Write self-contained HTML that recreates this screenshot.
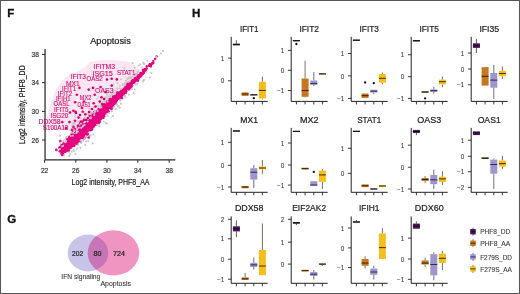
<!DOCTYPE html>
<html><head><meta charset="utf-8"><style>
html,body{margin:0;padding:0;background:#fff;width:520px;height:294px;overflow:hidden;font-family:"Liberation Sans", sans-serif;}
svg{display:block;will-change:transform;position:absolute;left:0;top:0;}
svg.c{filter:blur(0.3px);}
</style></head><body>
<svg class="c" xmlns="http://www.w3.org/2000/svg" width="520" height="294" viewBox="0 0 520 294" font-family='"Liberation Sans", sans-serif'><path d="M90 62 C100 59.5 120 59 132 63 C137 66 140 71 141 76 L82 130 C70 131 55 131 47 128 L47 118 C49 108 52 97 57 88 C62 80 68 74 75 72 C82 70 87 66 90 62 Z" fill="#fde6f1"/>
<circle cx="98.5" cy="107.7" r="1.1" fill="#c9c7cc"/>
<circle cx="87.9" cy="125.2" r="1.1" fill="#c9c7cc"/>
<circle cx="81.0" cy="129.8" r="1.1" fill="#c9c7cc"/>
<circle cx="102.8" cy="115.9" r="1.1" fill="#c9c7cc"/>
<circle cx="96.7" cy="106.0" r="1.1" fill="#c9c7cc"/>
<circle cx="75.6" cy="143.1" r="1.1" fill="#c9c7cc"/>
<circle cx="125.2" cy="86.9" r="1.1" fill="#c9c7cc"/>
<circle cx="112.3" cy="96.3" r="1.1" fill="#c9c7cc"/>
<circle cx="72.9" cy="138.0" r="1.1" fill="#c9c7cc"/>
<circle cx="90.4" cy="114.8" r="1.1" fill="#c9c7cc"/>
<circle cx="127.6" cy="84.4" r="1.1" fill="#c9c7cc"/>
<circle cx="77.1" cy="148.4" r="1.1" fill="#c9c7cc"/>
<circle cx="97.2" cy="110.4" r="1.1" fill="#c9c7cc"/>
<circle cx="86.9" cy="118.1" r="1.1" fill="#c9c7cc"/>
<circle cx="73.3" cy="132.1" r="1.1" fill="#c9c7cc"/>
<circle cx="130.5" cy="84.1" r="1.1" fill="#c9c7cc"/>
<circle cx="69.0" cy="151.8" r="1.1" fill="#c9c7cc"/>
<circle cx="117.3" cy="98.2" r="1.1" fill="#c9c7cc"/>
<circle cx="133.6" cy="92.9" r="1.1" fill="#c9c7cc"/>
<circle cx="116.5" cy="98.7" r="1.1" fill="#c9c7cc"/>
<circle cx="84.0" cy="134.5" r="1.1" fill="#c9c7cc"/>
<circle cx="98.7" cy="106.1" r="1.1" fill="#c9c7cc"/>
<circle cx="60.0" cy="135.7" r="1.1" fill="#c9c7cc"/>
<circle cx="136.9" cy="73.8" r="1.1" fill="#c9c7cc"/>
<circle cx="105.9" cy="99.0" r="1.1" fill="#c9c7cc"/>
<circle cx="107.3" cy="103.6" r="1.1" fill="#c9c7cc"/>
<circle cx="87.0" cy="122.5" r="1.1" fill="#c9c7cc"/>
<circle cx="109.7" cy="100.2" r="1.1" fill="#c9c7cc"/>
<circle cx="61.2" cy="147.0" r="1.1" fill="#c9c7cc"/>
<circle cx="102.2" cy="112.6" r="1.1" fill="#c9c7cc"/>
<circle cx="135.9" cy="74.6" r="1.1" fill="#c9c7cc"/>
<circle cx="122.8" cy="85.1" r="1.1" fill="#c9c7cc"/>
<circle cx="87.6" cy="129.3" r="1.1" fill="#c9c7cc"/>
<circle cx="93.4" cy="117.9" r="1.1" fill="#c9c7cc"/>
<circle cx="90.2" cy="121.2" r="1.1" fill="#c9c7cc"/>
<circle cx="106.5" cy="108.8" r="1.1" fill="#c9c7cc"/>
<circle cx="109.9" cy="106.4" r="1.1" fill="#c9c7cc"/>
<circle cx="106.8" cy="109.1" r="1.1" fill="#c9c7cc"/>
<circle cx="88.9" cy="119.3" r="1.1" fill="#c9c7cc"/>
<circle cx="117.9" cy="92.3" r="1.1" fill="#c9c7cc"/>
<circle cx="120.4" cy="100.4" r="1.1" fill="#c9c7cc"/>
<circle cx="96.5" cy="113.3" r="1.1" fill="#c9c7cc"/>
<circle cx="89.8" cy="117.2" r="1.1" fill="#c9c7cc"/>
<circle cx="75.3" cy="135.7" r="1.1" fill="#c9c7cc"/>
<circle cx="97.7" cy="115.3" r="1.1" fill="#c9c7cc"/>
<circle cx="77.0" cy="130.7" r="1.1" fill="#c9c7cc"/>
<circle cx="102.1" cy="113.9" r="1.1" fill="#c9c7cc"/>
<circle cx="96.7" cy="112.2" r="1.1" fill="#c9c7cc"/>
<circle cx="86.1" cy="141.5" r="1.1" fill="#c9c7cc"/>
<circle cx="75.9" cy="143.4" r="1.1" fill="#c9c7cc"/>
<circle cx="63.6" cy="142.2" r="1.1" fill="#c9c7cc"/>
<circle cx="75.9" cy="135.2" r="1.1" fill="#c9c7cc"/>
<circle cx="71.9" cy="139.8" r="1.1" fill="#c9c7cc"/>
<circle cx="65.5" cy="141.8" r="1.1" fill="#c9c7cc"/>
<circle cx="105.8" cy="123.2" r="1.1" fill="#c9c7cc"/>
<circle cx="126.5" cy="87.8" r="1.1" fill="#c9c7cc"/>
<circle cx="100.0" cy="100.7" r="1.1" fill="#c9c7cc"/>
<circle cx="80.5" cy="126.0" r="1.1" fill="#c9c7cc"/>
<circle cx="102.3" cy="113.5" r="1.1" fill="#c9c7cc"/>
<circle cx="77.2" cy="132.2" r="1.1" fill="#c9c7cc"/>
<circle cx="111.7" cy="111.2" r="1.1" fill="#c9c7cc"/>
<circle cx="103.0" cy="107.3" r="1.1" fill="#c9c7cc"/>
<circle cx="107.5" cy="110.8" r="1.1" fill="#c9c7cc"/>
<circle cx="125.1" cy="91.9" r="1.1" fill="#c9c7cc"/>
<circle cx="95.4" cy="124.9" r="1.1" fill="#c9c7cc"/>
<circle cx="92.9" cy="119.7" r="1.1" fill="#c9c7cc"/>
<circle cx="79.9" cy="140.0" r="1.1" fill="#c9c7cc"/>
<circle cx="88.0" cy="127.6" r="1.1" fill="#c9c7cc"/>
<circle cx="132.2" cy="83.5" r="1.1" fill="#c9c7cc"/>
<circle cx="125.6" cy="91.8" r="1.1" fill="#c9c7cc"/>
<circle cx="65.2" cy="139.8" r="1.1" fill="#c9c7cc"/>
<circle cx="107.9" cy="99.2" r="1.1" fill="#c9c7cc"/>
<circle cx="69.0" cy="151.1" r="1.1" fill="#c9c7cc"/>
<circle cx="84.7" cy="126.1" r="1.1" fill="#c9c7cc"/>
<circle cx="90.4" cy="124.6" r="1.1" fill="#c9c7cc"/>
<circle cx="132.8" cy="85.5" r="1.1" fill="#c9c7cc"/>
<circle cx="90.5" cy="120.3" r="1.1" fill="#c9c7cc"/>
<circle cx="100.7" cy="113.0" r="1.1" fill="#c9c7cc"/>
<circle cx="71.4" cy="138.9" r="1.1" fill="#c9c7cc"/>
<circle cx="127.0" cy="84.6" r="1.1" fill="#c9c7cc"/>
<circle cx="90.1" cy="122.0" r="1.1" fill="#c9c7cc"/>
<circle cx="69.8" cy="143.9" r="1.1" fill="#c9c7cc"/>
<circle cx="63.4" cy="148.9" r="1.1" fill="#c9c7cc"/>
<circle cx="113.2" cy="106.1" r="1.1" fill="#c9c7cc"/>
<circle cx="130.7" cy="78.2" r="1.1" fill="#c9c7cc"/>
<circle cx="95.8" cy="115.1" r="1.1" fill="#c9c7cc"/>
<circle cx="112.8" cy="95.1" r="1.1" fill="#c9c7cc"/>
<circle cx="110.5" cy="97.4" r="1.1" fill="#c9c7cc"/>
<circle cx="87.9" cy="130.5" r="1.1" fill="#c9c7cc"/>
<circle cx="96.7" cy="111.4" r="1.1" fill="#c9c7cc"/>
<circle cx="75.4" cy="135.5" r="1.1" fill="#c9c7cc"/>
<circle cx="77.0" cy="134.7" r="1.1" fill="#c9c7cc"/>
<circle cx="114.9" cy="93.7" r="1.1" fill="#c9c7cc"/>
<circle cx="106.7" cy="123.5" r="1.1" fill="#c9c7cc"/>
<circle cx="63.5" cy="140.7" r="1.1" fill="#c9c7cc"/>
<circle cx="92.6" cy="121.9" r="1.1" fill="#c9c7cc"/>
<circle cx="126.7" cy="85.3" r="1.1" fill="#c9c7cc"/>
<circle cx="144.4" cy="63.9" r="1.1" fill="#c9c7cc"/>
<circle cx="60.9" cy="144.7" r="1.1" fill="#c9c7cc"/>
<circle cx="124.9" cy="83.4" r="1.1" fill="#c9c7cc"/>
<circle cx="95.4" cy="111.8" r="1.1" fill="#c9c7cc"/>
<circle cx="82.4" cy="133.4" r="1.1" fill="#c9c7cc"/>
<circle cx="99.4" cy="120.8" r="1.1" fill="#c9c7cc"/>
<circle cx="97.0" cy="113.3" r="1.1" fill="#c9c7cc"/>
<circle cx="85.7" cy="126.1" r="1.1" fill="#c9c7cc"/>
<circle cx="106.9" cy="105.0" r="1.1" fill="#c9c7cc"/>
<circle cx="87.8" cy="129.4" r="1.1" fill="#c9c7cc"/>
<circle cx="100.8" cy="121.2" r="1.1" fill="#c9c7cc"/>
<circle cx="88.3" cy="127.8" r="1.1" fill="#c9c7cc"/>
<circle cx="63.1" cy="145.9" r="1.1" fill="#c9c7cc"/>
<circle cx="92.3" cy="127.2" r="1.1" fill="#c9c7cc"/>
<circle cx="71.7" cy="132.7" r="1.1" fill="#c9c7cc"/>
<circle cx="73.4" cy="138.8" r="1.1" fill="#c9c7cc"/>
<circle cx="117.2" cy="92.5" r="1.1" fill="#c9c7cc"/>
<circle cx="105.3" cy="111.1" r="1.1" fill="#c9c7cc"/>
<circle cx="81.1" cy="143.0" r="1.1" fill="#c9c7cc"/>
<circle cx="124.8" cy="95.8" r="1.1" fill="#c9c7cc"/>
<circle cx="78.3" cy="144.4" r="1.1" fill="#c9c7cc"/>
<circle cx="108.2" cy="102.5" r="1.1" fill="#c9c7cc"/>
<circle cx="86.9" cy="129.8" r="1.1" fill="#c9c7cc"/>
<circle cx="104.8" cy="108.1" r="1.1" fill="#c9c7cc"/>
<circle cx="94.1" cy="122.8" r="1.1" fill="#c9c7cc"/>
<circle cx="78.4" cy="138.8" r="1.1" fill="#c9c7cc"/>
<circle cx="80.3" cy="131.8" r="1.1" fill="#c9c7cc"/>
<circle cx="123.7" cy="87.9" r="1.1" fill="#c9c7cc"/>
<circle cx="134.9" cy="74.2" r="1.1" fill="#c9c7cc"/>
<circle cx="114.1" cy="97.8" r="1.1" fill="#c9c7cc"/>
<circle cx="112.6" cy="108.1" r="1.1" fill="#c9c7cc"/>
<circle cx="90.7" cy="120.2" r="1.1" fill="#c9c7cc"/>
<circle cx="90.7" cy="135.5" r="1.1" fill="#c9c7cc"/>
<circle cx="118.3" cy="106.4" r="1.1" fill="#c9c7cc"/>
<circle cx="92.0" cy="120.7" r="1.1" fill="#c9c7cc"/>
<circle cx="106.0" cy="111.8" r="1.1" fill="#c9c7cc"/>
<circle cx="114.9" cy="99.2" r="1.1" fill="#c9c7cc"/>
<circle cx="107.4" cy="106.3" r="1.1" fill="#c9c7cc"/>
<circle cx="106.8" cy="114.4" r="1.1" fill="#c9c7cc"/>
<circle cx="131.9" cy="89.0" r="1.1" fill="#c9c7cc"/>
<circle cx="137.6" cy="83.8" r="1.1" fill="#c9c7cc"/>
<circle cx="114.6" cy="97.1" r="1.1" fill="#c9c7cc"/>
<circle cx="120.9" cy="103.7" r="1.1" fill="#c9c7cc"/>
<circle cx="82.7" cy="123.6" r="1.1" fill="#c9c7cc"/>
<circle cx="91.3" cy="120.8" r="1.1" fill="#c9c7cc"/>
<circle cx="63.3" cy="152.7" r="1.1" fill="#c9c7cc"/>
<circle cx="151.1" cy="67.3" r="1.1" fill="#c9c7cc"/>
<circle cx="78.3" cy="142.7" r="1.1" fill="#c9c7cc"/>
<circle cx="98.4" cy="112.8" r="1.1" fill="#c9c7cc"/>
<circle cx="99.8" cy="112.7" r="1.1" fill="#c9c7cc"/>
<circle cx="63.0" cy="150.7" r="1.1" fill="#c9c7cc"/>
<circle cx="128.7" cy="81.7" r="1.1" fill="#c9c7cc"/>
<circle cx="105.2" cy="116.0" r="1.1" fill="#c9c7cc"/>
<circle cx="110.5" cy="107.5" r="1.1" fill="#c9c7cc"/>
<circle cx="131.8" cy="77.2" r="1.1" fill="#c9c7cc"/>
<circle cx="110.9" cy="96.6" r="1.1" fill="#c9c7cc"/>
<circle cx="85.8" cy="132.0" r="1.1" fill="#c9c7cc"/>
<circle cx="83.6" cy="133.8" r="1.1" fill="#c9c7cc"/>
<circle cx="78.7" cy="136.5" r="1.1" fill="#c9c7cc"/>
<circle cx="111.0" cy="104.5" r="1.1" fill="#c9c7cc"/>
<circle cx="87.3" cy="121.0" r="1.1" fill="#c9c7cc"/>
<circle cx="81.7" cy="132.0" r="1.1" fill="#c9c7cc"/>
<circle cx="104.7" cy="104.6" r="1.1" fill="#c9c7cc"/>
<circle cx="86.1" cy="124.7" r="1.1" fill="#c9c7cc"/>
<circle cx="94.6" cy="117.8" r="1.1" fill="#c9c7cc"/>
<circle cx="118.2" cy="106.0" r="1.1" fill="#c9c7cc"/>
<circle cx="73.6" cy="140.4" r="1.1" fill="#c9c7cc"/>
<circle cx="71.9" cy="141.3" r="1.1" fill="#c9c7cc"/>
<circle cx="69.3" cy="145.8" r="1.1" fill="#c9c7cc"/>
<circle cx="91.8" cy="122.0" r="1.1" fill="#c9c7cc"/>
<circle cx="80.5" cy="147.8" r="1.1" fill="#c9c7cc"/>
<circle cx="114.6" cy="97.3" r="1.1" fill="#c9c7cc"/>
<circle cx="135.4" cy="81.0" r="1.1" fill="#c9c7cc"/>
<circle cx="107.3" cy="94.2" r="1.1" fill="#c9c7cc"/>
<circle cx="130.6" cy="85.0" r="1.1" fill="#c9c7cc"/>
<circle cx="118.0" cy="97.9" r="1.1" fill="#c9c7cc"/>
<circle cx="119.8" cy="107.6" r="1.1" fill="#c9c7cc"/>
<circle cx="146.2" cy="71.7" r="1.1" fill="#c9c7cc"/>
<circle cx="86.2" cy="135.3" r="1.1" fill="#c9c7cc"/>
<circle cx="97.7" cy="112.2" r="1.1" fill="#c9c7cc"/>
<circle cx="109.7" cy="104.9" r="1.1" fill="#c9c7cc"/>
<circle cx="73.2" cy="135.4" r="1.1" fill="#c9c7cc"/>
<circle cx="94.0" cy="120.9" r="1.1" fill="#c9c7cc"/>
<circle cx="94.1" cy="116.6" r="1.1" fill="#c9c7cc"/>
<circle cx="72.0" cy="138.3" r="1.1" fill="#c9c7cc"/>
<circle cx="87.5" cy="128.1" r="1.1" fill="#c9c7cc"/>
<circle cx="122.5" cy="98.8" r="1.1" fill="#c9c7cc"/>
<circle cx="125.0" cy="90.2" r="1.1" fill="#c9c7cc"/>
<circle cx="92.3" cy="117.8" r="1.1" fill="#c9c7cc"/>
<circle cx="104.7" cy="113.5" r="1.1" fill="#c9c7cc"/>
<circle cx="76.4" cy="133.9" r="1.1" fill="#c9c7cc"/>
<circle cx="86.6" cy="126.3" r="1.1" fill="#c9c7cc"/>
<circle cx="104.9" cy="116.1" r="1.1" fill="#c9c7cc"/>
<circle cx="78.8" cy="136.4" r="1.1" fill="#c9c7cc"/>
<circle cx="83.3" cy="140.8" r="1.1" fill="#c9c7cc"/>
<circle cx="116.6" cy="97.3" r="1.1" fill="#c9c7cc"/>
<circle cx="100.1" cy="102.9" r="1.1" fill="#c9c7cc"/>
<circle cx="93.4" cy="134.4" r="1.1" fill="#c9c7cc"/>
<circle cx="120.2" cy="92.4" r="1.1" fill="#c9c7cc"/>
<circle cx="117.0" cy="95.5" r="1.1" fill="#c9c7cc"/>
<circle cx="106.3" cy="111.8" r="1.1" fill="#c9c7cc"/>
<circle cx="72.8" cy="125.2" r="1.1" fill="#c9c7cc"/>
<circle cx="125.3" cy="97.1" r="1.1" fill="#c9c7cc"/>
<circle cx="102.9" cy="117.1" r="1.1" fill="#c9c7cc"/>
<circle cx="89.8" cy="113.9" r="1.1" fill="#c9c7cc"/>
<circle cx="112.8" cy="98.4" r="1.1" fill="#c9c7cc"/>
<circle cx="102.9" cy="108.9" r="1.1" fill="#c9c7cc"/>
<circle cx="132.6" cy="76.5" r="1.1" fill="#c9c7cc"/>
<circle cx="102.8" cy="106.3" r="1.1" fill="#c9c7cc"/>
<circle cx="97.7" cy="117.7" r="1.1" fill="#c9c7cc"/>
<circle cx="87.8" cy="128.3" r="1.1" fill="#c9c7cc"/>
<circle cx="86.5" cy="133.5" r="1.1" fill="#c9c7cc"/>
<circle cx="93.0" cy="117.0" r="1.1" fill="#c9c7cc"/>
<circle cx="105.0" cy="108.3" r="1.1" fill="#c9c7cc"/>
<circle cx="83.3" cy="132.9" r="1.1" fill="#c9c7cc"/>
<circle cx="134.7" cy="77.6" r="1.1" fill="#c9c7cc"/>
<circle cx="125.4" cy="85.9" r="1.1" fill="#c9c7cc"/>
<circle cx="69.3" cy="155.9" r="1.1" fill="#c9c7cc"/>
<circle cx="81.0" cy="132.0" r="1.1" fill="#c9c7cc"/>
<circle cx="71.0" cy="136.5" r="1.1" fill="#c9c7cc"/>
<circle cx="121.7" cy="95.1" r="1.1" fill="#c9c7cc"/>
<circle cx="132.7" cy="63.0" r="1.1" fill="#c9c7cc"/>
<circle cx="136.0" cy="84.3" r="1.1" fill="#c9c7cc"/>
<circle cx="134.4" cy="75.8" r="1.1" fill="#c9c7cc"/>
<circle cx="85.8" cy="136.5" r="1.1" fill="#c9c7cc"/>
<circle cx="80.0" cy="130.9" r="1.1" fill="#c9c7cc"/>
<circle cx="60.2" cy="147.8" r="1.1" fill="#c9c7cc"/>
<circle cx="73.4" cy="131.8" r="1.1" fill="#c9c7cc"/>
<circle cx="80.3" cy="125.3" r="1.1" fill="#c9c7cc"/>
<circle cx="88.6" cy="123.7" r="1.1" fill="#c9c7cc"/>
<circle cx="105.2" cy="105.8" r="1.1" fill="#c9c7cc"/>
<circle cx="99.3" cy="121.5" r="1.1" fill="#c9c7cc"/>
<circle cx="85.4" cy="130.7" r="1.1" fill="#c9c7cc"/>
<circle cx="111.9" cy="100.6" r="1.1" fill="#c9c7cc"/>
<circle cx="127.2" cy="78.7" r="1.1" fill="#c9c7cc"/>
<circle cx="126.2" cy="85.0" r="1.1" fill="#c9c7cc"/>
<circle cx="74.6" cy="130.8" r="1.1" fill="#c9c7cc"/>
<circle cx="81.7" cy="128.6" r="1.1" fill="#c9c7cc"/>
<circle cx="126.9" cy="82.1" r="1.1" fill="#c9c7cc"/>
<circle cx="86.2" cy="131.3" r="1.1" fill="#c9c7cc"/>
<circle cx="116.5" cy="102.4" r="1.1" fill="#c9c7cc"/>
<circle cx="64.7" cy="152.6" r="1.1" fill="#c9c7cc"/>
<circle cx="66.3" cy="137.4" r="1.1" fill="#c9c7cc"/>
<circle cx="91.2" cy="125.2" r="1.1" fill="#c9c7cc"/>
<circle cx="103.8" cy="121.5" r="1.1" fill="#c9c7cc"/>
<circle cx="86.7" cy="131.2" r="1.1" fill="#c9c7cc"/>
<circle cx="110.4" cy="108.2" r="1.1" fill="#c9c7cc"/>
<circle cx="98.1" cy="109.6" r="1.1" fill="#c9c7cc"/>
<circle cx="113.9" cy="97.9" r="1.1" fill="#c9c7cc"/>
<circle cx="88.6" cy="132.5" r="1.1" fill="#c9c7cc"/>
<circle cx="140.2" cy="64.4" r="1.1" fill="#c9c7cc"/>
<circle cx="63.7" cy="146.4" r="1.1" fill="#c9c7cc"/>
<circle cx="65.1" cy="148.4" r="1.1" fill="#c9c7cc"/>
<circle cx="92.6" cy="143.3" r="1.1" fill="#c9c7cc"/>
<circle cx="99.1" cy="110.3" r="1.1" fill="#c9c7cc"/>
<circle cx="109.9" cy="99.7" r="1.1" fill="#c9c7cc"/>
<circle cx="93.4" cy="115.5" r="1.1" fill="#c9c7cc"/>
<circle cx="151.5" cy="63.9" r="1.1" fill="#c9c7cc"/>
<circle cx="90.6" cy="131.5" r="1.1" fill="#c9c7cc"/>
<circle cx="66.5" cy="137.4" r="1.1" fill="#c9c7cc"/>
<circle cx="71.9" cy="142.1" r="1.1" fill="#c9c7cc"/>
<circle cx="126.0" cy="84.6" r="1.1" fill="#c9c7cc"/>
<circle cx="104.8" cy="105.4" r="1.1" fill="#c9c7cc"/>
<circle cx="119.3" cy="93.3" r="1.1" fill="#c9c7cc"/>
<circle cx="88.1" cy="133.4" r="1.1" fill="#c9c7cc"/>
<circle cx="112.3" cy="99.7" r="1.1" fill="#c9c7cc"/>
<circle cx="104.3" cy="114.0" r="1.1" fill="#c9c7cc"/>
<circle cx="150.0" cy="77.4" r="1.1" fill="#c9c7cc"/>
<circle cx="76.3" cy="129.9" r="1.1" fill="#c9c7cc"/>
<circle cx="90.8" cy="115.8" r="1.1" fill="#c9c7cc"/>
<circle cx="131.0" cy="85.0" r="1.1" fill="#c9c7cc"/>
<circle cx="76.1" cy="143.2" r="1.1" fill="#c9c7cc"/>
<circle cx="147.4" cy="61.0" r="1.1" fill="#c9c7cc"/>
<circle cx="95.6" cy="114.1" r="1.1" fill="#c9c7cc"/>
<circle cx="63.7" cy="148.3" r="1.1" fill="#c9c7cc"/>
<circle cx="82.6" cy="130.6" r="1.1" fill="#c9c7cc"/>
<circle cx="122.2" cy="89.0" r="1.1" fill="#c9c7cc"/>
<circle cx="103.4" cy="102.1" r="1.1" fill="#c9c7cc"/>
<circle cx="83.5" cy="134.2" r="1.1" fill="#c9c7cc"/>
<circle cx="98.3" cy="113.4" r="1.1" fill="#c9c7cc"/>
<circle cx="128.8" cy="77.7" r="1.1" fill="#c9c7cc"/>
<circle cx="116.9" cy="92.1" r="1.1" fill="#c9c7cc"/>
<circle cx="111.2" cy="93.8" r="1.1" fill="#c9c7cc"/>
<circle cx="122.3" cy="93.7" r="1.1" fill="#c9c7cc"/>
<circle cx="101.5" cy="117.0" r="1.1" fill="#c9c7cc"/>
<circle cx="73.9" cy="151.3" r="1.1" fill="#c9c7cc"/>
<circle cx="115.8" cy="96.5" r="1.1" fill="#c9c7cc"/>
<circle cx="149.4" cy="64.2" r="1.1" fill="#c9c7cc"/>
<circle cx="127.1" cy="88.4" r="1.1" fill="#c9c7cc"/>
<circle cx="128.8" cy="94.7" r="1.1" fill="#c9c7cc"/>
<circle cx="130.7" cy="89.6" r="1.1" fill="#c9c7cc"/>
<circle cx="84.5" cy="138.0" r="1.1" fill="#c9c7cc"/>
<circle cx="100.8" cy="109.2" r="1.1" fill="#c9c7cc"/>
<circle cx="121.1" cy="88.9" r="1.1" fill="#c9c7cc"/>
<circle cx="111.6" cy="95.8" r="1.1" fill="#c9c7cc"/>
<circle cx="97.0" cy="113.2" r="1.1" fill="#c9c7cc"/>
<circle cx="85.2" cy="135.6" r="1.1" fill="#c9c7cc"/>
<circle cx="71.4" cy="134.4" r="1.1" fill="#c9c7cc"/>
<circle cx="71.7" cy="135.0" r="1.1" fill="#c9c7cc"/>
<circle cx="92.3" cy="119.9" r="1.1" fill="#c9c7cc"/>
<circle cx="100.3" cy="111.9" r="1.1" fill="#c9c7cc"/>
<circle cx="99.0" cy="113.9" r="1.1" fill="#c9c7cc"/>
<circle cx="73.1" cy="122.7" r="1.1" fill="#c9c7cc"/>
<circle cx="108.3" cy="98.4" r="1.1" fill="#c9c7cc"/>
<circle cx="60.0" cy="148.6" r="1.1" fill="#c9c7cc"/>
<circle cx="125.3" cy="87.1" r="1.1" fill="#c9c7cc"/>
<circle cx="76.0" cy="130.7" r="1.1" fill="#c9c7cc"/>
<circle cx="83.4" cy="130.6" r="1.1" fill="#c9c7cc"/>
<circle cx="101.0" cy="108.0" r="1.1" fill="#c9c7cc"/>
<circle cx="111.2" cy="104.0" r="1.1" fill="#c9c7cc"/>
<circle cx="78.1" cy="128.9" r="1.1" fill="#c9c7cc"/>
<circle cx="76.0" cy="136.0" r="1.1" fill="#c9c7cc"/>
<circle cx="105.5" cy="107.1" r="1.1" fill="#c9c7cc"/>
<circle cx="130.2" cy="80.6" r="1.1" fill="#c9c7cc"/>
<circle cx="112.7" cy="98.1" r="1.1" fill="#c9c7cc"/>
<circle cx="97.5" cy="113.5" r="1.1" fill="#c9c7cc"/>
<circle cx="85.7" cy="131.8" r="1.1" fill="#c9c7cc"/>
<circle cx="60.2" cy="142.0" r="1.1" fill="#c9c7cc"/>
<circle cx="89.4" cy="135.5" r="1.1" fill="#c9c7cc"/>
<circle cx="64.2" cy="154.8" r="1.1" fill="#c9c7cc"/>
<circle cx="116.1" cy="94.9" r="1.1" fill="#c9c7cc"/>
<circle cx="94.6" cy="115.3" r="1.1" fill="#c9c7cc"/>
<circle cx="100.7" cy="113.3" r="1.1" fill="#c9c7cc"/>
<circle cx="98.6" cy="120.7" r="1.1" fill="#c9c7cc"/>
<circle cx="111.2" cy="106.4" r="1.1" fill="#c9c7cc"/>
<circle cx="99.5" cy="111.8" r="1.1" fill="#c9c7cc"/>
<circle cx="72.2" cy="144.3" r="1.1" fill="#c9c7cc"/>
<circle cx="99.1" cy="113.5" r="1.1" fill="#c9c7cc"/>
<circle cx="103.2" cy="108.7" r="1.1" fill="#c9c7cc"/>
<circle cx="80.0" cy="132.1" r="1.1" fill="#c9c7cc"/>
<circle cx="120.4" cy="99.7" r="1.1" fill="#c9c7cc"/>
<circle cx="104.2" cy="104.9" r="1.1" fill="#c9c7cc"/>
<circle cx="82.2" cy="128.7" r="1.1" fill="#c9c7cc"/>
<circle cx="125.0" cy="88.7" r="1.1" fill="#c9c7cc"/>
<circle cx="116.3" cy="93.1" r="1.1" fill="#c9c7cc"/>
<circle cx="66.0" cy="145.5" r="1.1" fill="#c9c7cc"/>
<circle cx="138.7" cy="65.5" r="1.1" fill="#c9c7cc"/>
<circle cx="100.3" cy="110.7" r="1.1" fill="#c9c7cc"/>
<circle cx="67.9" cy="140.8" r="1.1" fill="#c9c7cc"/>
<circle cx="96.3" cy="110.5" r="1.1" fill="#c9c7cc"/>
<circle cx="116.8" cy="94.9" r="1.1" fill="#c9c7cc"/>
<circle cx="111.4" cy="96.3" r="1.1" fill="#c9c7cc"/>
<circle cx="75.5" cy="153.8" r="1.1" fill="#c9c7cc"/>
<circle cx="90.0" cy="124.0" r="1.1" fill="#c9c7cc"/>
<circle cx="98.8" cy="116.3" r="1.1" fill="#c9c7cc"/>
<circle cx="126.1" cy="80.8" r="1.1" fill="#c9c7cc"/>
<circle cx="143.5" cy="80.5" r="1.1" fill="#c9c7cc"/>
<circle cx="98.8" cy="124.3" r="1.1" fill="#c9c7cc"/>
<circle cx="121.1" cy="91.1" r="1.1" fill="#c9c7cc"/>
<circle cx="114.0" cy="106.9" r="1.1" fill="#c9c7cc"/>
<circle cx="114.8" cy="96.7" r="1.1" fill="#c9c7cc"/>
<circle cx="104.4" cy="115.6" r="1.1" fill="#c9c7cc"/>
<circle cx="71.2" cy="144.3" r="1.1" fill="#c9c7cc"/>
<circle cx="131.6" cy="82.9" r="1.1" fill="#c9c7cc"/>
<circle cx="74.3" cy="137.0" r="1.1" fill="#c9c7cc"/>
<circle cx="72.6" cy="140.6" r="1.1" fill="#c9c7cc"/>
<circle cx="124.3" cy="94.3" r="1.1" fill="#c9c7cc"/>
<circle cx="90.8" cy="125.5" r="1.1" fill="#c9c7cc"/>
<circle cx="77.6" cy="144.1" r="1.1" fill="#c9c7cc"/>
<circle cx="91.7" cy="118.5" r="1.1" fill="#c9c7cc"/>
<circle cx="70.6" cy="137.2" r="1.1" fill="#c9c7cc"/>
<circle cx="101.5" cy="104.6" r="1.1" fill="#c9c7cc"/>
<circle cx="103.8" cy="99.5" r="1.1" fill="#c9c7cc"/>
<circle cx="65.4" cy="151.9" r="1.1" fill="#c9c7cc"/>
<circle cx="67.8" cy="146.1" r="1.1" fill="#c9c7cc"/>
<circle cx="69.6" cy="149.7" r="1.1" fill="#c9c7cc"/>
<circle cx="100.5" cy="112.9" r="1.1" fill="#c9c7cc"/>
<circle cx="100.4" cy="113.1" r="1.1" fill="#c9c7cc"/>
<circle cx="120.5" cy="91.5" r="1.1" fill="#c9c7cc"/>
<circle cx="81.3" cy="127.2" r="1.1" fill="#c9c7cc"/>
<circle cx="107.4" cy="111.7" r="1.1" fill="#c9c7cc"/>
<circle cx="109.2" cy="96.6" r="1.1" fill="#c9c7cc"/>
<circle cx="85.2" cy="134.9" r="1.1" fill="#c9c7cc"/>
<circle cx="105.1" cy="110.0" r="1.1" fill="#c9c7cc"/>
<circle cx="115.1" cy="97.5" r="1.1" fill="#c9c7cc"/>
<circle cx="104.7" cy="101.5" r="1.1" fill="#c9c7cc"/>
<circle cx="72.4" cy="139.8" r="1.1" fill="#c9c7cc"/>
<circle cx="134.7" cy="89.5" r="1.1" fill="#c9c7cc"/>
<circle cx="85.3" cy="145.0" r="1.1" fill="#c9c7cc"/>
<circle cx="87.9" cy="132.1" r="1.1" fill="#c9c7cc"/>
<circle cx="96.3" cy="111.2" r="1.1" fill="#c9c7cc"/>
<circle cx="138.8" cy="71.4" r="1.1" fill="#c9c7cc"/>
<circle cx="125.7" cy="83.0" r="1.1" fill="#c9c7cc"/>
<circle cx="90.5" cy="123.9" r="1.1" fill="#c9c7cc"/>
<circle cx="99.4" cy="126.2" r="1.1" fill="#c9c7cc"/>
<circle cx="81.1" cy="141.5" r="1.1" fill="#c9c7cc"/>
<circle cx="71.2" cy="144.1" r="1.1" fill="#c9c7cc"/>
<circle cx="85.0" cy="127.2" r="1.1" fill="#c9c7cc"/>
<circle cx="81.4" cy="134.3" r="1.1" fill="#c9c7cc"/>
<circle cx="93.7" cy="107.0" r="1.1" fill="#c9c7cc"/>
<circle cx="100.9" cy="105.4" r="1.1" fill="#c9c7cc"/>
<circle cx="110.4" cy="102.4" r="1.1" fill="#c9c7cc"/>
<circle cx="99.7" cy="119.1" r="1.1" fill="#c9c7cc"/>
<circle cx="142.2" cy="67.6" r="1.1" fill="#c9c7cc"/>
<circle cx="93.5" cy="129.5" r="1.1" fill="#c9c7cc"/>
<circle cx="74.6" cy="142.0" r="1.1" fill="#c9c7cc"/>
<circle cx="84.5" cy="136.2" r="1.1" fill="#c9c7cc"/>
<circle cx="87.6" cy="121.5" r="1.1" fill="#c9c7cc"/>
<circle cx="69.9" cy="141.0" r="1.1" fill="#c9c7cc"/>
<circle cx="109.4" cy="104.1" r="1.1" fill="#c9c7cc"/>
<circle cx="100.7" cy="121.1" r="1.1" fill="#c9c7cc"/>
<circle cx="105.2" cy="109.5" r="1.1" fill="#c9c7cc"/>
<circle cx="85.4" cy="136.5" r="1.1" fill="#c9c7cc"/>
<circle cx="66.0" cy="128.9" r="1.1" fill="#c9c7cc"/>
<circle cx="83.3" cy="135.2" r="1.1" fill="#c9c7cc"/>
<circle cx="85.3" cy="115.5" r="1.1" fill="#c9c7cc"/>
<circle cx="112.0" cy="99.5" r="1.1" fill="#c9c7cc"/>
<circle cx="135.4" cy="84.2" r="1.1" fill="#c9c7cc"/>
<circle cx="86.0" cy="123.6" r="1.1" fill="#d3d0d6"/>
<circle cx="114.1" cy="93.3" r="1.1" fill="#d3d0d6"/>
<circle cx="74.9" cy="123.7" r="1.1" fill="#d3d0d6"/>
<circle cx="109.9" cy="97.2" r="1.1" fill="#d3d0d6"/>
<circle cx="74.8" cy="123.7" r="1.1" fill="#d3d0d6"/>
<circle cx="75.4" cy="122.1" r="1.1" fill="#d3d0d6"/>
<circle cx="88.4" cy="114.3" r="1.1" fill="#d3d0d6"/>
<circle cx="97.2" cy="99.0" r="1.1" fill="#d3d0d6"/>
<circle cx="72.3" cy="125.0" r="1.1" fill="#d3d0d6"/>
<circle cx="77.3" cy="120.9" r="1.1" fill="#d3d0d6"/>
<circle cx="117.4" cy="83.2" r="1.1" fill="#d3d0d6"/>
<circle cx="73.1" cy="132.0" r="1.1" fill="#d3d0d6"/>
<circle cx="122.5" cy="84.1" r="1.1" fill="#d3d0d6"/>
<circle cx="100.7" cy="100.1" r="1.1" fill="#d3d0d6"/>
<circle cx="85.9" cy="113.9" r="1.1" fill="#d3d0d6"/>
<circle cx="112.9" cy="93.9" r="1.1" fill="#d3d0d6"/>
<circle cx="94.9" cy="112.8" r="1.1" fill="#d3d0d6"/>
<circle cx="103.1" cy="102.1" r="1.1" fill="#d3d0d6"/>
<circle cx="77.6" cy="121.4" r="1.1" fill="#d3d0d6"/>
<circle cx="80.0" cy="128.5" r="1.1" fill="#d3d0d6"/>
<circle cx="113.2" cy="94.9" r="1.1" fill="#d3d0d6"/>
<circle cx="113.9" cy="92.9" r="1.1" fill="#d3d0d6"/>
<circle cx="91.1" cy="115.3" r="1.1" fill="#d3d0d6"/>
<circle cx="74.6" cy="130.3" r="1.1" fill="#d3d0d6"/>
<circle cx="69.6" cy="139.7" r="1.1" fill="#d3d0d6"/>
<circle cx="112.6" cy="85.1" r="1.1" fill="#d3d0d6"/>
<circle cx="110.9" cy="96.2" r="1.1" fill="#d3d0d6"/>
<circle cx="66.7" cy="136.9" r="1.1" fill="#d3d0d6"/>
<circle cx="89.1" cy="115.2" r="1.1" fill="#d3d0d6"/>
<circle cx="117.0" cy="88.6" r="1.1" fill="#d3d0d6"/>
<circle cx="76.5" cy="126.9" r="1.1" fill="#d3d0d6"/>
<circle cx="93.0" cy="102.6" r="1.1" fill="#d3d0d6"/>
<circle cx="70.5" cy="130.2" r="1.1" fill="#d3d0d6"/>
<circle cx="72.3" cy="126.6" r="1.1" fill="#d3d0d6"/>
<circle cx="106.4" cy="102.6" r="1.1" fill="#d3d0d6"/>
<circle cx="91.5" cy="113.1" r="1.1" fill="#d3d0d6"/>
<circle cx="109.4" cy="95.6" r="1.1" fill="#d3d0d6"/>
<circle cx="98.5" cy="96.9" r="1.1" fill="#d3d0d6"/>
<circle cx="112.0" cy="85.6" r="1.1" fill="#d3d0d6"/>
<circle cx="74.4" cy="128.4" r="1.1" fill="#d3d0d6"/>
<circle cx="99.8" cy="106.4" r="1.1" fill="#d3d0d6"/>
<circle cx="84.0" cy="124.9" r="1.1" fill="#d3d0d6"/>
<circle cx="102.8" cy="104.6" r="1.1" fill="#d3d0d6"/>
<circle cx="88.5" cy="108.0" r="1.1" fill="#d3d0d6"/>
<circle cx="65.5" cy="139.2" r="1.1" fill="#d3d0d6"/>
<circle cx="88.2" cy="113.6" r="1.1" fill="#d3d0d6"/>
<circle cx="80.5" cy="117.6" r="1.1" fill="#d3d0d6"/>
<circle cx="89.6" cy="109.5" r="1.1" fill="#d3d0d6"/>
<circle cx="113.5" cy="84.4" r="1.1" fill="#d3d0d6"/>
<circle cx="122.7" cy="84.8" r="1.1" fill="#d3d0d6"/>
<circle cx="73.3" cy="132.5" r="1.3" fill="#e6057f"/>
<circle cx="71.6" cy="138.3" r="1.3" fill="#e6057f"/>
<circle cx="85.9" cy="131.2" r="1.3" fill="#e6057f"/>
<circle cx="89.6" cy="126.1" r="1.3" fill="#e6057f"/>
<circle cx="95.9" cy="124.6" r="1.3" fill="#e6057f"/>
<circle cx="90.1" cy="121.5" r="1.3" fill="#e6057f"/>
<circle cx="98.4" cy="117.2" r="1.3" fill="#e6057f"/>
<circle cx="81.9" cy="130.2" r="1.3" fill="#e6057f"/>
<circle cx="76.5" cy="143.8" r="1.3" fill="#e6057f"/>
<circle cx="130.0" cy="83.8" r="1.3" fill="#e6057f"/>
<circle cx="103.0" cy="109.7" r="1.3" fill="#e6057f"/>
<circle cx="98.8" cy="116.1" r="1.3" fill="#e6057f"/>
<circle cx="66.9" cy="149.3" r="1.3" fill="#e6057f"/>
<circle cx="87.2" cy="122.8" r="1.3" fill="#e6057f"/>
<circle cx="93.9" cy="124.0" r="1.3" fill="#e6057f"/>
<circle cx="76.6" cy="139.6" r="1.3" fill="#e6057f"/>
<circle cx="78.1" cy="135.3" r="1.3" fill="#e6057f"/>
<circle cx="69.0" cy="140.5" r="1.3" fill="#e6057f"/>
<circle cx="66.1" cy="149.8" r="1.3" fill="#e6057f"/>
<circle cx="108.9" cy="104.6" r="1.3" fill="#e6057f"/>
<circle cx="100.1" cy="110.8" r="1.3" fill="#e6057f"/>
<circle cx="74.1" cy="137.9" r="1.3" fill="#e6057f"/>
<circle cx="109.8" cy="105.2" r="1.3" fill="#e6057f"/>
<circle cx="78.7" cy="137.1" r="1.3" fill="#e6057f"/>
<circle cx="134.8" cy="79.5" r="1.3" fill="#e6057f"/>
<circle cx="75.8" cy="141.5" r="1.3" fill="#e6057f"/>
<circle cx="100.4" cy="114.6" r="1.3" fill="#e6057f"/>
<circle cx="94.4" cy="118.5" r="1.3" fill="#e6057f"/>
<circle cx="96.1" cy="121.8" r="1.3" fill="#e6057f"/>
<circle cx="92.8" cy="120.2" r="1.3" fill="#e6057f"/>
<circle cx="95.5" cy="118.3" r="1.3" fill="#e6057f"/>
<circle cx="95.0" cy="121.2" r="1.3" fill="#e6057f"/>
<circle cx="78.7" cy="137.7" r="1.3" fill="#e6057f"/>
<circle cx="73.3" cy="143.0" r="1.3" fill="#e6057f"/>
<circle cx="122.1" cy="93.8" r="1.3" fill="#e6057f"/>
<circle cx="72.5" cy="135.6" r="1.3" fill="#e6057f"/>
<circle cx="108.4" cy="106.7" r="1.3" fill="#e6057f"/>
<circle cx="113.8" cy="100.2" r="1.3" fill="#e6057f"/>
<circle cx="123.7" cy="90.8" r="1.3" fill="#e6057f"/>
<circle cx="92.6" cy="123.1" r="1.3" fill="#e6057f"/>
<circle cx="107.4" cy="108.3" r="1.3" fill="#e6057f"/>
<circle cx="75.6" cy="142.6" r="1.3" fill="#e6057f"/>
<circle cx="74.8" cy="129.0" r="1.3" fill="#e6057f"/>
<circle cx="88.3" cy="123.7" r="1.3" fill="#e6057f"/>
<circle cx="105.8" cy="111.6" r="1.3" fill="#e6057f"/>
<circle cx="86.0" cy="132.7" r="1.3" fill="#e6057f"/>
<circle cx="96.3" cy="118.6" r="1.3" fill="#e6057f"/>
<circle cx="81.6" cy="136.0" r="1.3" fill="#e6057f"/>
<circle cx="129.4" cy="85.4" r="1.3" fill="#e6057f"/>
<circle cx="90.0" cy="120.7" r="1.3" fill="#e6057f"/>
<circle cx="68.2" cy="148.2" r="1.3" fill="#e6057f"/>
<circle cx="125.7" cy="88.8" r="1.3" fill="#e6057f"/>
<circle cx="93.8" cy="121.7" r="1.3" fill="#e6057f"/>
<circle cx="91.5" cy="126.8" r="1.3" fill="#e6057f"/>
<circle cx="109.2" cy="105.5" r="1.3" fill="#e6057f"/>
<circle cx="130.2" cy="85.1" r="1.3" fill="#e6057f"/>
<circle cx="128.9" cy="87.6" r="1.3" fill="#e6057f"/>
<circle cx="116.5" cy="100.1" r="1.3" fill="#e6057f"/>
<circle cx="141.3" cy="75.7" r="1.3" fill="#e6057f"/>
<circle cx="146.6" cy="68.6" r="1.3" fill="#e6057f"/>
<circle cx="90.9" cy="124.1" r="1.3" fill="#e6057f"/>
<circle cx="73.2" cy="139.1" r="1.3" fill="#e6057f"/>
<circle cx="81.9" cy="134.0" r="1.3" fill="#e6057f"/>
<circle cx="94.8" cy="119.4" r="1.3" fill="#e6057f"/>
<circle cx="84.6" cy="130.0" r="1.3" fill="#e6057f"/>
<circle cx="77.7" cy="138.3" r="1.3" fill="#e6057f"/>
<circle cx="79.5" cy="132.1" r="1.3" fill="#e6057f"/>
<circle cx="95.6" cy="121.7" r="1.3" fill="#e6057f"/>
<circle cx="123.2" cy="90.5" r="1.3" fill="#e6057f"/>
<circle cx="106.9" cy="101.7" r="1.3" fill="#e6057f"/>
<circle cx="64.9" cy="150.7" r="1.3" fill="#e6057f"/>
<circle cx="79.2" cy="140.2" r="1.3" fill="#e6057f"/>
<circle cx="108.8" cy="104.0" r="1.3" fill="#e6057f"/>
<circle cx="75.2" cy="140.2" r="1.3" fill="#e6057f"/>
<circle cx="117.5" cy="95.2" r="1.3" fill="#e6057f"/>
<circle cx="84.2" cy="131.8" r="1.3" fill="#e6057f"/>
<circle cx="99.8" cy="118.7" r="1.3" fill="#e6057f"/>
<circle cx="125.1" cy="89.7" r="1.3" fill="#e6057f"/>
<circle cx="81.7" cy="131.2" r="1.3" fill="#e6057f"/>
<circle cx="111.0" cy="106.1" r="1.3" fill="#e6057f"/>
<circle cx="94.7" cy="115.3" r="1.3" fill="#e6057f"/>
<circle cx="117.2" cy="97.3" r="1.3" fill="#e6057f"/>
<circle cx="74.4" cy="145.6" r="1.3" fill="#e6057f"/>
<circle cx="86.4" cy="126.3" r="1.3" fill="#e6057f"/>
<circle cx="69.8" cy="143.2" r="1.3" fill="#e6057f"/>
<circle cx="123.4" cy="90.3" r="1.3" fill="#e6057f"/>
<circle cx="93.0" cy="120.4" r="1.3" fill="#e6057f"/>
<circle cx="133.8" cy="81.8" r="1.3" fill="#e6057f"/>
<circle cx="103.3" cy="112.7" r="1.3" fill="#e6057f"/>
<circle cx="105.5" cy="111.8" r="1.3" fill="#e6057f"/>
<circle cx="93.3" cy="115.8" r="1.3" fill="#e6057f"/>
<circle cx="82.8" cy="125.9" r="1.3" fill="#e6057f"/>
<circle cx="113.5" cy="101.2" r="1.3" fill="#e6057f"/>
<circle cx="107.3" cy="107.7" r="1.3" fill="#e6057f"/>
<circle cx="90.9" cy="121.5" r="1.3" fill="#e6057f"/>
<circle cx="96.3" cy="111.9" r="1.3" fill="#e6057f"/>
<circle cx="82.3" cy="138.0" r="1.3" fill="#e6057f"/>
<circle cx="93.3" cy="119.4" r="1.3" fill="#e6057f"/>
<circle cx="97.1" cy="120.8" r="1.3" fill="#e6057f"/>
<circle cx="72.8" cy="143.9" r="1.3" fill="#e6057f"/>
<circle cx="80.4" cy="133.8" r="1.3" fill="#e6057f"/>
<circle cx="130.2" cy="86.5" r="1.3" fill="#e6057f"/>
<circle cx="111.9" cy="103.4" r="1.3" fill="#e6057f"/>
<circle cx="100.7" cy="112.1" r="1.3" fill="#e6057f"/>
<circle cx="105.1" cy="109.9" r="1.3" fill="#e6057f"/>
<circle cx="112.8" cy="99.5" r="1.3" fill="#e6057f"/>
<circle cx="93.9" cy="120.1" r="1.3" fill="#e6057f"/>
<circle cx="71.6" cy="140.6" r="1.3" fill="#e6057f"/>
<circle cx="65.5" cy="145.5" r="1.3" fill="#e6057f"/>
<circle cx="107.8" cy="105.8" r="1.3" fill="#e6057f"/>
<circle cx="104.5" cy="111.7" r="1.3" fill="#e6057f"/>
<circle cx="74.1" cy="142.3" r="1.3" fill="#e6057f"/>
<circle cx="145.5" cy="69.3" r="1.3" fill="#e6057f"/>
<circle cx="92.9" cy="122.8" r="1.3" fill="#e6057f"/>
<circle cx="73.3" cy="140.9" r="1.3" fill="#e6057f"/>
<circle cx="91.4" cy="129.7" r="1.3" fill="#e6057f"/>
<circle cx="83.6" cy="130.3" r="1.3" fill="#e6057f"/>
<circle cx="70.8" cy="140.3" r="1.3" fill="#e6057f"/>
<circle cx="82.2" cy="132.9" r="1.3" fill="#e6057f"/>
<circle cx="116.9" cy="99.0" r="1.3" fill="#e6057f"/>
<circle cx="93.8" cy="117.6" r="1.3" fill="#e6057f"/>
<circle cx="62.3" cy="153.3" r="1.3" fill="#e6057f"/>
<circle cx="98.3" cy="114.6" r="1.3" fill="#e6057f"/>
<circle cx="72.3" cy="141.4" r="1.3" fill="#e6057f"/>
<circle cx="69.5" cy="145.8" r="1.3" fill="#e6057f"/>
<circle cx="110.9" cy="105.8" r="1.3" fill="#e6057f"/>
<circle cx="126.4" cy="88.6" r="1.3" fill="#e6057f"/>
<circle cx="76.4" cy="139.1" r="1.3" fill="#e6057f"/>
<circle cx="110.0" cy="103.1" r="1.3" fill="#e6057f"/>
<circle cx="71.2" cy="143.1" r="1.3" fill="#e6057f"/>
<circle cx="126.1" cy="91.2" r="1.3" fill="#e6057f"/>
<circle cx="110.9" cy="105.4" r="1.3" fill="#e6057f"/>
<circle cx="92.8" cy="122.0" r="1.3" fill="#e6057f"/>
<circle cx="94.3" cy="115.2" r="1.3" fill="#e6057f"/>
<circle cx="98.8" cy="117.7" r="1.3" fill="#e6057f"/>
<circle cx="79.4" cy="129.6" r="1.3" fill="#e6057f"/>
<circle cx="84.0" cy="132.9" r="1.3" fill="#e6057f"/>
<circle cx="75.1" cy="140.4" r="1.3" fill="#e6057f"/>
<circle cx="138.4" cy="78.4" r="1.3" fill="#e6057f"/>
<circle cx="98.8" cy="116.9" r="1.3" fill="#e6057f"/>
<circle cx="136.9" cy="78.5" r="1.3" fill="#e6057f"/>
<circle cx="75.3" cy="137.7" r="1.3" fill="#e6057f"/>
<circle cx="111.2" cy="106.6" r="1.3" fill="#e6057f"/>
<circle cx="88.2" cy="119.6" r="1.3" fill="#e6057f"/>
<circle cx="97.1" cy="118.9" r="1.3" fill="#e6057f"/>
<circle cx="149.8" cy="64.4" r="1.3" fill="#e6057f"/>
<circle cx="93.9" cy="115.2" r="1.3" fill="#e6057f"/>
<circle cx="86.2" cy="126.5" r="1.3" fill="#e6057f"/>
<circle cx="90.5" cy="123.1" r="1.3" fill="#e6057f"/>
<circle cx="73.2" cy="144.0" r="1.3" fill="#e6057f"/>
<circle cx="89.2" cy="127.8" r="1.3" fill="#e6057f"/>
<circle cx="76.5" cy="138.8" r="1.3" fill="#e6057f"/>
<circle cx="143.0" cy="70.1" r="1.3" fill="#e6057f"/>
<circle cx="94.9" cy="120.4" r="1.3" fill="#e6057f"/>
<circle cx="87.5" cy="122.2" r="1.3" fill="#e6057f"/>
<circle cx="76.6" cy="136.4" r="1.3" fill="#e6057f"/>
<circle cx="63.8" cy="148.9" r="1.3" fill="#e6057f"/>
<circle cx="81.2" cy="123.9" r="1.3" fill="#e6057f"/>
<circle cx="118.6" cy="96.1" r="1.3" fill="#e6057f"/>
<circle cx="105.0" cy="109.0" r="1.3" fill="#e6057f"/>
<circle cx="104.4" cy="112.0" r="1.3" fill="#e6057f"/>
<circle cx="64.7" cy="150.7" r="1.3" fill="#e6057f"/>
<circle cx="111.7" cy="101.2" r="1.3" fill="#e6057f"/>
<circle cx="101.8" cy="112.3" r="1.3" fill="#e6057f"/>
<circle cx="86.5" cy="124.6" r="1.3" fill="#e6057f"/>
<circle cx="74.3" cy="143.2" r="1.3" fill="#e6057f"/>
<circle cx="119.3" cy="93.8" r="1.3" fill="#e6057f"/>
<circle cx="95.5" cy="120.7" r="1.3" fill="#e6057f"/>
<circle cx="76.8" cy="140.7" r="1.3" fill="#e6057f"/>
<circle cx="79.9" cy="137.9" r="1.3" fill="#e6057f"/>
<circle cx="119.3" cy="96.5" r="1.3" fill="#e6057f"/>
<circle cx="75.4" cy="140.4" r="1.3" fill="#e6057f"/>
<circle cx="65.3" cy="144.3" r="1.3" fill="#e6057f"/>
<circle cx="120.8" cy="93.7" r="1.3" fill="#e6057f"/>
<circle cx="84.4" cy="134.0" r="1.3" fill="#e6057f"/>
<circle cx="84.6" cy="130.2" r="1.3" fill="#e6057f"/>
<circle cx="104.8" cy="111.5" r="1.3" fill="#e6057f"/>
<circle cx="77.4" cy="138.5" r="1.3" fill="#e6057f"/>
<circle cx="104.1" cy="111.1" r="1.3" fill="#e6057f"/>
<circle cx="102.7" cy="112.1" r="1.3" fill="#e6057f"/>
<circle cx="99.9" cy="118.4" r="1.3" fill="#e6057f"/>
<circle cx="106.6" cy="107.0" r="1.3" fill="#e6057f"/>
<circle cx="86.7" cy="127.0" r="1.3" fill="#e6057f"/>
<circle cx="118.8" cy="97.1" r="1.3" fill="#e6057f"/>
<circle cx="120.6" cy="93.9" r="1.3" fill="#e6057f"/>
<circle cx="92.5" cy="121.1" r="1.3" fill="#e6057f"/>
<circle cx="105.9" cy="111.4" r="1.3" fill="#e6057f"/>
<circle cx="59.8" cy="151.3" r="1.3" fill="#e6057f"/>
<circle cx="104.2" cy="107.0" r="1.3" fill="#e6057f"/>
<circle cx="105.8" cy="110.9" r="1.3" fill="#e6057f"/>
<circle cx="84.3" cy="131.7" r="1.3" fill="#e6057f"/>
<circle cx="80.4" cy="130.9" r="1.3" fill="#e6057f"/>
<circle cx="93.0" cy="124.2" r="1.3" fill="#e6057f"/>
<circle cx="73.2" cy="139.3" r="1.3" fill="#e6057f"/>
<circle cx="103.5" cy="116.0" r="1.3" fill="#e6057f"/>
<circle cx="87.2" cy="126.4" r="1.3" fill="#e6057f"/>
<circle cx="67.8" cy="145.4" r="1.3" fill="#e6057f"/>
<circle cx="106.0" cy="111.2" r="1.3" fill="#e6057f"/>
<circle cx="105.8" cy="106.4" r="1.3" fill="#e6057f"/>
<circle cx="67.5" cy="145.3" r="1.3" fill="#e6057f"/>
<circle cx="75.2" cy="138.8" r="1.3" fill="#e6057f"/>
<circle cx="101.9" cy="110.8" r="1.3" fill="#e6057f"/>
<circle cx="95.4" cy="121.3" r="1.3" fill="#e6057f"/>
<circle cx="95.4" cy="118.5" r="1.3" fill="#e6057f"/>
<circle cx="95.2" cy="120.6" r="1.3" fill="#e6057f"/>
<circle cx="92.0" cy="122.5" r="1.3" fill="#e6057f"/>
<circle cx="93.4" cy="121.6" r="1.3" fill="#e6057f"/>
<circle cx="82.4" cy="129.4" r="1.3" fill="#e6057f"/>
<circle cx="68.4" cy="148.3" r="1.3" fill="#e6057f"/>
<circle cx="101.9" cy="112.4" r="1.3" fill="#e6057f"/>
<circle cx="80.0" cy="133.4" r="1.3" fill="#e6057f"/>
<circle cx="100.7" cy="116.1" r="1.3" fill="#e6057f"/>
<circle cx="93.4" cy="121.2" r="1.3" fill="#e6057f"/>
<circle cx="75.3" cy="143.0" r="1.3" fill="#e6057f"/>
<circle cx="98.3" cy="120.0" r="1.3" fill="#e6057f"/>
<circle cx="94.6" cy="115.7" r="1.3" fill="#e6057f"/>
<circle cx="100.8" cy="112.4" r="1.3" fill="#e6057f"/>
<circle cx="116.3" cy="99.1" r="1.3" fill="#e6057f"/>
<circle cx="98.7" cy="113.2" r="1.3" fill="#e6057f"/>
<circle cx="95.4" cy="116.5" r="1.3" fill="#e6057f"/>
<circle cx="90.6" cy="123.6" r="1.3" fill="#e6057f"/>
<circle cx="74.3" cy="141.1" r="1.3" fill="#e6057f"/>
<circle cx="121.8" cy="93.3" r="1.3" fill="#e6057f"/>
<circle cx="114.2" cy="100.4" r="1.3" fill="#e6057f"/>
<circle cx="117.5" cy="97.8" r="1.3" fill="#e6057f"/>
<circle cx="71.7" cy="142.6" r="1.3" fill="#e6057f"/>
<circle cx="124.3" cy="89.4" r="1.3" fill="#e6057f"/>
<circle cx="73.1" cy="138.7" r="1.3" fill="#e6057f"/>
<circle cx="84.6" cy="126.8" r="1.3" fill="#e6057f"/>
<circle cx="99.1" cy="116.4" r="1.3" fill="#e6057f"/>
<circle cx="69.3" cy="141.1" r="1.3" fill="#e6057f"/>
<circle cx="131.6" cy="86.5" r="1.3" fill="#e6057f"/>
<circle cx="91.4" cy="127.4" r="1.3" fill="#e6057f"/>
<circle cx="102.1" cy="111.8" r="1.3" fill="#e6057f"/>
<circle cx="104.9" cy="111.4" r="1.3" fill="#e6057f"/>
<circle cx="101.0" cy="114.3" r="1.3" fill="#e6057f"/>
<circle cx="73.3" cy="144.7" r="1.3" fill="#e6057f"/>
<circle cx="78.1" cy="136.1" r="1.3" fill="#e6057f"/>
<circle cx="81.4" cy="131.3" r="1.3" fill="#e6057f"/>
<circle cx="95.0" cy="123.2" r="1.3" fill="#e6057f"/>
<circle cx="110.0" cy="107.7" r="1.3" fill="#e6057f"/>
<circle cx="92.7" cy="118.8" r="1.3" fill="#e6057f"/>
<circle cx="69.3" cy="147.3" r="1.3" fill="#e6057f"/>
<circle cx="84.6" cy="130.4" r="1.3" fill="#e6057f"/>
<circle cx="62.3" cy="146.7" r="1.3" fill="#e6057f"/>
<circle cx="83.3" cy="127.4" r="1.3" fill="#e6057f"/>
<circle cx="83.6" cy="135.3" r="1.3" fill="#e6057f"/>
<circle cx="91.6" cy="120.2" r="1.3" fill="#e6057f"/>
<circle cx="83.8" cy="131.4" r="1.3" fill="#e6057f"/>
<circle cx="83.1" cy="135.3" r="1.3" fill="#e6057f"/>
<circle cx="108.9" cy="107.1" r="1.3" fill="#e6057f"/>
<circle cx="125.4" cy="89.7" r="1.3" fill="#e6057f"/>
<circle cx="92.5" cy="114.0" r="1.3" fill="#e6057f"/>
<circle cx="88.3" cy="124.1" r="1.3" fill="#e6057f"/>
<circle cx="129.0" cy="87.9" r="1.3" fill="#e6057f"/>
<circle cx="130.2" cy="83.5" r="1.3" fill="#e6057f"/>
<circle cx="62.7" cy="152.6" r="1.3" fill="#e6057f"/>
<circle cx="82.4" cy="127.5" r="1.3" fill="#e6057f"/>
<circle cx="84.7" cy="128.3" r="1.3" fill="#e6057f"/>
<circle cx="98.1" cy="117.3" r="1.3" fill="#e6057f"/>
<circle cx="144.4" cy="69.6" r="1.3" fill="#e6057f"/>
<circle cx="64.3" cy="151.8" r="1.3" fill="#e6057f"/>
<circle cx="62.7" cy="148.3" r="1.3" fill="#e6057f"/>
<circle cx="124.9" cy="89.7" r="1.3" fill="#e6057f"/>
<circle cx="90.5" cy="124.5" r="1.3" fill="#e6057f"/>
<circle cx="81.1" cy="134.3" r="1.3" fill="#e6057f"/>
<circle cx="88.3" cy="129.0" r="1.3" fill="#e6057f"/>
<circle cx="69.6" cy="147.8" r="1.3" fill="#e6057f"/>
<circle cx="103.1" cy="110.2" r="1.3" fill="#e6057f"/>
<circle cx="72.2" cy="142.8" r="1.3" fill="#e6057f"/>
<circle cx="83.7" cy="128.7" r="1.3" fill="#e6057f"/>
<circle cx="83.0" cy="126.9" r="1.3" fill="#e6057f"/>
<circle cx="109.3" cy="103.6" r="1.3" fill="#e6057f"/>
<circle cx="97.1" cy="118.1" r="1.3" fill="#e6057f"/>
<circle cx="73.2" cy="143.3" r="1.3" fill="#e6057f"/>
<circle cx="99.0" cy="113.7" r="1.3" fill="#e6057f"/>
<circle cx="75.3" cy="130.7" r="1.3" fill="#e6057f"/>
<circle cx="87.2" cy="125.6" r="1.3" fill="#e6057f"/>
<circle cx="110.6" cy="103.3" r="1.3" fill="#e6057f"/>
<circle cx="76.0" cy="137.6" r="1.3" fill="#e6057f"/>
<circle cx="87.5" cy="127.4" r="1.3" fill="#e6057f"/>
<circle cx="114.9" cy="99.6" r="1.3" fill="#e6057f"/>
<circle cx="71.4" cy="141.1" r="1.3" fill="#e6057f"/>
<circle cx="119.6" cy="95.4" r="1.3" fill="#e6057f"/>
<circle cx="102.2" cy="113.1" r="1.3" fill="#e6057f"/>
<circle cx="77.4" cy="137.5" r="1.3" fill="#e6057f"/>
<circle cx="79.9" cy="133.2" r="1.3" fill="#e6057f"/>
<circle cx="111.6" cy="101.9" r="1.3" fill="#e6057f"/>
<circle cx="100.1" cy="115.2" r="1.3" fill="#e6057f"/>
<circle cx="102.0" cy="115.1" r="1.3" fill="#e6057f"/>
<circle cx="99.1" cy="116.4" r="1.3" fill="#e6057f"/>
<circle cx="91.9" cy="121.5" r="1.3" fill="#e6057f"/>
<circle cx="99.8" cy="113.8" r="1.3" fill="#e6057f"/>
<circle cx="73.1" cy="140.9" r="1.3" fill="#e6057f"/>
<circle cx="136.2" cy="78.5" r="1.3" fill="#e6057f"/>
<circle cx="71.1" cy="145.5" r="1.3" fill="#e6057f"/>
<circle cx="96.7" cy="117.5" r="1.3" fill="#e6057f"/>
<circle cx="89.8" cy="122.1" r="1.3" fill="#e6057f"/>
<circle cx="116.3" cy="100.9" r="1.3" fill="#e6057f"/>
<circle cx="110.3" cy="105.4" r="1.3" fill="#e6057f"/>
<circle cx="106.8" cy="111.9" r="1.3" fill="#e6057f"/>
<circle cx="128.2" cy="88.3" r="1.3" fill="#e6057f"/>
<circle cx="70.2" cy="144.3" r="1.3" fill="#e6057f"/>
<circle cx="65.0" cy="151.5" r="1.3" fill="#e6057f"/>
<circle cx="105.8" cy="109.2" r="1.3" fill="#e6057f"/>
<circle cx="89.0" cy="126.3" r="1.3" fill="#e6057f"/>
<circle cx="117.4" cy="92.5" r="1.3" fill="#e6057f"/>
<circle cx="106.8" cy="111.3" r="1.3" fill="#e6057f"/>
<circle cx="108.2" cy="107.1" r="1.3" fill="#e6057f"/>
<circle cx="87.9" cy="128.3" r="1.3" fill="#e6057f"/>
<circle cx="78.2" cy="140.3" r="1.3" fill="#e6057f"/>
<circle cx="67.7" cy="145.3" r="1.3" fill="#e6057f"/>
<circle cx="127.0" cy="87.2" r="1.3" fill="#e6057f"/>
<circle cx="87.4" cy="134.4" r="1.3" fill="#e6057f"/>
<circle cx="89.8" cy="124.2" r="1.3" fill="#e6057f"/>
<circle cx="100.1" cy="118.3" r="1.3" fill="#e6057f"/>
<circle cx="107.5" cy="110.4" r="1.3" fill="#e6057f"/>
<circle cx="101.9" cy="111.8" r="1.3" fill="#e6057f"/>
<circle cx="118.6" cy="94.8" r="1.3" fill="#e6057f"/>
<circle cx="75.0" cy="120.7" r="1.3" fill="#e6057f"/>
<circle cx="103.2" cy="112.9" r="1.3" fill="#e6057f"/>
<circle cx="123.7" cy="93.7" r="1.3" fill="#e6057f"/>
<circle cx="74.8" cy="142.4" r="1.3" fill="#e6057f"/>
<circle cx="87.6" cy="128.4" r="1.3" fill="#e6057f"/>
<circle cx="120.2" cy="95.4" r="1.3" fill="#e6057f"/>
<circle cx="76.4" cy="137.4" r="1.3" fill="#e6057f"/>
<circle cx="83.5" cy="132.3" r="1.3" fill="#e6057f"/>
<circle cx="112.5" cy="101.2" r="1.3" fill="#e6057f"/>
<circle cx="115.4" cy="102.9" r="1.3" fill="#e6057f"/>
<circle cx="121.2" cy="94.5" r="1.3" fill="#e6057f"/>
<circle cx="123.1" cy="91.2" r="1.3" fill="#e6057f"/>
<circle cx="84.1" cy="132.2" r="1.3" fill="#e6057f"/>
<circle cx="67.0" cy="145.9" r="1.3" fill="#e6057f"/>
<circle cx="60.8" cy="151.4" r="1.3" fill="#e6057f"/>
<circle cx="82.8" cy="128.5" r="1.3" fill="#e6057f"/>
<circle cx="127.8" cy="85.1" r="1.3" fill="#e6057f"/>
<circle cx="123.1" cy="92.2" r="1.3" fill="#e6057f"/>
<circle cx="63.3" cy="150.9" r="1.3" fill="#e6057f"/>
<circle cx="69.4" cy="146.0" r="1.3" fill="#e6057f"/>
<circle cx="138.2" cy="78.3" r="1.3" fill="#e6057f"/>
<circle cx="103.4" cy="112.9" r="1.3" fill="#e6057f"/>
<circle cx="108.2" cy="101.9" r="1.3" fill="#e6057f"/>
<circle cx="106.2" cy="110.2" r="1.3" fill="#e6057f"/>
<circle cx="121.4" cy="93.7" r="1.3" fill="#e6057f"/>
<circle cx="84.4" cy="131.8" r="1.3" fill="#e6057f"/>
<circle cx="94.0" cy="120.8" r="1.3" fill="#e6057f"/>
<circle cx="91.5" cy="124.9" r="1.3" fill="#e6057f"/>
<circle cx="85.4" cy="125.4" r="1.3" fill="#e6057f"/>
<circle cx="82.6" cy="130.6" r="1.3" fill="#e6057f"/>
<circle cx="115.1" cy="98.8" r="1.3" fill="#e6057f"/>
<circle cx="98.5" cy="115.8" r="1.3" fill="#e6057f"/>
<circle cx="121.3" cy="93.9" r="1.3" fill="#e6057f"/>
<circle cx="86.4" cy="128.4" r="1.3" fill="#e6057f"/>
<circle cx="84.8" cy="128.1" r="1.3" fill="#e6057f"/>
<circle cx="86.0" cy="128.4" r="1.3" fill="#e6057f"/>
<circle cx="117.3" cy="94.0" r="1.3" fill="#e6057f"/>
<circle cx="141.9" cy="74.1" r="1.3" fill="#e6057f"/>
<circle cx="93.0" cy="121.2" r="1.3" fill="#e6057f"/>
<circle cx="72.8" cy="137.3" r="1.3" fill="#e6057f"/>
<circle cx="81.6" cy="123.7" r="1.3" fill="#e6057f"/>
<circle cx="128.0" cy="87.9" r="1.3" fill="#e6057f"/>
<circle cx="82.1" cy="135.5" r="1.3" fill="#e6057f"/>
<circle cx="96.8" cy="118.4" r="1.3" fill="#e6057f"/>
<circle cx="112.3" cy="105.4" r="1.3" fill="#e6057f"/>
<circle cx="69.5" cy="145.5" r="1.3" fill="#e6057f"/>
<circle cx="88.6" cy="137.5" r="1.3" fill="#e6057f"/>
<circle cx="99.8" cy="117.8" r="1.3" fill="#e6057f"/>
<circle cx="85.0" cy="133.2" r="1.3" fill="#e6057f"/>
<circle cx="103.7" cy="113.2" r="1.3" fill="#e6057f"/>
<circle cx="97.8" cy="119.3" r="1.3" fill="#e6057f"/>
<circle cx="106.7" cy="109.8" r="1.3" fill="#e6057f"/>
<circle cx="125.4" cy="92.4" r="1.3" fill="#e6057f"/>
<circle cx="137.9" cy="78.2" r="1.3" fill="#e6057f"/>
<circle cx="110.2" cy="103.8" r="1.3" fill="#e6057f"/>
<circle cx="85.4" cy="133.0" r="1.3" fill="#e6057f"/>
<circle cx="82.2" cy="135.3" r="1.3" fill="#e6057f"/>
<circle cx="108.5" cy="105.5" r="1.3" fill="#e6057f"/>
<circle cx="80.4" cy="134.6" r="1.3" fill="#e6057f"/>
<circle cx="124.7" cy="90.1" r="1.3" fill="#e6057f"/>
<circle cx="59.5" cy="147.9" r="1.3" fill="#e6057f"/>
<circle cx="129.1" cy="85.1" r="1.3" fill="#e6057f"/>
<circle cx="114.2" cy="100.6" r="1.3" fill="#e6057f"/>
<circle cx="72.9" cy="145.0" r="1.3" fill="#e6057f"/>
<circle cx="69.7" cy="140.8" r="1.3" fill="#e6057f"/>
<circle cx="110.4" cy="104.7" r="1.3" fill="#e6057f"/>
<circle cx="121.9" cy="95.4" r="1.3" fill="#e6057f"/>
<circle cx="83.0" cy="135.0" r="1.3" fill="#e6057f"/>
<circle cx="120.8" cy="94.2" r="1.3" fill="#e6057f"/>
<circle cx="106.8" cy="107.1" r="1.3" fill="#e6057f"/>
<circle cx="67.4" cy="147.1" r="1.3" fill="#e6057f"/>
<circle cx="88.5" cy="125.9" r="1.3" fill="#e6057f"/>
<circle cx="74.0" cy="140.4" r="1.3" fill="#e6057f"/>
<circle cx="84.5" cy="129.2" r="1.3" fill="#e6057f"/>
<circle cx="127.6" cy="86.0" r="1.3" fill="#e6057f"/>
<circle cx="103.2" cy="111.3" r="1.3" fill="#e6057f"/>
<circle cx="118.0" cy="93.8" r="1.3" fill="#e6057f"/>
<circle cx="81.2" cy="130.6" r="1.3" fill="#e6057f"/>
<circle cx="104.2" cy="113.7" r="1.3" fill="#e6057f"/>
<circle cx="83.8" cy="132.6" r="1.3" fill="#e6057f"/>
<circle cx="111.4" cy="107.1" r="1.3" fill="#e6057f"/>
<circle cx="136.0" cy="78.6" r="1.3" fill="#e6057f"/>
<circle cx="106.5" cy="105.3" r="1.3" fill="#e6057f"/>
<circle cx="71.7" cy="139.7" r="1.3" fill="#e6057f"/>
<circle cx="150.7" cy="66.0" r="1.3" fill="#e6057f"/>
<circle cx="97.6" cy="117.2" r="1.3" fill="#e6057f"/>
<circle cx="106.6" cy="104.9" r="1.3" fill="#e6057f"/>
<circle cx="113.3" cy="100.7" r="1.3" fill="#e6057f"/>
<circle cx="92.5" cy="123.5" r="1.3" fill="#e6057f"/>
<circle cx="90.1" cy="128.5" r="1.3" fill="#e6057f"/>
<circle cx="72.0" cy="143.9" r="1.3" fill="#e6057f"/>
<circle cx="85.6" cy="128.5" r="1.3" fill="#e6057f"/>
<circle cx="101.0" cy="117.1" r="1.3" fill="#e6057f"/>
<circle cx="68.0" cy="142.0" r="1.3" fill="#e6057f"/>
<circle cx="100.5" cy="113.4" r="1.3" fill="#e6057f"/>
<circle cx="117.2" cy="98.3" r="1.3" fill="#e6057f"/>
<circle cx="114.5" cy="99.0" r="1.3" fill="#e6057f"/>
<circle cx="91.3" cy="124.2" r="1.3" fill="#e6057f"/>
<circle cx="74.0" cy="142.5" r="1.3" fill="#e6057f"/>
<circle cx="77.0" cy="134.7" r="1.3" fill="#e6057f"/>
<circle cx="81.1" cy="127.6" r="1.3" fill="#e6057f"/>
<circle cx="124.8" cy="89.1" r="1.3" fill="#e6057f"/>
<circle cx="77.1" cy="131.7" r="1.3" fill="#e6057f"/>
<circle cx="77.2" cy="137.7" r="1.3" fill="#e6057f"/>
<circle cx="80.5" cy="132.7" r="1.3" fill="#e6057f"/>
<circle cx="78.1" cy="132.4" r="1.3" fill="#e6057f"/>
<circle cx="76.8" cy="133.9" r="1.3" fill="#e6057f"/>
<circle cx="104.3" cy="111.0" r="1.3" fill="#e6057f"/>
<circle cx="71.1" cy="141.8" r="1.3" fill="#e6057f"/>
<circle cx="75.7" cy="135.3" r="1.3" fill="#e6057f"/>
<circle cx="85.6" cy="131.6" r="1.3" fill="#e6057f"/>
<circle cx="102.7" cy="109.8" r="1.3" fill="#e6057f"/>
<circle cx="114.9" cy="101.5" r="1.3" fill="#e6057f"/>
<circle cx="91.5" cy="123.9" r="1.3" fill="#e6057f"/>
<circle cx="106.4" cy="109.2" r="1.3" fill="#e6057f"/>
<circle cx="112.9" cy="103.2" r="1.3" fill="#e6057f"/>
<circle cx="120.9" cy="95.1" r="1.3" fill="#e6057f"/>
<circle cx="109.0" cy="103.2" r="1.3" fill="#e6057f"/>
<circle cx="74.2" cy="138.1" r="1.3" fill="#e6057f"/>
<circle cx="145.6" cy="69.8" r="1.3" fill="#e6057f"/>
<circle cx="128.0" cy="88.6" r="1.3" fill="#e6057f"/>
<circle cx="76.8" cy="139.2" r="1.3" fill="#e6057f"/>
<circle cx="80.3" cy="131.7" r="1.3" fill="#e6057f"/>
<circle cx="95.7" cy="124.6" r="1.3" fill="#e6057f"/>
<circle cx="87.8" cy="127.0" r="1.3" fill="#e6057f"/>
<circle cx="111.1" cy="99.9" r="1.3" fill="#e6057f"/>
<circle cx="92.8" cy="122.6" r="1.3" fill="#e6057f"/>
<circle cx="101.2" cy="110.2" r="1.3" fill="#e6057f"/>
<circle cx="87.4" cy="130.4" r="1.3" fill="#e6057f"/>
<circle cx="72.9" cy="145.2" r="1.3" fill="#e6057f"/>
<circle cx="64.5" cy="148.5" r="1.3" fill="#e6057f"/>
<circle cx="107.0" cy="108.9" r="1.3" fill="#e6057f"/>
<circle cx="87.6" cy="134.0" r="1.3" fill="#e6057f"/>
<circle cx="98.9" cy="113.4" r="1.3" fill="#e6057f"/>
<circle cx="69.3" cy="136.9" r="1.3" fill="#e6057f"/>
<circle cx="102.1" cy="114.4" r="1.3" fill="#e6057f"/>
<circle cx="99.8" cy="117.7" r="1.3" fill="#e6057f"/>
<circle cx="125.5" cy="89.2" r="1.3" fill="#e6057f"/>
<circle cx="77.3" cy="138.6" r="1.3" fill="#e6057f"/>
<circle cx="123.6" cy="92.9" r="1.3" fill="#e6057f"/>
<circle cx="118.3" cy="95.7" r="1.3" fill="#e6057f"/>
<circle cx="79.8" cy="136.3" r="1.3" fill="#e6057f"/>
<circle cx="81.7" cy="135.1" r="1.3" fill="#e6057f"/>
<circle cx="85.8" cy="126.2" r="1.3" fill="#e6057f"/>
<circle cx="84.9" cy="130.9" r="1.3" fill="#e6057f"/>
<circle cx="109.1" cy="105.4" r="1.3" fill="#e6057f"/>
<circle cx="79.0" cy="130.6" r="1.3" fill="#e6057f"/>
<circle cx="97.3" cy="113.0" r="1.3" fill="#e6057f"/>
<circle cx="72.1" cy="129.9" r="1.3" fill="#e6057f"/>
<circle cx="82.3" cy="132.0" r="1.3" fill="#e6057f"/>
<circle cx="87.1" cy="129.8" r="1.3" fill="#e6057f"/>
<circle cx="121.6" cy="91.2" r="1.3" fill="#e6057f"/>
<circle cx="85.4" cy="133.9" r="1.3" fill="#e6057f"/>
<circle cx="92.7" cy="124.0" r="1.3" fill="#e6057f"/>
<circle cx="126.3" cy="88.1" r="1.3" fill="#e6057f"/>
<circle cx="66.6" cy="148.5" r="1.3" fill="#e6057f"/>
<circle cx="92.3" cy="124.5" r="1.3" fill="#e6057f"/>
<circle cx="90.1" cy="121.3" r="1.3" fill="#e6057f"/>
<circle cx="99.5" cy="112.0" r="1.3" fill="#e6057f"/>
<circle cx="69.5" cy="143.2" r="1.3" fill="#e6057f"/>
<circle cx="76.0" cy="138.3" r="1.3" fill="#e6057f"/>
<circle cx="82.1" cy="134.0" r="1.3" fill="#e6057f"/>
<circle cx="93.0" cy="127.3" r="1.3" fill="#e6057f"/>
<circle cx="74.3" cy="141.5" r="1.3" fill="#e6057f"/>
<circle cx="85.9" cy="126.7" r="1.3" fill="#e6057f"/>
<circle cx="123.6" cy="92.4" r="1.3" fill="#e6057f"/>
<circle cx="78.0" cy="138.3" r="1.3" fill="#e6057f"/>
<circle cx="116.9" cy="98.7" r="1.3" fill="#e6057f"/>
<circle cx="105.4" cy="112.0" r="1.3" fill="#e6057f"/>
<circle cx="111.4" cy="104.0" r="1.3" fill="#e6057f"/>
<circle cx="122.0" cy="92.1" r="1.3" fill="#e6057f"/>
<circle cx="80.7" cy="136.1" r="1.3" fill="#e6057f"/>
<circle cx="96.9" cy="117.7" r="1.3" fill="#e6057f"/>
<circle cx="111.9" cy="102.1" r="1.3" fill="#e6057f"/>
<circle cx="98.3" cy="117.9" r="1.3" fill="#e6057f"/>
<circle cx="82.9" cy="130.4" r="1.3" fill="#e6057f"/>
<circle cx="67.7" cy="144.1" r="1.3" fill="#e6057f"/>
<circle cx="125.7" cy="88.7" r="1.3" fill="#e6057f"/>
<circle cx="97.1" cy="116.6" r="1.3" fill="#e6057f"/>
<circle cx="98.7" cy="117.7" r="1.3" fill="#e6057f"/>
<circle cx="93.3" cy="122.3" r="1.3" fill="#e6057f"/>
<circle cx="97.9" cy="113.9" r="1.3" fill="#e6057f"/>
<circle cx="109.8" cy="107.3" r="1.3" fill="#e6057f"/>
<circle cx="70.4" cy="141.7" r="1.3" fill="#e6057f"/>
<circle cx="83.1" cy="131.1" r="1.3" fill="#e6057f"/>
<circle cx="78.0" cy="137.8" r="1.3" fill="#e6057f"/>
<circle cx="120.2" cy="96.2" r="1.3" fill="#e6057f"/>
<circle cx="94.0" cy="118.7" r="1.3" fill="#e6057f"/>
<circle cx="93.9" cy="118.0" r="1.3" fill="#e6057f"/>
<circle cx="69.9" cy="142.1" r="1.3" fill="#e6057f"/>
<circle cx="110.6" cy="99.0" r="1.3" fill="#e6057f"/>
<circle cx="67.2" cy="150.1" r="1.3" fill="#e6057f"/>
<circle cx="83.3" cy="127.0" r="1.3" fill="#e6057f"/>
<circle cx="80.8" cy="132.4" r="1.3" fill="#e6057f"/>
<circle cx="80.6" cy="134.2" r="1.3" fill="#e6057f"/>
<circle cx="72.8" cy="140.4" r="1.3" fill="#e6057f"/>
<circle cx="85.8" cy="129.7" r="1.3" fill="#e6057f"/>
<circle cx="78.9" cy="140.0" r="1.3" fill="#e6057f"/>
<circle cx="104.0" cy="111.2" r="1.3" fill="#e6057f"/>
<circle cx="114.2" cy="101.7" r="1.3" fill="#e6057f"/>
<circle cx="124.2" cy="89.0" r="1.3" fill="#e6057f"/>
<circle cx="93.8" cy="120.3" r="1.3" fill="#e6057f"/>
<circle cx="112.6" cy="103.5" r="1.3" fill="#e6057f"/>
<circle cx="103.0" cy="111.8" r="1.3" fill="#e6057f"/>
<circle cx="104.0" cy="109.9" r="1.3" fill="#e6057f"/>
<circle cx="119.9" cy="97.4" r="1.3" fill="#e6057f"/>
<circle cx="73.9" cy="140.9" r="1.3" fill="#e6057f"/>
<circle cx="82.5" cy="130.3" r="1.3" fill="#e6057f"/>
<circle cx="122.4" cy="95.1" r="1.3" fill="#e6057f"/>
<circle cx="72.7" cy="140.2" r="1.3" fill="#e6057f"/>
<circle cx="68.2" cy="150.1" r="1.3" fill="#e6057f"/>
<circle cx="69.3" cy="143.8" r="1.3" fill="#e6057f"/>
<circle cx="82.4" cy="131.6" r="1.3" fill="#e6057f"/>
<circle cx="103.2" cy="110.6" r="1.3" fill="#e6057f"/>
<circle cx="81.5" cy="125.2" r="1.3" fill="#e6057f"/>
<circle cx="83.2" cy="128.6" r="1.3" fill="#e6057f"/>
<circle cx="99.3" cy="119.9" r="1.3" fill="#e6057f"/>
<circle cx="80.0" cy="132.8" r="1.3" fill="#e6057f"/>
<circle cx="99.5" cy="117.9" r="1.3" fill="#e6057f"/>
<circle cx="115.1" cy="98.4" r="1.3" fill="#e6057f"/>
<circle cx="123.7" cy="90.5" r="1.3" fill="#e6057f"/>
<circle cx="72.1" cy="130.1" r="1.3" fill="#e6057f"/>
<circle cx="68.6" cy="150.2" r="1.3" fill="#e6057f"/>
<circle cx="111.3" cy="102.9" r="1.3" fill="#e6057f"/>
<circle cx="61.9" cy="147.2" r="1.3" fill="#e6057f"/>
<circle cx="94.1" cy="119.3" r="1.3" fill="#e6057f"/>
<circle cx="96.4" cy="120.8" r="1.3" fill="#e6057f"/>
<circle cx="77.8" cy="133.7" r="1.3" fill="#e6057f"/>
<circle cx="80.2" cy="134.9" r="1.3" fill="#e6057f"/>
<circle cx="78.0" cy="136.0" r="1.3" fill="#e6057f"/>
<circle cx="112.5" cy="103.0" r="1.3" fill="#e6057f"/>
<circle cx="122.5" cy="92.0" r="1.3" fill="#e6057f"/>
<circle cx="130.3" cy="84.3" r="1.3" fill="#e6057f"/>
<circle cx="94.1" cy="115.9" r="1.3" fill="#e6057f"/>
<circle cx="107.5" cy="105.5" r="1.3" fill="#e6057f"/>
<circle cx="96.1" cy="118.5" r="1.3" fill="#e6057f"/>
<circle cx="73.9" cy="139.2" r="1.3" fill="#e6057f"/>
<circle cx="139.8" cy="75.6" r="1.3" fill="#e6057f"/>
<circle cx="86.6" cy="124.9" r="1.3" fill="#e6057f"/>
<circle cx="97.2" cy="116.6" r="1.3" fill="#e6057f"/>
<circle cx="113.0" cy="96.7" r="1.3" fill="#e6057f"/>
<circle cx="98.9" cy="122.8" r="1.3" fill="#e6057f"/>
<circle cx="123.9" cy="91.2" r="1.3" fill="#e6057f"/>
<circle cx="114.1" cy="99.2" r="1.3" fill="#e6057f"/>
<circle cx="128.3" cy="87.0" r="1.3" fill="#e6057f"/>
<circle cx="82.8" cy="126.9" r="1.3" fill="#e6057f"/>
<circle cx="127.1" cy="88.8" r="1.3" fill="#e6057f"/>
<circle cx="91.5" cy="120.2" r="1.3" fill="#e6057f"/>
<circle cx="102.5" cy="114.1" r="1.3" fill="#e6057f"/>
<circle cx="73.4" cy="139.6" r="1.3" fill="#e6057f"/>
<circle cx="92.0" cy="124.4" r="1.3" fill="#e6057f"/>
<circle cx="85.3" cy="125.0" r="1.3" fill="#e6057f"/>
<circle cx="112.6" cy="104.7" r="1.3" fill="#e6057f"/>
<circle cx="129.5" cy="87.4" r="1.3" fill="#e6057f"/>
<circle cx="132.0" cy="82.7" r="1.3" fill="#e6057f"/>
<circle cx="107.8" cy="104.9" r="1.3" fill="#e6057f"/>
<circle cx="149.2" cy="65.7" r="1.3" fill="#e6057f"/>
<circle cx="101.3" cy="113.4" r="1.3" fill="#e6057f"/>
<circle cx="87.7" cy="128.0" r="1.3" fill="#e6057f"/>
<circle cx="77.7" cy="131.1" r="1.3" fill="#e6057f"/>
<circle cx="70.8" cy="143.3" r="1.3" fill="#e6057f"/>
<circle cx="128.2" cy="88.4" r="1.3" fill="#e6057f"/>
<circle cx="124.9" cy="90.9" r="1.3" fill="#e6057f"/>
<circle cx="76.6" cy="136.7" r="1.3" fill="#e6057f"/>
<circle cx="100.6" cy="118.8" r="1.3" fill="#e6057f"/>
<circle cx="64.3" cy="148.3" r="1.3" fill="#e6057f"/>
<circle cx="118.7" cy="94.7" r="1.3" fill="#e6057f"/>
<circle cx="123.1" cy="93.1" r="1.3" fill="#e6057f"/>
<circle cx="124.7" cy="91.3" r="1.3" fill="#e6057f"/>
<circle cx="120.4" cy="95.3" r="1.3" fill="#e6057f"/>
<circle cx="67.6" cy="143.4" r="1.3" fill="#e6057f"/>
<circle cx="124.7" cy="90.0" r="1.3" fill="#e6057f"/>
<circle cx="69.4" cy="144.3" r="1.3" fill="#e6057f"/>
<circle cx="110.5" cy="103.9" r="1.3" fill="#e6057f"/>
<circle cx="113.8" cy="99.6" r="1.3" fill="#e6057f"/>
<circle cx="85.1" cy="124.8" r="1.3" fill="#e6057f"/>
<circle cx="80.7" cy="134.6" r="1.3" fill="#e6057f"/>
<circle cx="88.7" cy="127.4" r="1.3" fill="#e6057f"/>
<circle cx="138.0" cy="76.5" r="1.3" fill="#e6057f"/>
<circle cx="106.6" cy="111.2" r="1.3" fill="#e6057f"/>
<circle cx="79.9" cy="137.0" r="1.3" fill="#e6057f"/>
<circle cx="66.5" cy="145.2" r="1.3" fill="#e6057f"/>
<circle cx="96.3" cy="117.3" r="1.3" fill="#e6057f"/>
<circle cx="71.1" cy="143.5" r="1.3" fill="#e6057f"/>
<circle cx="92.0" cy="118.1" r="1.3" fill="#e6057f"/>
<circle cx="71.7" cy="142.6" r="1.3" fill="#e6057f"/>
<circle cx="79.2" cy="137.7" r="1.3" fill="#e6057f"/>
<circle cx="101.5" cy="115.1" r="1.3" fill="#e6057f"/>
<circle cx="108.7" cy="108.1" r="1.3" fill="#e6057f"/>
<circle cx="131.5" cy="84.3" r="1.3" fill="#e6057f"/>
<circle cx="108.4" cy="102.0" r="1.3" fill="#e6057f"/>
<circle cx="95.8" cy="119.5" r="1.3" fill="#e6057f"/>
<circle cx="106.5" cy="105.7" r="1.3" fill="#e6057f"/>
<circle cx="75.1" cy="141.7" r="1.3" fill="#e6057f"/>
<circle cx="86.7" cy="126.2" r="1.3" fill="#e6057f"/>
<circle cx="100.1" cy="110.7" r="1.3" fill="#e6057f"/>
<circle cx="93.0" cy="120.1" r="1.3" fill="#e6057f"/>
<circle cx="84.4" cy="129.0" r="1.3" fill="#e6057f"/>
<circle cx="82.7" cy="128.6" r="1.3" fill="#e6057f"/>
<circle cx="98.5" cy="119.0" r="1.3" fill="#e6057f"/>
<circle cx="101.9" cy="114.8" r="1.3" fill="#e6057f"/>
<circle cx="73.2" cy="141.3" r="1.3" fill="#e6057f"/>
<circle cx="111.0" cy="102.9" r="1.3" fill="#e6057f"/>
<circle cx="74.3" cy="138.9" r="1.3" fill="#e6057f"/>
<circle cx="76.1" cy="142.4" r="1.3" fill="#e6057f"/>
<circle cx="76.1" cy="142.0" r="1.3" fill="#e6057f"/>
<circle cx="103.9" cy="109.1" r="1.3" fill="#e6057f"/>
<circle cx="74.9" cy="139.1" r="1.3" fill="#e6057f"/>
<circle cx="81.8" cy="127.6" r="1.3" fill="#e6057f"/>
<circle cx="127.6" cy="84.1" r="1.3" fill="#e6057f"/>
<circle cx="92.6" cy="126.2" r="1.3" fill="#e6057f"/>
<circle cx="109.9" cy="102.3" r="1.3" fill="#e6057f"/>
<circle cx="116.6" cy="100.1" r="1.3" fill="#e6057f"/>
<circle cx="74.7" cy="141.9" r="1.3" fill="#e6057f"/>
<circle cx="97.8" cy="117.8" r="1.3" fill="#e6057f"/>
<circle cx="95.7" cy="116.6" r="1.3" fill="#e6057f"/>
<circle cx="86.1" cy="130.2" r="1.3" fill="#e6057f"/>
<circle cx="80.5" cy="133.6" r="1.3" fill="#e6057f"/>
<circle cx="89.8" cy="115.6" r="1.3" fill="#e6057f"/>
<circle cx="105.1" cy="105.0" r="1.3" fill="#e6057f"/>
<circle cx="102.6" cy="112.0" r="1.3" fill="#e6057f"/>
<circle cx="88.9" cy="125.0" r="1.3" fill="#e6057f"/>
<circle cx="107.9" cy="106.8" r="1.3" fill="#e6057f"/>
<circle cx="77.0" cy="136.4" r="1.3" fill="#e6057f"/>
<circle cx="99.0" cy="118.5" r="1.3" fill="#e6057f"/>
<circle cx="101.3" cy="113.3" r="1.3" fill="#e6057f"/>
<circle cx="123.3" cy="91.2" r="1.3" fill="#e6057f"/>
<circle cx="127.4" cy="87.2" r="1.3" fill="#e6057f"/>
<circle cx="102.7" cy="113.5" r="1.3" fill="#e6057f"/>
<circle cx="70.5" cy="145.8" r="1.3" fill="#e6057f"/>
<circle cx="105.4" cy="110.7" r="1.3" fill="#e6057f"/>
<circle cx="98.8" cy="112.1" r="1.3" fill="#e6057f"/>
<circle cx="105.8" cy="110.3" r="1.3" fill="#e6057f"/>
<circle cx="74.6" cy="140.5" r="1.3" fill="#e6057f"/>
<circle cx="129.4" cy="87.9" r="1.3" fill="#e6057f"/>
<circle cx="84.2" cy="125.5" r="1.3" fill="#e6057f"/>
<circle cx="101.6" cy="112.1" r="1.3" fill="#e6057f"/>
<circle cx="112.7" cy="101.3" r="1.3" fill="#e6057f"/>
<circle cx="112.1" cy="103.9" r="1.3" fill="#e6057f"/>
<circle cx="80.0" cy="137.6" r="1.3" fill="#e6057f"/>
<circle cx="84.0" cy="119.9" r="1.3" fill="#e6057f"/>
<circle cx="93.8" cy="117.1" r="1.3" fill="#e6057f"/>
<circle cx="66.1" cy="148.1" r="1.3" fill="#e6057f"/>
<circle cx="81.1" cy="133.1" r="1.3" fill="#e6057f"/>
<circle cx="116.1" cy="96.8" r="1.3" fill="#e6057f"/>
<circle cx="65.8" cy="144.7" r="1.3" fill="#e6057f"/>
<circle cx="76.0" cy="138.4" r="1.3" fill="#e6057f"/>
<circle cx="79.0" cy="134.9" r="1.3" fill="#e6057f"/>
<circle cx="71.8" cy="142.6" r="1.3" fill="#e6057f"/>
<circle cx="90.0" cy="123.5" r="1.3" fill="#e6057f"/>
<circle cx="150.7" cy="65.9" r="1.3" fill="#e6057f"/>
<circle cx="111.2" cy="104.1" r="1.3" fill="#e6057f"/>
<circle cx="132.1" cy="81.9" r="1.3" fill="#e6057f"/>
<circle cx="101.4" cy="112.3" r="1.3" fill="#e6057f"/>
<circle cx="131.0" cy="85.6" r="1.3" fill="#e6057f"/>
<circle cx="105.2" cy="112.6" r="1.3" fill="#e6057f"/>
<circle cx="124.5" cy="90.5" r="1.3" fill="#e6057f"/>
<circle cx="110.1" cy="106.2" r="1.3" fill="#e6057f"/>
<circle cx="118.3" cy="97.1" r="1.3" fill="#e6057f"/>
<circle cx="69.0" cy="143.8" r="1.3" fill="#e6057f"/>
<circle cx="89.0" cy="123.7" r="1.3" fill="#e6057f"/>
<circle cx="103.3" cy="107.0" r="1.3" fill="#e6057f"/>
<circle cx="74.6" cy="136.3" r="1.3" fill="#e6057f"/>
<circle cx="95.2" cy="122.5" r="1.3" fill="#e6057f"/>
<circle cx="109.9" cy="104.8" r="1.3" fill="#e6057f"/>
<circle cx="106.2" cy="106.2" r="1.3" fill="#e6057f"/>
<circle cx="73.7" cy="141.8" r="1.3" fill="#e6057f"/>
<circle cx="93.0" cy="120.2" r="1.3" fill="#e6057f"/>
<circle cx="87.0" cy="129.6" r="1.3" fill="#e6057f"/>
<circle cx="86.1" cy="127.5" r="1.3" fill="#e6057f"/>
<circle cx="78.5" cy="134.9" r="1.3" fill="#e6057f"/>
<circle cx="61.7" cy="145.3" r="1.3" fill="#e6057f"/>
<circle cx="84.2" cy="125.1" r="1.3" fill="#e6057f"/>
<circle cx="77.2" cy="136.7" r="1.3" fill="#e6057f"/>
<circle cx="120.9" cy="93.6" r="1.3" fill="#e6057f"/>
<circle cx="83.8" cy="132.9" r="1.3" fill="#e6057f"/>
<circle cx="87.5" cy="127.9" r="1.3" fill="#e6057f"/>
<circle cx="124.7" cy="89.6" r="1.3" fill="#e6057f"/>
<circle cx="78.2" cy="133.1" r="1.3" fill="#e6057f"/>
<circle cx="132.4" cy="80.8" r="1.3" fill="#e6057f"/>
<circle cx="130.5" cy="84.3" r="1.3" fill="#e6057f"/>
<circle cx="117.0" cy="98.3" r="1.3" fill="#e6057f"/>
<circle cx="97.8" cy="120.3" r="1.3" fill="#e6057f"/>
<circle cx="85.6" cy="126.7" r="1.3" fill="#e6057f"/>
<circle cx="90.5" cy="123.2" r="1.3" fill="#e6057f"/>
<circle cx="97.4" cy="114.0" r="1.3" fill="#e6057f"/>
<circle cx="110.9" cy="103.4" r="1.3" fill="#e6057f"/>
<circle cx="94.2" cy="125.6" r="1.3" fill="#e6057f"/>
<circle cx="87.6" cy="125.7" r="1.3" fill="#e6057f"/>
<circle cx="91.7" cy="129.5" r="1.3" fill="#e6057f"/>
<circle cx="90.7" cy="123.9" r="1.3" fill="#e6057f"/>
<circle cx="106.1" cy="105.6" r="1.3" fill="#e6057f"/>
<circle cx="65.0" cy="148.4" r="1.3" fill="#e6057f"/>
<circle cx="105.2" cy="107.4" r="1.3" fill="#e6057f"/>
<circle cx="107.4" cy="109.8" r="1.3" fill="#e6057f"/>
<circle cx="109.2" cy="105.1" r="1.3" fill="#e6057f"/>
<circle cx="82.4" cy="130.6" r="1.3" fill="#e6057f"/>
<circle cx="94.5" cy="118.2" r="1.3" fill="#e6057f"/>
<circle cx="119.3" cy="92.9" r="1.3" fill="#e6057f"/>
<circle cx="107.8" cy="107.0" r="1.3" fill="#e6057f"/>
<circle cx="89.6" cy="123.0" r="1.3" fill="#e6057f"/>
<circle cx="83.6" cy="126.9" r="1.3" fill="#e6057f"/>
<circle cx="95.5" cy="122.4" r="1.3" fill="#e6057f"/>
<circle cx="103.4" cy="106.7" r="1.3" fill="#e6057f"/>
<circle cx="121.1" cy="92.5" r="1.3" fill="#e6057f"/>
<circle cx="134.6" cy="81.8" r="1.3" fill="#e6057f"/>
<circle cx="111.2" cy="101.1" r="1.3" fill="#e6057f"/>
<circle cx="99.5" cy="113.2" r="1.3" fill="#e6057f"/>
<circle cx="84.3" cy="130.4" r="1.3" fill="#e6057f"/>
<circle cx="137.1" cy="79.8" r="1.3" fill="#e6057f"/>
<circle cx="69.2" cy="146.7" r="1.3" fill="#e6057f"/>
<circle cx="80.3" cy="133.1" r="1.3" fill="#e6057f"/>
<circle cx="86.1" cy="133.9" r="1.3" fill="#e6057f"/>
<circle cx="93.6" cy="124.4" r="1.3" fill="#e6057f"/>
<circle cx="95.9" cy="118.9" r="1.3" fill="#e6057f"/>
<circle cx="134.5" cy="80.4" r="1.3" fill="#e6057f"/>
<circle cx="105.9" cy="109.1" r="1.3" fill="#e6057f"/>
<circle cx="73.2" cy="143.9" r="1.3" fill="#e6057f"/>
<circle cx="77.6" cy="136.6" r="1.3" fill="#e6057f"/>
<circle cx="134.0" cy="81.6" r="1.3" fill="#e6057f"/>
<circle cx="95.4" cy="119.2" r="1.3" fill="#e6057f"/>
<circle cx="83.9" cy="134.7" r="1.3" fill="#e6057f"/>
<circle cx="107.5" cy="108.1" r="1.3" fill="#e6057f"/>
<circle cx="108.6" cy="107.8" r="1.3" fill="#e6057f"/>
<circle cx="119.3" cy="94.6" r="1.3" fill="#e6057f"/>
<circle cx="79.6" cy="133.5" r="1.3" fill="#e6057f"/>
<circle cx="100.8" cy="111.6" r="1.3" fill="#e6057f"/>
<circle cx="106.2" cy="106.9" r="1.3" fill="#e6057f"/>
<circle cx="99.0" cy="111.9" r="1.3" fill="#e6057f"/>
<circle cx="70.6" cy="143.3" r="1.3" fill="#e6057f"/>
<circle cx="101.8" cy="110.0" r="1.3" fill="#e6057f"/>
<circle cx="95.9" cy="118.0" r="1.3" fill="#e6057f"/>
<circle cx="120.5" cy="94.1" r="1.3" fill="#e6057f"/>
<circle cx="97.5" cy="114.1" r="1.3" fill="#e6057f"/>
<circle cx="81.0" cy="136.9" r="1.3" fill="#e6057f"/>
<circle cx="101.7" cy="117.2" r="1.3" fill="#e6057f"/>
<circle cx="97.3" cy="116.1" r="1.3" fill="#e6057f"/>
<circle cx="75.0" cy="132.0" r="1.3" fill="#e6057f"/>
<circle cx="110.9" cy="104.7" r="1.3" fill="#e6057f"/>
<circle cx="66.4" cy="150.8" r="1.3" fill="#e6057f"/>
<circle cx="66.6" cy="146.0" r="1.3" fill="#e6057f"/>
<circle cx="100.9" cy="118.7" r="1.3" fill="#e6057f"/>
<circle cx="68.8" cy="142.9" r="1.3" fill="#e6057f"/>
<circle cx="126.3" cy="87.6" r="1.3" fill="#e6057f"/>
<circle cx="94.5" cy="111.7" r="1.3" fill="#e6057f"/>
<circle cx="77.7" cy="137.1" r="1.3" fill="#e6057f"/>
<circle cx="97.0" cy="117.6" r="1.3" fill="#e6057f"/>
<circle cx="81.1" cy="135.3" r="1.3" fill="#e6057f"/>
<circle cx="110.9" cy="103.7" r="1.3" fill="#e6057f"/>
<circle cx="80.7" cy="132.4" r="1.3" fill="#e6057f"/>
<circle cx="89.6" cy="123.1" r="1.3" fill="#e6057f"/>
<circle cx="65.5" cy="148.9" r="1.3" fill="#e6057f"/>
<circle cx="87.1" cy="128.9" r="1.3" fill="#e6057f"/>
<circle cx="123.5" cy="92.0" r="1.3" fill="#e6057f"/>
<circle cx="71.7" cy="142.9" r="1.3" fill="#e6057f"/>
<circle cx="86.4" cy="127.1" r="1.3" fill="#e6057f"/>
<circle cx="110.5" cy="103.7" r="1.3" fill="#e6057f"/>
<circle cx="92.5" cy="119.4" r="1.3" fill="#e6057f"/>
<circle cx="136.3" cy="77.7" r="1.3" fill="#e6057f"/>
<circle cx="85.8" cy="126.3" r="1.3" fill="#e6057f"/>
<circle cx="105.1" cy="107.9" r="1.3" fill="#e6057f"/>
<circle cx="70.7" cy="141.6" r="1.3" fill="#e6057f"/>
<circle cx="87.8" cy="126.4" r="1.3" fill="#e6057f"/>
<circle cx="79.6" cy="137.3" r="1.3" fill="#e6057f"/>
<circle cx="118.8" cy="94.9" r="1.3" fill="#e6057f"/>
<circle cx="123.4" cy="90.2" r="1.3" fill="#e6057f"/>
<circle cx="92.8" cy="126.4" r="1.3" fill="#e6057f"/>
<circle cx="74.6" cy="142.4" r="1.3" fill="#e6057f"/>
<circle cx="85.9" cy="128.8" r="1.3" fill="#e6057f"/>
<circle cx="111.5" cy="108.9" r="1.3" fill="#e6057f"/>
<circle cx="117.9" cy="98.0" r="1.3" fill="#e6057f"/>
<circle cx="132.8" cy="82.5" r="1.3" fill="#e6057f"/>
<circle cx="89.4" cy="128.5" r="1.3" fill="#e6057f"/>
<circle cx="102.2" cy="115.0" r="1.3" fill="#e6057f"/>
<circle cx="80.2" cy="130.4" r="1.3" fill="#e6057f"/>
<circle cx="121.1" cy="95.8" r="1.3" fill="#e6057f"/>
<circle cx="125.1" cy="88.8" r="1.3" fill="#e6057f"/>
<circle cx="107.9" cy="103.5" r="1.3" fill="#e6057f"/>
<circle cx="65.4" cy="149.1" r="1.3" fill="#e6057f"/>
<circle cx="83.8" cy="127.6" r="1.3" fill="#e6057f"/>
<circle cx="97.3" cy="117.6" r="1.3" fill="#e6057f"/>
<circle cx="76.0" cy="137.1" r="1.3" fill="#e6057f"/>
<circle cx="118.5" cy="94.5" r="1.3" fill="#e6057f"/>
<circle cx="82.4" cy="134.5" r="1.3" fill="#e6057f"/>
<circle cx="109.9" cy="99.3" r="1.3" fill="#e6057f"/>
<circle cx="123.5" cy="93.1" r="1.3" fill="#e6057f"/>
<circle cx="81.5" cy="136.9" r="1.3" fill="#e6057f"/>
<circle cx="110.6" cy="104.3" r="1.3" fill="#e6057f"/>
<circle cx="74.3" cy="139.3" r="1.3" fill="#e6057f"/>
<circle cx="108.7" cy="106.2" r="1.3" fill="#e6057f"/>
<circle cx="108.7" cy="106.5" r="1.3" fill="#e6057f"/>
<circle cx="93.9" cy="122.7" r="1.3" fill="#e6057f"/>
<circle cx="125.9" cy="89.7" r="1.3" fill="#e6057f"/>
<circle cx="117.0" cy="98.9" r="1.3" fill="#e6057f"/>
<circle cx="69.0" cy="143.7" r="1.3" fill="#e6057f"/>
<circle cx="84.1" cy="138.2" r="1.3" fill="#e6057f"/>
<circle cx="111.7" cy="103.7" r="1.3" fill="#e6057f"/>
<circle cx="83.6" cy="126.0" r="1.3" fill="#e6057f"/>
<circle cx="112.0" cy="102.5" r="1.3" fill="#e6057f"/>
<circle cx="123.0" cy="90.3" r="1.3" fill="#e6057f"/>
<circle cx="78.6" cy="133.4" r="1.3" fill="#e6057f"/>
<circle cx="75.4" cy="140.4" r="1.3" fill="#e6057f"/>
<circle cx="104.4" cy="107.3" r="1.3" fill="#e6057f"/>
<circle cx="126.3" cy="88.8" r="1.3" fill="#e6057f"/>
<circle cx="103.7" cy="107.8" r="1.3" fill="#e6057f"/>
<circle cx="96.6" cy="119.0" r="1.3" fill="#e6057f"/>
<circle cx="76.2" cy="137.7" r="1.3" fill="#e6057f"/>
<circle cx="125.9" cy="89.1" r="1.3" fill="#e6057f"/>
<circle cx="104.4" cy="107.7" r="1.3" fill="#e6057f"/>
<circle cx="127.7" cy="87.1" r="1.3" fill="#e6057f"/>
<circle cx="103.7" cy="113.0" r="1.3" fill="#e6057f"/>
<circle cx="107.3" cy="107.6" r="1.3" fill="#e6057f"/>
<circle cx="103.4" cy="117.7" r="1.3" fill="#e6057f"/>
<circle cx="78.3" cy="133.1" r="1.3" fill="#e6057f"/>
<circle cx="63.7" cy="150.5" r="1.3" fill="#e6057f"/>
<circle cx="133.6" cy="80.3" r="1.3" fill="#e6057f"/>
<circle cx="105.6" cy="111.5" r="1.3" fill="#e6057f"/>
<circle cx="86.4" cy="130.0" r="1.3" fill="#e6057f"/>
<circle cx="102.6" cy="111.2" r="1.3" fill="#e6057f"/>
<circle cx="74.8" cy="137.5" r="1.3" fill="#e6057f"/>
<circle cx="66.2" cy="148.5" r="1.3" fill="#e6057f"/>
<circle cx="76.2" cy="139.2" r="1.3" fill="#e6057f"/>
<circle cx="77.4" cy="135.7" r="1.3" fill="#e6057f"/>
<circle cx="124.2" cy="89.0" r="1.3" fill="#e6057f"/>
<circle cx="62.4" cy="145.1" r="1.3" fill="#e6057f"/>
<circle cx="96.5" cy="120.6" r="1.3" fill="#e6057f"/>
<circle cx="113.4" cy="102.6" r="1.3" fill="#e6057f"/>
<circle cx="95.3" cy="119.4" r="1.3" fill="#e6057f"/>
<circle cx="74.2" cy="139.4" r="1.3" fill="#e6057f"/>
<circle cx="92.2" cy="122.9" r="1.3" fill="#e6057f"/>
<circle cx="109.2" cy="105.4" r="1.3" fill="#e6057f"/>
<circle cx="95.6" cy="118.8" r="1.3" fill="#e6057f"/>
<circle cx="65.7" cy="148.9" r="1.3" fill="#e6057f"/>
<circle cx="69.4" cy="137.5" r="1.3" fill="#e6057f"/>
<circle cx="83.6" cy="127.1" r="1.3" fill="#e6057f"/>
<circle cx="135.6" cy="79.1" r="1.3" fill="#e6057f"/>
<circle cx="114.3" cy="103.9" r="1.3" fill="#e6057f"/>
<circle cx="133.9" cy="82.0" r="1.3" fill="#e6057f"/>
<circle cx="136.7" cy="78.6" r="1.3" fill="#e6057f"/>
<circle cx="71.9" cy="140.7" r="1.3" fill="#e6057f"/>
<circle cx="96.3" cy="122.4" r="1.3" fill="#e6057f"/>
<circle cx="109.8" cy="105.0" r="1.3" fill="#e6057f"/>
<circle cx="97.7" cy="113.6" r="1.3" fill="#e6057f"/>
<circle cx="74.0" cy="137.8" r="1.3" fill="#e6057f"/>
<circle cx="95.8" cy="121.6" r="1.3" fill="#e6057f"/>
<circle cx="113.6" cy="98.3" r="1.3" fill="#e6057f"/>
<circle cx="109.6" cy="102.2" r="1.3" fill="#e6057f"/>
<circle cx="96.8" cy="118.4" r="1.3" fill="#e6057f"/>
<circle cx="83.7" cy="129.1" r="1.3" fill="#e6057f"/>
<circle cx="81.6" cy="125.6" r="1.3" fill="#e6057f"/>
<circle cx="83.1" cy="132.6" r="1.3" fill="#e6057f"/>
<circle cx="134.1" cy="80.8" r="1.3" fill="#e6057f"/>
<circle cx="96.3" cy="123.5" r="1.3" fill="#e6057f"/>
<circle cx="117.3" cy="98.3" r="1.3" fill="#e6057f"/>
<circle cx="69.6" cy="147.2" r="1.3" fill="#e6057f"/>
<circle cx="79.1" cy="135.3" r="1.3" fill="#e6057f"/>
<circle cx="102.8" cy="111.2" r="1.3" fill="#e6057f"/>
<circle cx="96.5" cy="118.7" r="1.3" fill="#e6057f"/>
<circle cx="81.3" cy="136.4" r="1.3" fill="#e6057f"/>
<circle cx="89.6" cy="124.5" r="1.3" fill="#e6057f"/>
<circle cx="82.5" cy="130.7" r="1.3" fill="#e6057f"/>
<circle cx="64.9" cy="151.3" r="1.3" fill="#e6057f"/>
<circle cx="73.9" cy="138.3" r="1.3" fill="#e6057f"/>
<circle cx="100.2" cy="112.6" r="1.3" fill="#e6057f"/>
<circle cx="86.4" cy="124.5" r="1.3" fill="#e6057f"/>
<circle cx="91.8" cy="126.1" r="1.3" fill="#e6057f"/>
<circle cx="109.1" cy="102.6" r="1.3" fill="#e6057f"/>
<circle cx="89.3" cy="123.6" r="1.3" fill="#e6057f"/>
<circle cx="64.6" cy="149.2" r="1.3" fill="#e6057f"/>
<circle cx="63.5" cy="143.6" r="1.3" fill="#e6057f"/>
<circle cx="72.9" cy="140.8" r="1.3" fill="#e6057f"/>
<circle cx="125.4" cy="87.3" r="1.3" fill="#e6057f"/>
<circle cx="96.0" cy="118.6" r="1.3" fill="#e6057f"/>
<circle cx="75.4" cy="129.3" r="1.3" fill="#e6057f"/>
<circle cx="86.9" cy="128.8" r="1.3" fill="#e6057f"/>
<circle cx="88.6" cy="119.5" r="1.3" fill="#e6057f"/>
<circle cx="66.3" cy="146.9" r="1.3" fill="#e6057f"/>
<circle cx="69.7" cy="143.6" r="1.3" fill="#e6057f"/>
<circle cx="72.2" cy="140.9" r="1.3" fill="#e6057f"/>
<circle cx="92.0" cy="123.9" r="1.3" fill="#e6057f"/>
<circle cx="128.9" cy="87.2" r="1.3" fill="#e6057f"/>
<circle cx="104.1" cy="109.9" r="1.3" fill="#e6057f"/>
<circle cx="99.2" cy="114.5" r="1.3" fill="#e6057f"/>
<circle cx="75.7" cy="142.4" r="1.3" fill="#e6057f"/>
<circle cx="80.9" cy="134.7" r="1.3" fill="#e6057f"/>
<circle cx="71.0" cy="145.8" r="1.3" fill="#e6057f"/>
<circle cx="123.3" cy="90.2" r="1.3" fill="#e6057f"/>
<circle cx="84.8" cy="128.6" r="1.3" fill="#e6057f"/>
<circle cx="70.3" cy="142.5" r="1.3" fill="#e6057f"/>
<circle cx="118.2" cy="96.0" r="1.3" fill="#e6057f"/>
<circle cx="72.2" cy="145.0" r="1.3" fill="#e6057f"/>
<circle cx="102.7" cy="108.1" r="1.3" fill="#e6057f"/>
<circle cx="68.6" cy="139.7" r="1.3" fill="#e6057f"/>
<circle cx="70.4" cy="146.2" r="1.3" fill="#e6057f"/>
<circle cx="80.8" cy="121.5" r="1.3" fill="#e6057f"/>
<circle cx="82.1" cy="133.8" r="1.3" fill="#e6057f"/>
<circle cx="114.2" cy="100.5" r="1.3" fill="#e6057f"/>
<circle cx="102.6" cy="112.5" r="1.3" fill="#e6057f"/>
<circle cx="100.3" cy="114.7" r="1.3" fill="#e6057f"/>
<circle cx="102.8" cy="115.4" r="1.3" fill="#e6057f"/>
<circle cx="86.2" cy="131.7" r="1.3" fill="#e6057f"/>
<circle cx="76.5" cy="132.7" r="1.3" fill="#e6057f"/>
<circle cx="113.7" cy="101.8" r="1.3" fill="#e6057f"/>
<circle cx="67.7" cy="146.9" r="1.3" fill="#e6057f"/>
<circle cx="105.6" cy="111.3" r="1.3" fill="#e6057f"/>
<circle cx="85.4" cy="132.8" r="1.3" fill="#e6057f"/>
<circle cx="104.6" cy="109.4" r="1.3" fill="#e6057f"/>
<circle cx="116.3" cy="97.6" r="1.3" fill="#e6057f"/>
<circle cx="97.9" cy="121.6" r="1.3" fill="#e6057f"/>
<circle cx="120.4" cy="95.3" r="1.3" fill="#e6057f"/>
<circle cx="122.7" cy="92.2" r="1.3" fill="#e6057f"/>
<circle cx="79.9" cy="135.5" r="1.3" fill="#e6057f"/>
<circle cx="77.6" cy="141.9" r="1.3" fill="#e6057f"/>
<circle cx="61.9" cy="151.9" r="1.3" fill="#e6057f"/>
<circle cx="87.5" cy="126.0" r="1.3" fill="#e6057f"/>
<circle cx="65.5" cy="150.4" r="1.3" fill="#e6057f"/>
<circle cx="71.5" cy="142.5" r="1.3" fill="#e6057f"/>
<circle cx="75.6" cy="139.5" r="1.3" fill="#e6057f"/>
<circle cx="123.9" cy="91.4" r="1.3" fill="#e6057f"/>
<circle cx="84.9" cy="127.6" r="1.3" fill="#e6057f"/>
<circle cx="70.9" cy="143.9" r="1.3" fill="#e6057f"/>
<circle cx="107.7" cy="105.1" r="1.3" fill="#e6057f"/>
<circle cx="92.2" cy="121.6" r="1.3" fill="#e6057f"/>
<circle cx="86.6" cy="130.4" r="1.3" fill="#e6057f"/>
<circle cx="88.9" cy="124.0" r="1.3" fill="#e6057f"/>
<circle cx="87.1" cy="128.2" r="1.3" fill="#e6057f"/>
<circle cx="134.8" cy="78.6" r="1.3" fill="#e6057f"/>
<circle cx="100.0" cy="117.4" r="1.3" fill="#e6057f"/>
<circle cx="104.5" cy="111.0" r="1.3" fill="#e6057f"/>
<circle cx="76.3" cy="138.1" r="1.3" fill="#e6057f"/>
<circle cx="66.3" cy="150.4" r="1.3" fill="#e6057f"/>
<circle cx="100.8" cy="110.0" r="1.3" fill="#e6057f"/>
<circle cx="68.8" cy="147.9" r="1.3" fill="#e6057f"/>
<circle cx="72.9" cy="140.9" r="1.3" fill="#e6057f"/>
<circle cx="65.9" cy="145.1" r="1.3" fill="#e6057f"/>
<circle cx="98.6" cy="115.0" r="1.3" fill="#e6057f"/>
<circle cx="60.0" cy="147.2" r="1.3" fill="#e6057f"/>
<circle cx="125.7" cy="92.8" r="1.3" fill="#e6057f"/>
<circle cx="100.5" cy="116.2" r="1.3" fill="#e6057f"/>
<circle cx="84.0" cy="130.3" r="1.3" fill="#e6057f"/>
<circle cx="86.7" cy="123.4" r="1.3" fill="#e6057f"/>
<circle cx="118.8" cy="95.6" r="1.3" fill="#e6057f"/>
<circle cx="110.8" cy="101.2" r="1.3" fill="#e6057f"/>
<circle cx="91.6" cy="125.5" r="1.3" fill="#e6057f"/>
<circle cx="83.4" cy="126.2" r="1.3" fill="#e6057f"/>
<circle cx="89.5" cy="125.9" r="1.3" fill="#e6057f"/>
<circle cx="114.4" cy="100.2" r="1.3" fill="#e6057f"/>
<circle cx="87.0" cy="128.1" r="1.3" fill="#e6057f"/>
<circle cx="89.1" cy="126.9" r="1.3" fill="#e6057f"/>
<circle cx="140.6" cy="74.9" r="1.3" fill="#e6057f"/>
<circle cx="97.0" cy="119.9" r="1.3" fill="#e6057f"/>
<circle cx="102.1" cy="116.5" r="1.3" fill="#e6057f"/>
<circle cx="76.7" cy="139.4" r="1.3" fill="#e6057f"/>
<circle cx="80.1" cy="130.0" r="1.3" fill="#e6057f"/>
<circle cx="67.1" cy="143.9" r="1.3" fill="#e6057f"/>
<circle cx="129.8" cy="85.2" r="1.3" fill="#e6057f"/>
<circle cx="86.1" cy="128.3" r="1.3" fill="#e6057f"/>
<circle cx="82.3" cy="136.2" r="1.3" fill="#e6057f"/>
<circle cx="89.8" cy="124.8" r="1.3" fill="#e6057f"/>
<circle cx="66.9" cy="145.8" r="1.3" fill="#e6057f"/>
<circle cx="62.9" cy="152.3" r="1.3" fill="#e6057f"/>
<circle cx="73.5" cy="126.9" r="1.3" fill="#e6057f"/>
<circle cx="96.9" cy="115.1" r="1.3" fill="#e6057f"/>
<circle cx="93.3" cy="121.5" r="1.3" fill="#e6057f"/>
<circle cx="101.0" cy="117.7" r="1.3" fill="#e6057f"/>
<circle cx="115.6" cy="98.1" r="1.3" fill="#e6057f"/>
<circle cx="117.5" cy="98.5" r="1.3" fill="#e6057f"/>
<circle cx="90.1" cy="121.6" r="1.3" fill="#e6057f"/>
<circle cx="96.7" cy="123.4" r="1.3" fill="#e6057f"/>
<circle cx="94.6" cy="120.0" r="1.3" fill="#e6057f"/>
<circle cx="77.7" cy="134.0" r="1.3" fill="#e6057f"/>
<circle cx="138.0" cy="75.9" r="1.3" fill="#e6057f"/>
<circle cx="78.1" cy="125.6" r="1.3" fill="#e6057f"/>
<circle cx="124.5" cy="91.3" r="1.3" fill="#e6057f"/>
<circle cx="102.7" cy="106.4" r="1.3" fill="#e6057f"/>
<circle cx="108.3" cy="105.5" r="1.3" fill="#e6057f"/>
<circle cx="105.3" cy="112.5" r="1.3" fill="#e6057f"/>
<circle cx="74.2" cy="141.2" r="1.3" fill="#e6057f"/>
<circle cx="79.1" cy="138.5" r="1.3" fill="#e6057f"/>
<circle cx="99.7" cy="111.3" r="1.3" fill="#e6057f"/>
<circle cx="114.4" cy="102.0" r="1.3" fill="#e6057f"/>
<circle cx="85.7" cy="133.6" r="1.3" fill="#e6057f"/>
<circle cx="99.4" cy="118.1" r="1.3" fill="#e6057f"/>
<circle cx="113.7" cy="100.5" r="1.3" fill="#e6057f"/>
<circle cx="81.1" cy="133.8" r="1.3" fill="#e6057f"/>
<circle cx="99.8" cy="118.7" r="1.3" fill="#e6057f"/>
<circle cx="93.0" cy="121.0" r="1.3" fill="#e6057f"/>
<circle cx="112.4" cy="105.0" r="1.3" fill="#e6057f"/>
<circle cx="124.4" cy="91.8" r="1.3" fill="#e6057f"/>
<circle cx="118.0" cy="97.3" r="1.3" fill="#e6057f"/>
<circle cx="66.0" cy="147.6" r="1.3" fill="#e6057f"/>
<circle cx="95.5" cy="120.4" r="1.3" fill="#e6057f"/>
<circle cx="87.6" cy="129.5" r="1.3" fill="#e6057f"/>
<circle cx="84.0" cy="124.6" r="1.3" fill="#e6057f"/>
<circle cx="93.9" cy="121.6" r="1.3" fill="#e6057f"/>
<circle cx="56.3" cy="149.9" r="1.3" fill="#e6057f"/>
<circle cx="74.2" cy="140.0" r="1.3" fill="#e6057f"/>
<circle cx="109.3" cy="106.9" r="1.3" fill="#e6057f"/>
<circle cx="79.1" cy="134.2" r="1.3" fill="#e6057f"/>
<circle cx="99.0" cy="111.1" r="1.3" fill="#e6057f"/>
<circle cx="62.2" cy="154.9" r="1.3" fill="#e6057f"/>
<circle cx="77.5" cy="130.7" r="1.3" fill="#e6057f"/>
<circle cx="89.0" cy="125.9" r="1.3" fill="#e6057f"/>
<circle cx="101.5" cy="115.1" r="1.3" fill="#e6057f"/>
<circle cx="92.9" cy="117.1" r="1.3" fill="#e6057f"/>
<circle cx="116.0" cy="95.8" r="1.3" fill="#e6057f"/>
<circle cx="73.7" cy="140.8" r="1.3" fill="#e6057f"/>
<circle cx="106.1" cy="107.6" r="1.3" fill="#e6057f"/>
<circle cx="64.0" cy="147.8" r="1.3" fill="#e6057f"/>
<circle cx="105.1" cy="108.3" r="1.3" fill="#e6057f"/>
<circle cx="79.4" cy="134.8" r="1.3" fill="#e6057f"/>
<circle cx="110.0" cy="104.2" r="1.3" fill="#e6057f"/>
<circle cx="99.4" cy="115.3" r="1.3" fill="#e6057f"/>
<circle cx="104.9" cy="106.0" r="1.3" fill="#e6057f"/>
<circle cx="111.0" cy="101.9" r="1.3" fill="#e6057f"/>
<circle cx="99.5" cy="119.6" r="1.3" fill="#e6057f"/>
<circle cx="70.2" cy="144.0" r="1.3" fill="#e6057f"/>
<circle cx="145.4" cy="69.3" r="1.3" fill="#e6057f"/>
<circle cx="117.9" cy="93.6" r="1.3" fill="#e6057f"/>
<circle cx="118.9" cy="96.8" r="1.3" fill="#e6057f"/>
<circle cx="95.4" cy="114.8" r="1.3" fill="#e6057f"/>
<circle cx="89.0" cy="122.7" r="1.3" fill="#e6057f"/>
<circle cx="92.1" cy="124.0" r="1.3" fill="#e6057f"/>
<circle cx="86.7" cy="130.2" r="1.3" fill="#e6057f"/>
<circle cx="91.5" cy="127.8" r="1.3" fill="#e6057f"/>
<circle cx="91.7" cy="120.7" r="1.3" fill="#e6057f"/>
<circle cx="68.1" cy="148.1" r="1.3" fill="#e6057f"/>
<circle cx="99.4" cy="112.3" r="1.3" fill="#e6057f"/>
<circle cx="108.4" cy="108.2" r="1.3" fill="#e6057f"/>
<circle cx="140.7" cy="73.0" r="1.3" fill="#e6057f"/>
<circle cx="62.1" cy="152.4" r="1.3" fill="#e6057f"/>
<circle cx="82.5" cy="128.9" r="1.3" fill="#e6057f"/>
<circle cx="76.7" cy="141.3" r="1.3" fill="#e6057f"/>
<circle cx="75.1" cy="137.5" r="1.3" fill="#e6057f"/>
<circle cx="83.9" cy="131.2" r="1.3" fill="#e6057f"/>
<circle cx="110.0" cy="103.4" r="1.3" fill="#e6057f"/>
<circle cx="114.0" cy="99.5" r="1.3" fill="#e6057f"/>
<circle cx="83.9" cy="128.8" r="1.3" fill="#e6057f"/>
<circle cx="133.0" cy="81.3" r="1.3" fill="#e6057f"/>
<circle cx="79.1" cy="130.9" r="1.3" fill="#e6057f"/>
<circle cx="100.0" cy="114.3" r="1.3" fill="#e6057f"/>
<circle cx="104.2" cy="108.7" r="1.3" fill="#e6057f"/>
<circle cx="71.2" cy="143.3" r="1.3" fill="#e6057f"/>
<circle cx="86.6" cy="128.5" r="1.3" fill="#e6057f"/>
<circle cx="85.9" cy="129.2" r="1.3" fill="#e6057f"/>
<circle cx="83.1" cy="135.1" r="1.3" fill="#e6057f"/>
<circle cx="85.4" cy="132.4" r="1.3" fill="#e6057f"/>
<circle cx="105.1" cy="112.9" r="1.3" fill="#e6057f"/>
<circle cx="82.1" cy="128.4" r="1.3" fill="#e6057f"/>
<circle cx="75.4" cy="135.9" r="1.3" fill="#e6057f"/>
<circle cx="107.5" cy="110.2" r="1.3" fill="#e6057f"/>
<circle cx="100.0" cy="113.3" r="1.3" fill="#e6057f"/>
<circle cx="92.1" cy="120.6" r="1.3" fill="#e6057f"/>
<circle cx="101.7" cy="113.9" r="1.3" fill="#e6057f"/>
<circle cx="90.5" cy="121.6" r="1.3" fill="#e6057f"/>
<circle cx="100.0" cy="112.4" r="1.3" fill="#e6057f"/>
<circle cx="75.2" cy="142.6" r="1.3" fill="#e6057f"/>
<circle cx="84.7" cy="128.0" r="1.3" fill="#e6057f"/>
<circle cx="82.9" cy="130.1" r="1.3" fill="#e6057f"/>
<circle cx="119.1" cy="94.5" r="1.3" fill="#e6057f"/>
<circle cx="69.9" cy="146.5" r="1.3" fill="#e6057f"/>
<circle cx="102.0" cy="113.8" r="1.3" fill="#e6057f"/>
<circle cx="112.7" cy="104.6" r="1.3" fill="#e6057f"/>
<circle cx="72.7" cy="139.6" r="1.3" fill="#e6057f"/>
<circle cx="111.4" cy="102.6" r="1.3" fill="#e6057f"/>
<circle cx="111.3" cy="105.9" r="1.3" fill="#e6057f"/>
<circle cx="78.8" cy="136.1" r="1.3" fill="#e6057f"/>
<circle cx="75.2" cy="141.9" r="1.3" fill="#e6057f"/>
<circle cx="78.2" cy="135.8" r="1.3" fill="#e6057f"/>
<circle cx="111.8" cy="99.3" r="1.3" fill="#e6057f"/>
<circle cx="72.2" cy="140.2" r="1.3" fill="#e6057f"/>
<circle cx="87.9" cy="126.3" r="1.3" fill="#e6057f"/>
<circle cx="87.0" cy="128.2" r="1.3" fill="#e6057f"/>
<circle cx="84.1" cy="129.0" r="1.3" fill="#e6057f"/>
<circle cx="99.3" cy="114.1" r="1.3" fill="#e6057f"/>
<circle cx="80.1" cy="132.9" r="1.3" fill="#e6057f"/>
<circle cx="81.9" cy="131.8" r="1.3" fill="#e6057f"/>
<circle cx="103.7" cy="109.6" r="1.3" fill="#e6057f"/>
<circle cx="82.5" cy="121.6" r="1.3" fill="#e6057f"/>
<circle cx="78.6" cy="133.1" r="1.3" fill="#e6057f"/>
<circle cx="96.7" cy="119.5" r="1.3" fill="#e6057f"/>
<circle cx="136.2" cy="80.3" r="1.3" fill="#e6057f"/>
<circle cx="140.8" cy="73.8" r="1.3" fill="#e6057f"/>
<circle cx="86.3" cy="124.7" r="1.3" fill="#e6057f"/>
<circle cx="120.6" cy="95.3" r="1.3" fill="#e6057f"/>
<circle cx="72.3" cy="141.2" r="1.3" fill="#e6057f"/>
<circle cx="64.7" cy="151.1" r="1.3" fill="#e6057f"/>
<circle cx="121.3" cy="94.1" r="1.3" fill="#e6057f"/>
<circle cx="85.8" cy="125.1" r="1.3" fill="#e6057f"/>
<circle cx="136.4" cy="78.8" r="1.3" fill="#e6057f"/>
<circle cx="73.0" cy="135.1" r="1.3" fill="#e6057f"/>
<circle cx="77.5" cy="137.9" r="1.3" fill="#e6057f"/>
<circle cx="116.4" cy="99.4" r="1.3" fill="#e6057f"/>
<circle cx="80.8" cy="134.7" r="1.3" fill="#e6057f"/>
<circle cx="106.1" cy="110.0" r="1.3" fill="#e6057f"/>
<circle cx="90.8" cy="126.0" r="1.3" fill="#e6057f"/>
<circle cx="84.9" cy="130.3" r="1.3" fill="#e6057f"/>
<circle cx="80.3" cy="133.3" r="1.3" fill="#e6057f"/>
<circle cx="70.1" cy="143.1" r="1.3" fill="#e6057f"/>
<circle cx="115.0" cy="98.0" r="1.3" fill="#e6057f"/>
<circle cx="78.6" cy="133.8" r="1.3" fill="#e6057f"/>
<circle cx="112.3" cy="104.0" r="1.3" fill="#e6057f"/>
<circle cx="81.1" cy="136.8" r="1.3" fill="#e6057f"/>
<circle cx="86.2" cy="127.5" r="1.3" fill="#e6057f"/>
<circle cx="78.2" cy="127.4" r="1.3" fill="#e6057f"/>
<circle cx="105.6" cy="107.4" r="1.3" fill="#e6057f"/>
<circle cx="72.9" cy="143.1" r="1.3" fill="#e6057f"/>
<circle cx="111.6" cy="101.1" r="1.3" fill="#e6057f"/>
<circle cx="75.0" cy="139.3" r="1.3" fill="#e6057f"/>
<circle cx="75.6" cy="136.1" r="1.3" fill="#e6057f"/>
<circle cx="94.5" cy="121.6" r="1.3" fill="#e6057f"/>
<circle cx="98.4" cy="117.4" r="1.3" fill="#e6057f"/>
<circle cx="104.4" cy="109.7" r="1.3" fill="#e6057f"/>
<circle cx="111.0" cy="104.1" r="1.3" fill="#e6057f"/>
<circle cx="114.1" cy="99.8" r="1.3" fill="#e6057f"/>
<circle cx="102.1" cy="118.0" r="1.3" fill="#e6057f"/>
<circle cx="102.9" cy="112.9" r="1.3" fill="#e6057f"/>
<circle cx="69.3" cy="144.7" r="1.3" fill="#e6057f"/>
<circle cx="75.3" cy="138.7" r="1.3" fill="#e6057f"/>
<circle cx="79.5" cy="134.0" r="1.3" fill="#e6057f"/>
<circle cx="86.9" cy="129.9" r="1.3" fill="#e6057f"/>
<circle cx="123.2" cy="92.9" r="1.3" fill="#e6057f"/>
<circle cx="87.4" cy="127.7" r="1.3" fill="#e6057f"/>
<circle cx="73.4" cy="141.1" r="1.3" fill="#e6057f"/>
<circle cx="88.1" cy="127.5" r="1.3" fill="#e6057f"/>
<circle cx="153.2" cy="63.1" r="1.3" fill="#e6057f"/>
<circle cx="75.2" cy="138.5" r="1.3" fill="#e6057f"/>
<circle cx="80.0" cy="141.1" r="1.3" fill="#e6057f"/>
<circle cx="109.4" cy="105.0" r="1.3" fill="#e6057f"/>
<circle cx="70.9" cy="143.9" r="1.3" fill="#e6057f"/>
<circle cx="113.5" cy="101.1" r="1.3" fill="#e6057f"/>
<circle cx="133.7" cy="82.7" r="1.3" fill="#e6057f"/>
<circle cx="99.1" cy="112.6" r="1.3" fill="#e6057f"/>
<circle cx="113.9" cy="98.7" r="1.3" fill="#e6057f"/>
<circle cx="60.4" cy="149.4" r="1.3" fill="#e6057f"/>
<circle cx="92.8" cy="123.5" r="1.3" fill="#e6057f"/>
<circle cx="66.0" cy="151.2" r="1.3" fill="#e6057f"/>
<circle cx="101.4" cy="114.5" r="1.3" fill="#e6057f"/>
<circle cx="88.7" cy="123.1" r="1.3" fill="#e6057f"/>
<circle cx="129.6" cy="83.9" r="1.3" fill="#e6057f"/>
<circle cx="132.7" cy="80.3" r="1.3" fill="#e6057f"/>
<circle cx="143.1" cy="70.8" r="1.3" fill="#e6057f"/>
<circle cx="135.6" cy="80.6" r="1.3" fill="#e6057f"/>
<circle cx="104.8" cy="111.8" r="1.3" fill="#e6057f"/>
<circle cx="106.0" cy="110.9" r="1.3" fill="#e6057f"/>
<circle cx="87.6" cy="127.6" r="1.3" fill="#e6057f"/>
<circle cx="92.6" cy="119.7" r="1.3" fill="#e6057f"/>
<circle cx="143.5" cy="71.5" r="1.3" fill="#e6057f"/>
<circle cx="144.7" cy="70.3" r="1.3" fill="#e6057f"/>
<circle cx="78.9" cy="135.2" r="1.3" fill="#e6057f"/>
<circle cx="134.9" cy="80.0" r="1.3" fill="#e6057f"/>
<circle cx="75.6" cy="136.5" r="1.3" fill="#e6057f"/>
<circle cx="151.6" cy="64.0" r="1.3" fill="#e6057f"/>
<circle cx="118.4" cy="98.3" r="1.3" fill="#e6057f"/>
<circle cx="132.2" cy="82.2" r="1.3" fill="#e6057f"/>
<circle cx="114.6" cy="97.9" r="1.3" fill="#e6057f"/>
<circle cx="98.1" cy="114.1" r="1.3" fill="#e6057f"/>
<circle cx="109.9" cy="103.5" r="1.3" fill="#e6057f"/>
<circle cx="89.7" cy="119.0" r="1.3" fill="#e6057f"/>
<circle cx="80.4" cy="138.1" r="1.3" fill="#e6057f"/>
<circle cx="97.0" cy="113.6" r="1.3" fill="#e6057f"/>
<circle cx="116.2" cy="99.9" r="1.3" fill="#e6057f"/>
<circle cx="102.1" cy="109.5" r="1.3" fill="#e6057f"/>
<circle cx="112.5" cy="104.3" r="1.3" fill="#e6057f"/>
<circle cx="103.6" cy="110.7" r="1.3" fill="#e6057f"/>
<circle cx="82.6" cy="130.2" r="1.3" fill="#e6057f"/>
<circle cx="74.7" cy="140.2" r="1.3" fill="#e6057f"/>
<circle cx="86.2" cy="127.2" r="1.3" fill="#e6057f"/>
<circle cx="73.7" cy="145.6" r="1.3" fill="#e6057f"/>
<circle cx="94.7" cy="120.2" r="1.3" fill="#e6057f"/>
<circle cx="102.2" cy="111.9" r="1.3" fill="#e6057f"/>
<circle cx="123.6" cy="92.5" r="1.3" fill="#e6057f"/>
<circle cx="95.5" cy="118.3" r="1.3" fill="#e6057f"/>
<circle cx="82.4" cy="129.2" r="1.3" fill="#e6057f"/>
<circle cx="101.5" cy="109.6" r="1.3" fill="#e6057f"/>
<circle cx="106.0" cy="104.8" r="1.3" fill="#e6057f"/>
<circle cx="95.4" cy="116.9" r="1.3" fill="#e6057f"/>
<circle cx="83.5" cy="131.3" r="1.3" fill="#e6057f"/>
<circle cx="122.0" cy="92.0" r="1.3" fill="#e6057f"/>
<circle cx="111.1" cy="102.6" r="1.3" fill="#e6057f"/>
<circle cx="93.5" cy="118.8" r="1.3" fill="#e6057f"/>
<circle cx="71.9" cy="144.1" r="1.3" fill="#e6057f"/>
<circle cx="116.1" cy="99.9" r="1.3" fill="#e6057f"/>
<circle cx="62.8" cy="152.6" r="1.3" fill="#e6057f"/>
<circle cx="97.2" cy="117.7" r="1.3" fill="#e6057f"/>
<circle cx="115.6" cy="99.7" r="1.3" fill="#e6057f"/>
<circle cx="121.9" cy="97.7" r="1.3" fill="#e6057f"/>
<circle cx="91.6" cy="125.7" r="1.3" fill="#e6057f"/>
<circle cx="104.8" cy="112.4" r="1.3" fill="#e6057f"/>
<circle cx="107.1" cy="108.9" r="1.3" fill="#e6057f"/>
<circle cx="129.1" cy="87.6" r="1.3" fill="#e6057f"/>
<circle cx="82.5" cy="133.1" r="1.3" fill="#e6057f"/>
<circle cx="88.0" cy="125.0" r="1.3" fill="#e6057f"/>
<circle cx="118.9" cy="94.7" r="1.3" fill="#e6057f"/>
<circle cx="126.9" cy="88.0" r="1.3" fill="#e6057f"/>
<circle cx="92.6" cy="115.8" r="1.3" fill="#e6057f"/>
<circle cx="84.5" cy="133.5" r="1.3" fill="#e6057f"/>
<circle cx="93.9" cy="120.2" r="1.3" fill="#e6057f"/>
<circle cx="105.5" cy="109.5" r="1.3" fill="#e6057f"/>
<circle cx="96.5" cy="118.9" r="1.3" fill="#e6057f"/>
<circle cx="91.8" cy="126.9" r="1.3" fill="#e6057f"/>
<circle cx="84.9" cy="133.0" r="1.3" fill="#e6057f"/>
<circle cx="108.2" cy="106.0" r="1.3" fill="#e6057f"/>
<circle cx="97.7" cy="118.6" r="1.3" fill="#e6057f"/>
<circle cx="70.9" cy="143.2" r="1.3" fill="#e6057f"/>
<circle cx="104.6" cy="113.4" r="1.3" fill="#e6057f"/>
<circle cx="88.0" cy="128.4" r="1.3" fill="#e6057f"/>
<circle cx="112.0" cy="103.4" r="1.3" fill="#e6057f"/>
<circle cx="128.1" cy="86.0" r="1.3" fill="#e6057f"/>
<circle cx="95.1" cy="118.8" r="1.3" fill="#e6057f"/>
<circle cx="90.6" cy="127.8" r="1.3" fill="#e6057f"/>
<circle cx="94.5" cy="118.6" r="1.3" fill="#e6057f"/>
<circle cx="122.0" cy="91.1" r="1.3" fill="#e6057f"/>
<circle cx="70.9" cy="138.9" r="1.3" fill="#e6057f"/>
<circle cx="98.6" cy="113.0" r="1.3" fill="#e6057f"/>
<circle cx="126.7" cy="89.1" r="1.3" fill="#e6057f"/>
<circle cx="119.7" cy="95.4" r="1.3" fill="#e6057f"/>
<circle cx="137.8" cy="76.9" r="1.3" fill="#e6057f"/>
<circle cx="105.5" cy="108.1" r="1.3" fill="#e6057f"/>
<circle cx="113.0" cy="102.7" r="1.3" fill="#e6057f"/>
<circle cx="67.2" cy="148.1" r="1.3" fill="#e6057f"/>
<circle cx="109.0" cy="101.2" r="1.3" fill="#e6057f"/>
<circle cx="112.6" cy="102.3" r="1.3" fill="#e6057f"/>
<circle cx="92.6" cy="120.6" r="1.3" fill="#e6057f"/>
<circle cx="71.1" cy="143.0" r="1.3" fill="#e6057f"/>
<circle cx="105.7" cy="105.7" r="1.3" fill="#e6057f"/>
<circle cx="99.7" cy="121.8" r="1.3" fill="#e6057f"/>
<circle cx="80.9" cy="133.9" r="1.3" fill="#e6057f"/>
<circle cx="90.5" cy="123.8" r="1.3" fill="#e6057f"/>
<circle cx="92.0" cy="121.1" r="1.3" fill="#e6057f"/>
<circle cx="103.8" cy="109.7" r="1.3" fill="#e6057f"/>
<circle cx="78.9" cy="134.2" r="1.3" fill="#e6057f"/>
<circle cx="106.6" cy="108.6" r="1.3" fill="#e6057f"/>
<circle cx="121.0" cy="91.3" r="1.3" fill="#e6057f"/>
<circle cx="113.3" cy="103.2" r="1.3" fill="#e6057f"/>
<circle cx="75.9" cy="139.9" r="1.3" fill="#e6057f"/>
<circle cx="106.5" cy="110.0" r="1.3" fill="#e6057f"/>
<circle cx="120.7" cy="95.2" r="1.3" fill="#e6057f"/>
<circle cx="106.7" cy="109.4" r="1.3" fill="#e6057f"/>
<circle cx="80.1" cy="123.3" r="1.3" fill="#e6057f"/>
<circle cx="77.6" cy="137.5" r="1.3" fill="#e6057f"/>
<circle cx="75.5" cy="141.2" r="1.3" fill="#e6057f"/>
<circle cx="92.4" cy="125.1" r="1.3" fill="#e6057f"/>
<circle cx="71.6" cy="137.7" r="1.3" fill="#e6057f"/>
<circle cx="83.2" cy="132.4" r="1.3" fill="#e6057f"/>
<circle cx="91.7" cy="123.4" r="1.3" fill="#e6057f"/>
<circle cx="98.7" cy="119.4" r="1.3" fill="#e6057f"/>
<circle cx="70.2" cy="144.1" r="1.3" fill="#e6057f"/>
<circle cx="117.0" cy="99.4" r="1.3" fill="#e6057f"/>
<circle cx="79.7" cy="132.1" r="1.3" fill="#e6057f"/>
<circle cx="82.0" cy="132.8" r="1.3" fill="#e6057f"/>
<circle cx="115.7" cy="100.1" r="1.3" fill="#e6057f"/>
<circle cx="89.3" cy="128.4" r="1.3" fill="#e6057f"/>
<circle cx="64.2" cy="149.0" r="1.3" fill="#e6057f"/>
<circle cx="60.3" cy="141.1" r="1.3" fill="#e6057f"/>
<circle cx="104.6" cy="109.9" r="1.3" fill="#e6057f"/>
<circle cx="106.3" cy="110.0" r="1.3" fill="#e6057f"/>
<circle cx="121.0" cy="92.6" r="1.3" fill="#e6057f"/>
<circle cx="99.1" cy="116.1" r="1.3" fill="#e6057f"/>
<circle cx="117.8" cy="97.0" r="1.3" fill="#e6057f"/>
<circle cx="119.8" cy="93.9" r="1.3" fill="#e6057f"/>
<circle cx="98.1" cy="118.4" r="1.3" fill="#e6057f"/>
<circle cx="103.9" cy="116.0" r="1.3" fill="#e6057f"/>
<circle cx="90.1" cy="123.2" r="1.3" fill="#e6057f"/>
<circle cx="86.4" cy="125.2" r="1.3" fill="#e6057f"/>
<circle cx="103.7" cy="114.0" r="1.3" fill="#e6057f"/>
<circle cx="87.4" cy="120.2" r="1.3" fill="#e6057f"/>
<circle cx="86.1" cy="130.4" r="1.3" fill="#e6057f"/>
<circle cx="91.2" cy="117.7" r="1.3" fill="#e6057f"/>
<circle cx="92.9" cy="119.8" r="1.3" fill="#e6057f"/>
<circle cx="102.0" cy="110.9" r="1.3" fill="#e6057f"/>
<circle cx="109.5" cy="107.5" r="1.3" fill="#e6057f"/>
<circle cx="77.6" cy="134.5" r="1.3" fill="#e6057f"/>
<circle cx="94.0" cy="117.6" r="1.3" fill="#e6057f"/>
<circle cx="92.2" cy="120.5" r="1.3" fill="#e6057f"/>
<circle cx="78.2" cy="138.8" r="1.3" fill="#e6057f"/>
<circle cx="76.9" cy="136.3" r="1.3" fill="#e6057f"/>
<circle cx="123.7" cy="92.6" r="1.3" fill="#e6057f"/>
<circle cx="87.9" cy="127.0" r="1.3" fill="#e6057f"/>
<circle cx="66.4" cy="149.1" r="1.3" fill="#e6057f"/>
<circle cx="93.8" cy="122.4" r="1.3" fill="#e6057f"/>
<circle cx="70.3" cy="139.9" r="1.3" fill="#e6057f"/>
<circle cx="61.6" cy="153.7" r="1.3" fill="#e6057f"/>
<circle cx="127.3" cy="88.5" r="1.3" fill="#e6057f"/>
<circle cx="105.2" cy="110.8" r="1.3" fill="#e6057f"/>
<circle cx="92.5" cy="124.0" r="1.3" fill="#e6057f"/>
<circle cx="68.8" cy="146.6" r="1.3" fill="#e6057f"/>
<circle cx="116.7" cy="96.3" r="1.3" fill="#e6057f"/>
<circle cx="68.3" cy="145.4" r="1.3" fill="#e6057f"/>
<circle cx="114.1" cy="100.7" r="1.3" fill="#e6057f"/>
<circle cx="76.2" cy="137.9" r="1.3" fill="#e6057f"/>
<circle cx="98.5" cy="116.9" r="1.3" fill="#e6057f"/>
<circle cx="65.9" cy="149.9" r="1.3" fill="#e6057f"/>
<circle cx="79.2" cy="130.6" r="1.3" fill="#e6057f"/>
<circle cx="69.9" cy="145.7" r="1.3" fill="#e6057f"/>
<circle cx="104.9" cy="111.9" r="1.3" fill="#e6057f"/>
<circle cx="86.1" cy="128.8" r="1.3" fill="#e6057f"/>
<circle cx="126.0" cy="87.2" r="1.3" fill="#e6057f"/>
<circle cx="104.6" cy="110.9" r="1.3" fill="#e6057f"/>
<circle cx="86.8" cy="128.0" r="1.3" fill="#e6057f"/>
<circle cx="90.9" cy="124.0" r="1.3" fill="#e6057f"/>
<circle cx="110.4" cy="106.5" r="1.3" fill="#e6057f"/>
<circle cx="82.9" cy="132.8" r="1.3" fill="#e6057f"/>
<circle cx="77.3" cy="133.7" r="1.3" fill="#e6057f"/>
<circle cx="88.6" cy="128.2" r="1.3" fill="#e6057f"/>
<circle cx="109.8" cy="104.9" r="1.3" fill="#e6057f"/>
<circle cx="111.5" cy="105.6" r="1.3" fill="#e6057f"/>
<circle cx="97.7" cy="117.2" r="1.3" fill="#e6057f"/>
<circle cx="90.0" cy="126.2" r="1.3" fill="#e6057f"/>
<circle cx="88.0" cy="124.9" r="1.3" fill="#e6057f"/>
<circle cx="82.8" cy="137.8" r="1.3" fill="#e6057f"/>
<circle cx="125.9" cy="87.4" r="1.3" fill="#e6057f"/>
<circle cx="119.7" cy="98.1" r="1.3" fill="#e6057f"/>
<circle cx="136.8" cy="78.6" r="1.3" fill="#e6057f"/>
<circle cx="100.5" cy="111.2" r="1.3" fill="#e6057f"/>
<circle cx="96.8" cy="116.9" r="1.3" fill="#e6057f"/>
<circle cx="120.4" cy="94.4" r="1.3" fill="#e6057f"/>
<circle cx="70.1" cy="144.0" r="1.3" fill="#e6057f"/>
<circle cx="132.9" cy="82.3" r="1.3" fill="#e6057f"/>
<circle cx="122.0" cy="94.4" r="1.3" fill="#e6057f"/>
<circle cx="117.5" cy="95.3" r="1.3" fill="#e6057f"/>
<circle cx="93.4" cy="126.4" r="1.3" fill="#e6057f"/>
<circle cx="121.0" cy="95.5" r="1.3" fill="#e6057f"/>
<circle cx="125.7" cy="88.6" r="1.3" fill="#e6057f"/>
<circle cx="87.5" cy="125.9" r="1.3" fill="#e6057f"/>
<circle cx="90.0" cy="127.0" r="1.3" fill="#e6057f"/>
<circle cx="71.2" cy="138.8" r="1.3" fill="#e6057f"/>
<circle cx="90.3" cy="125.2" r="1.3" fill="#e6057f"/>
<circle cx="96.3" cy="117.2" r="1.3" fill="#e6057f"/>
<circle cx="96.7" cy="119.6" r="1.3" fill="#e6057f"/>
<circle cx="88.7" cy="129.3" r="1.3" fill="#e6057f"/>
<circle cx="98.2" cy="115.7" r="1.3" fill="#e6057f"/>
<circle cx="70.0" cy="138.1" r="1.3" fill="#e6057f"/>
<circle cx="73.7" cy="138.8" r="1.3" fill="#e6057f"/>
<circle cx="78.2" cy="131.0" r="1.3" fill="#e6057f"/>
<circle cx="93.3" cy="120.3" r="1.3" fill="#e6057f"/>
<circle cx="61.3" cy="147.4" r="1.3" fill="#e6057f"/>
<circle cx="84.8" cy="126.2" r="1.3" fill="#e6057f"/>
<circle cx="105.7" cy="110.9" r="1.3" fill="#e6057f"/>
<circle cx="79.2" cy="133.7" r="1.3" fill="#e6057f"/>
<circle cx="72.4" cy="142.2" r="1.3" fill="#e6057f"/>
<circle cx="102.6" cy="110.0" r="1.3" fill="#e6057f"/>
<circle cx="82.5" cy="134.7" r="1.3" fill="#e6057f"/>
<circle cx="74.8" cy="140.7" r="1.3" fill="#e6057f"/>
<circle cx="86.4" cy="126.1" r="1.3" fill="#e6057f"/>
<circle cx="118.6" cy="96.6" r="1.3" fill="#e6057f"/>
<circle cx="89.3" cy="121.1" r="1.3" fill="#e6057f"/>
<circle cx="119.8" cy="92.7" r="1.3" fill="#e6057f"/>
<circle cx="98.8" cy="119.0" r="1.3" fill="#e6057f"/>
<circle cx="114.8" cy="101.7" r="1.3" fill="#e6057f"/>
<circle cx="124.4" cy="91.5" r="1.3" fill="#e6057f"/>
<circle cx="120.1" cy="94.5" r="1.3" fill="#e6057f"/>
<circle cx="93.4" cy="122.8" r="1.3" fill="#e6057f"/>
<circle cx="141.7" cy="73.9" r="1.3" fill="#e6057f"/>
<circle cx="116.2" cy="97.8" r="1.3" fill="#e6057f"/>
<circle cx="95.9" cy="114.2" r="1.3" fill="#e6057f"/>
<circle cx="90.7" cy="123.4" r="1.3" fill="#e6057f"/>
<circle cx="99.2" cy="116.4" r="1.3" fill="#e6057f"/>
<circle cx="114.4" cy="102.1" r="1.3" fill="#e6057f"/>
<circle cx="103.1" cy="111.1" r="1.3" fill="#e6057f"/>
<circle cx="95.5" cy="123.7" r="1.3" fill="#e6057f"/>
<circle cx="96.1" cy="114.0" r="1.3" fill="#e6057f"/>
<circle cx="110.1" cy="104.8" r="1.3" fill="#e6057f"/>
<circle cx="84.9" cy="137.6" r="1.3" fill="#e6057f"/>
<circle cx="131.7" cy="82.1" r="1.3" fill="#e6057f"/>
<circle cx="77.1" cy="139.4" r="1.3" fill="#e6057f"/>
<circle cx="107.7" cy="105.8" r="1.3" fill="#e6057f"/>
<circle cx="114.2" cy="100.5" r="1.3" fill="#e6057f"/>
<circle cx="106.7" cy="108.7" r="1.3" fill="#e6057f"/>
<circle cx="123.0" cy="92.8" r="1.3" fill="#e6057f"/>
<circle cx="114.3" cy="96.4" r="1.3" fill="#e6057f"/>
<circle cx="113.5" cy="104.3" r="1.3" fill="#e6057f"/>
<circle cx="121.9" cy="94.0" r="1.3" fill="#e6057f"/>
<circle cx="129.2" cy="84.4" r="1.3" fill="#e6057f"/>
<circle cx="143.9" cy="72.1" r="1.3" fill="#e6057f"/>
<circle cx="105.0" cy="110.9" r="1.3" fill="#e6057f"/>
<circle cx="71.8" cy="136.5" r="1.3" fill="#e6057f"/>
<circle cx="64.2" cy="148.1" r="1.3" fill="#e6057f"/>
<circle cx="99.1" cy="115.4" r="1.3" fill="#e6057f"/>
<circle cx="93.3" cy="121.8" r="1.3" fill="#e6057f"/>
<circle cx="133.6" cy="81.6" r="1.3" fill="#e6057f"/>
<circle cx="97.2" cy="118.2" r="1.3" fill="#e6057f"/>
<circle cx="104.7" cy="106.3" r="1.3" fill="#e6057f"/>
<circle cx="126.4" cy="87.4" r="1.3" fill="#e6057f"/>
<circle cx="79.1" cy="131.1" r="1.3" fill="#e6057f"/>
<circle cx="72.6" cy="144.0" r="1.3" fill="#e6057f"/>
<circle cx="96.5" cy="120.7" r="1.3" fill="#e6057f"/>
<circle cx="111.2" cy="102.6" r="1.3" fill="#e6057f"/>
<circle cx="77.7" cy="131.0" r="1.3" fill="#e6057f"/>
<circle cx="101.1" cy="112.2" r="1.3" fill="#e6057f"/>
<circle cx="103.9" cy="113.0" r="1.3" fill="#e6057f"/>
<circle cx="66.2" cy="145.4" r="1.3" fill="#e6057f"/>
<circle cx="77.1" cy="136.5" r="1.3" fill="#e6057f"/>
<circle cx="80.8" cy="133.6" r="1.3" fill="#e6057f"/>
<circle cx="109.8" cy="105.5" r="1.3" fill="#e6057f"/>
<circle cx="85.3" cy="128.8" r="1.3" fill="#e6057f"/>
<circle cx="130.2" cy="84.5" r="1.3" fill="#e6057f"/>
<circle cx="81.9" cy="131.5" r="1.3" fill="#e6057f"/>
<circle cx="83.2" cy="129.6" r="1.3" fill="#e6057f"/>
<circle cx="79.3" cy="130.6" r="1.3" fill="#e6057f"/>
<circle cx="124.9" cy="91.5" r="1.3" fill="#e6057f"/>
<circle cx="97.5" cy="122.5" r="1.3" fill="#e6057f"/>
<circle cx="80.3" cy="129.6" r="1.3" fill="#e6057f"/>
<circle cx="116.7" cy="96.9" r="1.3" fill="#e6057f"/>
<circle cx="86.3" cy="129.8" r="1.3" fill="#e6057f"/>
<circle cx="127.1" cy="86.8" r="1.3" fill="#e6057f"/>
<circle cx="83.2" cy="134.8" r="1.3" fill="#e6057f"/>
<circle cx="104.9" cy="108.4" r="1.3" fill="#e6057f"/>
<circle cx="122.8" cy="92.6" r="1.3" fill="#e6057f"/>
<circle cx="104.9" cy="110.1" r="1.3" fill="#e6057f"/>
<circle cx="76.2" cy="141.4" r="1.3" fill="#e6057f"/>
<circle cx="74.0" cy="140.9" r="1.3" fill="#e6057f"/>
<circle cx="112.1" cy="102.1" r="1.3" fill="#e6057f"/>
<circle cx="111.4" cy="102.9" r="1.3" fill="#e6057f"/>
<circle cx="64.9" cy="150.2" r="1.3" fill="#e6057f"/>
<circle cx="83.5" cy="135.5" r="1.3" fill="#e6057f"/>
<circle cx="86.8" cy="127.6" r="1.3" fill="#e6057f"/>
<circle cx="109.6" cy="103.7" r="1.3" fill="#e6057f"/>
<circle cx="78.4" cy="136.7" r="1.3" fill="#e6057f"/>
<circle cx="104.4" cy="110.0" r="1.3" fill="#e6057f"/>
<circle cx="84.6" cy="126.8" r="1.3" fill="#e6057f"/>
<circle cx="123.9" cy="91.1" r="1.3" fill="#e6057f"/>
<circle cx="111.1" cy="107.0" r="1.3" fill="#e6057f"/>
<circle cx="111.5" cy="103.4" r="1.3" fill="#e6057f"/>
<circle cx="101.7" cy="113.9" r="1.3" fill="#e6057f"/>
<circle cx="92.4" cy="119.2" r="1.3" fill="#e6057f"/>
<circle cx="88.2" cy="124.1" r="1.3" fill="#e6057f"/>
<circle cx="98.7" cy="117.8" r="1.3" fill="#e6057f"/>
<circle cx="130.1" cy="87.5" r="1.3" fill="#e6057f"/>
<circle cx="106.1" cy="106.5" r="1.3" fill="#e6057f"/>
<circle cx="91.6" cy="124.3" r="1.3" fill="#e6057f"/>
<circle cx="69.3" cy="142.4" r="1.3" fill="#e6057f"/>
<circle cx="97.3" cy="111.5" r="1.3" fill="#e6057f"/>
<circle cx="103.7" cy="112.9" r="1.3" fill="#e6057f"/>
<circle cx="116.2" cy="98.9" r="1.3" fill="#e6057f"/>
<circle cx="127.5" cy="88.2" r="1.3" fill="#e6057f"/>
<circle cx="67.7" cy="139.4" r="1.3" fill="#e6057f"/>
<circle cx="105.2" cy="111.3" r="1.3" fill="#e6057f"/>
<circle cx="65.4" cy="147.0" r="1.3" fill="#e6057f"/>
<circle cx="73.7" cy="142.8" r="1.3" fill="#e6057f"/>
<circle cx="105.9" cy="107.2" r="1.3" fill="#e6057f"/>
<circle cx="98.7" cy="117.6" r="1.3" fill="#e6057f"/>
<circle cx="99.6" cy="116.0" r="1.3" fill="#e6057f"/>
<circle cx="72.6" cy="145.8" r="1.3" fill="#e6057f"/>
<circle cx="96.7" cy="120.6" r="1.3" fill="#e6057f"/>
<circle cx="143.7" cy="73.0" r="1.3" fill="#e6057f"/>
<circle cx="108.2" cy="105.1" r="1.3" fill="#e6057f"/>
<circle cx="73.2" cy="132.4" r="1.3" fill="#e6057f"/>
<circle cx="107.6" cy="104.8" r="1.3" fill="#e6057f"/>
<circle cx="79.0" cy="137.8" r="1.3" fill="#e6057f"/>
<circle cx="110.7" cy="104.5" r="1.3" fill="#e6057f"/>
<circle cx="98.4" cy="117.3" r="1.3" fill="#e6057f"/>
<circle cx="86.3" cy="130.0" r="1.3" fill="#e6057f"/>
<circle cx="121.8" cy="92.6" r="1.3" fill="#e6057f"/>
<circle cx="87.7" cy="125.3" r="1.3" fill="#e6057f"/>
<circle cx="120.6" cy="92.6" r="1.3" fill="#e6057f"/>
<circle cx="107.8" cy="101.9" r="1.3" fill="#e6057f"/>
<circle cx="81.8" cy="129.0" r="1.3" fill="#e6057f"/>
<circle cx="94.1" cy="118.9" r="1.3" fill="#e6057f"/>
<circle cx="94.7" cy="123.5" r="1.3" fill="#e6057f"/>
<circle cx="104.3" cy="104.2" r="1.3" fill="#e6057f"/>
<circle cx="100.4" cy="117.0" r="1.3" fill="#e6057f"/>
<circle cx="104.3" cy="109.5" r="1.3" fill="#e6057f"/>
<circle cx="106.3" cy="107.8" r="1.3" fill="#e6057f"/>
<circle cx="77.3" cy="137.0" r="1.3" fill="#e6057f"/>
<circle cx="116.1" cy="98.1" r="1.3" fill="#e6057f"/>
<circle cx="75.4" cy="139.5" r="1.3" fill="#e6057f"/>
<circle cx="111.5" cy="103.6" r="1.3" fill="#e6057f"/>
<circle cx="77.1" cy="131.9" r="1.3" fill="#e6057f"/>
<circle cx="85.5" cy="127.8" r="1.3" fill="#e6057f"/>
<circle cx="87.3" cy="129.3" r="1.3" fill="#e6057f"/>
<circle cx="92.3" cy="120.1" r="1.3" fill="#e6057f"/>
<circle cx="74.3" cy="135.1" r="1.3" fill="#e6057f"/>
<circle cx="97.3" cy="116.9" r="1.3" fill="#e6057f"/>
<circle cx="79.6" cy="136.6" r="1.3" fill="#e6057f"/>
<circle cx="101.5" cy="115.2" r="1.3" fill="#e6057f"/>
<circle cx="109.6" cy="105.0" r="1.3" fill="#e6057f"/>
<circle cx="66.5" cy="147.0" r="1.3" fill="#e6057f"/>
<circle cx="112.5" cy="103.5" r="1.3" fill="#e6057f"/>
<circle cx="98.0" cy="119.4" r="1.3" fill="#e6057f"/>
<circle cx="112.5" cy="104.9" r="1.3" fill="#e6057f"/>
<circle cx="128.7" cy="87.2" r="1.3" fill="#e6057f"/>
<circle cx="87.8" cy="125.6" r="1.3" fill="#e6057f"/>
<circle cx="103.4" cy="109.3" r="1.3" fill="#e6057f"/>
<circle cx="64.2" cy="145.4" r="1.3" fill="#e6057f"/>
<circle cx="115.5" cy="101.2" r="1.3" fill="#e6057f"/>
<circle cx="75.5" cy="139.3" r="1.3" fill="#e6057f"/>
<circle cx="93.6" cy="121.8" r="1.3" fill="#e6057f"/>
<circle cx="126.5" cy="88.9" r="1.3" fill="#e6057f"/>
<circle cx="128.6" cy="89.5" r="1.3" fill="#e6057f"/>
<circle cx="76.0" cy="137.2" r="1.3" fill="#e6057f"/>
<circle cx="71.2" cy="147.5" r="1.3" fill="#e6057f"/>
<circle cx="87.2" cy="123.4" r="1.3" fill="#e6057f"/>
<circle cx="81.4" cy="136.1" r="1.3" fill="#e6057f"/>
<circle cx="90.5" cy="120.6" r="1.3" fill="#e6057f"/>
<circle cx="98.2" cy="118.5" r="1.3" fill="#e6057f"/>
<circle cx="121.6" cy="93.1" r="1.3" fill="#e6057f"/>
<circle cx="113.1" cy="101.0" r="1.3" fill="#e6057f"/>
<circle cx="76.7" cy="137.1" r="1.3" fill="#e6057f"/>
<circle cx="79.2" cy="134.8" r="1.3" fill="#e6057f"/>
<circle cx="80.0" cy="132.4" r="1.3" fill="#e6057f"/>
<circle cx="99.7" cy="116.4" r="1.3" fill="#e6057f"/>
<circle cx="96.6" cy="116.8" r="1.3" fill="#e6057f"/>
<circle cx="82.5" cy="133.6" r="1.3" fill="#e6057f"/>
<circle cx="85.5" cy="128.6" r="1.3" fill="#e6057f"/>
<circle cx="62.1" cy="149.8" r="1.3" fill="#e6057f"/>
<circle cx="84.6" cy="130.4" r="1.3" fill="#e6057f"/>
<circle cx="89.7" cy="121.9" r="1.3" fill="#e6057f"/>
<circle cx="104.0" cy="110.6" r="1.3" fill="#e6057f"/>
<circle cx="97.0" cy="120.5" r="1.3" fill="#e6057f"/>
<circle cx="83.8" cy="129.5" r="1.3" fill="#e6057f"/>
<circle cx="102.9" cy="115.1" r="1.3" fill="#e6057f"/>
<circle cx="76.9" cy="139.9" r="1.3" fill="#e6057f"/>
<circle cx="74.7" cy="141.8" r="1.3" fill="#e6057f"/>
<circle cx="106.8" cy="107.0" r="1.3" fill="#e6057f"/>
<circle cx="84.7" cy="119.9" r="1.3" fill="#e6057f"/>
<circle cx="144.0" cy="71.2" r="1.3" fill="#e6057f"/>
<circle cx="67.1" cy="147.4" r="1.3" fill="#e6057f"/>
<circle cx="89.4" cy="124.6" r="1.3" fill="#e6057f"/>
<circle cx="100.7" cy="111.9" r="1.3" fill="#e6057f"/>
<circle cx="133.7" cy="80.9" r="1.3" fill="#e6057f"/>
<circle cx="81.8" cy="137.6" r="1.3" fill="#e6057f"/>
<circle cx="92.5" cy="125.8" r="1.3" fill="#e6057f"/>
<circle cx="138.9" cy="75.3" r="1.3" fill="#e6057f"/>
<circle cx="140.1" cy="77.0" r="1.3" fill="#e6057f"/>
<circle cx="90.4" cy="129.9" r="1.3" fill="#e6057f"/>
<circle cx="76.2" cy="137.8" r="1.3" fill="#e6057f"/>
<circle cx="101.9" cy="115.5" r="1.3" fill="#e6057f"/>
<circle cx="67.1" cy="144.2" r="1.3" fill="#e6057f"/>
<circle cx="108.7" cy="111.5" r="1.3" fill="#e6057f"/>
<circle cx="71.5" cy="134.9" r="1.3" fill="#e6057f"/>
<circle cx="102.3" cy="111.9" r="1.3" fill="#e6057f"/>
<circle cx="88.6" cy="124.1" r="1.3" fill="#e6057f"/>
<circle cx="91.2" cy="127.7" r="1.3" fill="#e6057f"/>
<circle cx="115.0" cy="98.3" r="1.3" fill="#e6057f"/>
<circle cx="90.6" cy="129.6" r="1.3" fill="#e6057f"/>
<circle cx="74.5" cy="141.3" r="1.3" fill="#e6057f"/>
<circle cx="141.6" cy="73.0" r="1.3" fill="#e6057f"/>
<circle cx="64.4" cy="150.8" r="1.3" fill="#e6057f"/>
<circle cx="85.8" cy="132.7" r="1.3" fill="#e6057f"/>
<circle cx="82.7" cy="131.3" r="1.3" fill="#e6057f"/>
<circle cx="95.8" cy="115.2" r="1.3" fill="#e6057f"/>
<circle cx="117.9" cy="95.4" r="1.3" fill="#e6057f"/>
<circle cx="84.6" cy="129.2" r="1.3" fill="#e6057f"/>
<circle cx="66.3" cy="148.5" r="1.3" fill="#e6057f"/>
<circle cx="122.0" cy="91.3" r="1.3" fill="#e6057f"/>
<circle cx="85.2" cy="128.9" r="1.3" fill="#e6057f"/>
<circle cx="120.2" cy="93.4" r="1.3" fill="#e6057f"/>
<circle cx="84.9" cy="131.7" r="1.3" fill="#e6057f"/>
<circle cx="99.2" cy="111.6" r="1.3" fill="#e6057f"/>
<circle cx="144.8" cy="70.3" r="1.3" fill="#e6057f"/>
<circle cx="79.3" cy="136.5" r="1.3" fill="#e6057f"/>
<circle cx="98.0" cy="119.4" r="1.3" fill="#e6057f"/>
<circle cx="90.3" cy="123.9" r="1.3" fill="#e6057f"/>
<circle cx="82.3" cy="131.7" r="1.3" fill="#e6057f"/>
<circle cx="79.1" cy="127.3" r="1.3" fill="#e6057f"/>
<circle cx="113.4" cy="102.9" r="1.3" fill="#e6057f"/>
<circle cx="92.3" cy="122.1" r="1.3" fill="#e6057f"/>
<circle cx="109.0" cy="105.8" r="1.3" fill="#e6057f"/>
<circle cx="98.6" cy="109.2" r="1.3" fill="#e6057f"/>
<circle cx="60.8" cy="148.0" r="1.3" fill="#e6057f"/>
<circle cx="127.2" cy="86.5" r="1.3" fill="#e6057f"/>
<circle cx="88.5" cy="130.3" r="1.3" fill="#e6057f"/>
<circle cx="100.1" cy="114.9" r="1.3" fill="#e6057f"/>
<circle cx="92.2" cy="126.1" r="1.3" fill="#e6057f"/>
<circle cx="69.8" cy="145.3" r="1.3" fill="#e6057f"/>
<circle cx="73.1" cy="139.8" r="1.3" fill="#e6057f"/>
<circle cx="115.6" cy="100.5" r="1.3" fill="#e6057f"/>
<circle cx="81.4" cy="136.4" r="1.3" fill="#e6057f"/>
<circle cx="69.4" cy="143.5" r="1.3" fill="#e6057f"/>
<circle cx="88.5" cy="127.1" r="1.3" fill="#e6057f"/>
<circle cx="88.0" cy="130.3" r="1.3" fill="#e6057f"/>
<circle cx="115.0" cy="100.6" r="1.3" fill="#e6057f"/>
<circle cx="79.1" cy="135.2" r="1.3" fill="#e6057f"/>
<circle cx="89.0" cy="128.0" r="1.3" fill="#e6057f"/>
<circle cx="111.9" cy="105.0" r="1.3" fill="#e6057f"/>
<circle cx="84.7" cy="130.1" r="1.3" fill="#e6057f"/>
<circle cx="123.6" cy="90.8" r="1.3" fill="#e6057f"/>
<circle cx="67.6" cy="139.3" r="1.3" fill="#e6057f"/>
<circle cx="86.3" cy="131.7" r="1.3" fill="#e6057f"/>
<circle cx="114.6" cy="98.6" r="1.3" fill="#e6057f"/>
<circle cx="74.1" cy="131.3" r="1.05" fill="#c9c7cc"/>
<circle cx="90.3" cy="114.0" r="1.05" fill="#c9c7cc"/>
<circle cx="101.3" cy="107.2" r="1.05" fill="#c9c7cc"/>
<circle cx="76.9" cy="128.6" r="1.05" fill="#c9c7cc"/>
<circle cx="73.1" cy="132.7" r="1.05" fill="#c9c7cc"/>
<circle cx="107.5" cy="101.4" r="1.05" fill="#c9c7cc"/>
<circle cx="88.2" cy="141.0" r="1.05" fill="#c9c7cc"/>
<circle cx="115.8" cy="108.9" r="1.05" fill="#c9c7cc"/>
<circle cx="151.4" cy="73.1" r="1.05" fill="#c9c7cc"/>
<circle cx="82.6" cy="126.7" r="1.05" fill="#c9c7cc"/>
<circle cx="76.5" cy="132.9" r="1.05" fill="#c9c7cc"/>
<circle cx="77.9" cy="131.8" r="1.05" fill="#c9c7cc"/>
<circle cx="115.5" cy="90.6" r="1.05" fill="#c9c7cc"/>
<circle cx="94.9" cy="112.0" r="1.05" fill="#c9c7cc"/>
<circle cx="124.0" cy="85.4" r="1.05" fill="#c9c7cc"/>
<circle cx="137.3" cy="72.0" r="1.05" fill="#c9c7cc"/>
<circle cx="73.7" cy="150.0" r="1.05" fill="#c9c7cc"/>
<circle cx="81.2" cy="127.9" r="1.05" fill="#c9c7cc"/>
<circle cx="119.8" cy="85.8" r="1.05" fill="#c9c7cc"/>
<circle cx="100.8" cy="103.9" r="1.05" fill="#c9c7cc"/>
<circle cx="62.2" cy="146.4" r="1.05" fill="#c9c7cc"/>
<circle cx="83.2" cy="125.6" r="1.05" fill="#c9c7cc"/>
<circle cx="106.3" cy="96.6" r="1.05" fill="#c9c7cc"/>
<circle cx="80.7" cy="140.5" r="1.05" fill="#c9c7cc"/>
<circle cx="94.3" cy="115.1" r="1.05" fill="#c9c7cc"/>
<circle cx="89.4" cy="118.1" r="1.05" fill="#c9c7cc"/>
<circle cx="97.6" cy="110.9" r="1.05" fill="#c9c7cc"/>
<circle cx="92.3" cy="112.6" r="1.05" fill="#c9c7cc"/>
<circle cx="121.0" cy="79.2" r="1.05" fill="#c9c7cc"/>
<circle cx="70.7" cy="136.1" r="1.05" fill="#c9c7cc"/>
<circle cx="117.6" cy="88.5" r="1.05" fill="#c9c7cc"/>
<circle cx="75.1" cy="116.4" r="1.05" fill="#c9c7cc"/>
<circle cx="128.4" cy="78.4" r="1.05" fill="#c9c7cc"/>
<circle cx="74.4" cy="130.2" r="1.05" fill="#c9c7cc"/>
<circle cx="91.2" cy="112.6" r="1.05" fill="#c9c7cc"/>
<circle cx="124.2" cy="68.4" r="1.05" fill="#c9c7cc"/>
<circle cx="143.9" cy="79.7" r="1.05" fill="#c9c7cc"/>
<circle cx="73.8" cy="123.3" r="1.05" fill="#c9c7cc"/>
<circle cx="84.7" cy="138.4" r="1.05" fill="#c9c7cc"/>
<circle cx="109.3" cy="113.0" r="1.05" fill="#c9c7cc"/>
<circle cx="100.8" cy="103.6" r="1.05" fill="#c9c7cc"/>
<circle cx="77.2" cy="129.5" r="1.05" fill="#c9c7cc"/>
<circle cx="113.0" cy="115.9" r="1.05" fill="#c9c7cc"/>
<circle cx="134.7" cy="67.9" r="1.05" fill="#c9c7cc"/>
<circle cx="105.2" cy="97.8" r="1.05" fill="#c9c7cc"/>
<circle cx="86.0" cy="136.7" r="1.05" fill="#c9c7cc"/>
<circle cx="72.9" cy="135.7" r="1.05" fill="#c9c7cc"/>
<circle cx="70.1" cy="153.9" r="1.05" fill="#c9c7cc"/>
<circle cx="84.5" cy="117.7" r="1.05" fill="#c9c7cc"/>
<circle cx="87.6" cy="121.4" r="1.05" fill="#c9c7cc"/>
<circle cx="97.1" cy="124.7" r="1.05" fill="#c9c7cc"/>
<circle cx="90.9" cy="118.3" r="1.05" fill="#c9c7cc"/>
<circle cx="119.8" cy="88.2" r="1.05" fill="#c9c7cc"/>
<circle cx="76.7" cy="131.1" r="1.05" fill="#c9c7cc"/>
<circle cx="78.8" cy="127.8" r="1.05" fill="#c9c7cc"/>
<circle cx="113.5" cy="90.3" r="1.05" fill="#c9c7cc"/>
<circle cx="88.1" cy="118.9" r="1.05" fill="#c9c7cc"/>
<circle cx="90.5" cy="112.2" r="1.05" fill="#c9c7cc"/>
<circle cx="107.7" cy="116.3" r="1.05" fill="#c9c7cc"/>
<circle cx="63.1" cy="145.7" r="1.05" fill="#c9c7cc"/>
<circle cx="59.9" cy="149.1" r="1.05" fill="#c9c7cc"/>
<circle cx="110.7" cy="96.4" r="1.05" fill="#c9c7cc"/>
<circle cx="60.3" cy="142.7" r="1.05" fill="#c9c7cc"/>
<circle cx="117.2" cy="104.8" r="1.05" fill="#c9c7cc"/>
<circle cx="71.7" cy="151.7" r="1.05" fill="#c9c7cc"/>
<circle cx="80.8" cy="123.8" r="1.05" fill="#c9c7cc"/>
<circle cx="143.1" cy="81.4" r="1.05" fill="#c9c7cc"/>
<circle cx="90.6" cy="117.5" r="1.05" fill="#c9c7cc"/>
<circle cx="85.8" cy="119.7" r="1.05" fill="#c9c7cc"/>
<circle cx="95.1" cy="111.3" r="1.05" fill="#c9c7cc"/>
<circle cx="143.6" cy="63.4" r="1.05" fill="#c9c7cc"/>
<circle cx="130.4" cy="77.4" r="1.05" fill="#c9c7cc"/>
<circle cx="143.2" cy="62.7" r="1.05" fill="#c9c7cc"/>
<circle cx="84.6" cy="125.0" r="1.05" fill="#c9c7cc"/>
<circle cx="75.1" cy="123.8" r="1.05" fill="#c9c7cc"/>
<circle cx="138.0" cy="80.8" r="1.2" fill="#e6057f"/>
<circle cx="138.4" cy="77.3" r="1.2" fill="#e6057f"/>
<circle cx="139.9" cy="74.9" r="1.2" fill="#e6057f"/>
<circle cx="142.8" cy="73.9" r="1.2" fill="#e6057f"/>
<circle cx="143.2" cy="70.4" r="1.2" fill="#e6057f"/>
<circle cx="145.7" cy="69.1" r="1.2" fill="#e6057f"/>
<circle cx="146.8" cy="66.3" r="1.2" fill="#e6057f"/>
<circle cx="150.1" cy="65.6" r="1.2" fill="#e6057f"/>
<circle cx="151.9" cy="63.5" r="1.2" fill="#e6057f"/>
<circle cx="153.3" cy="61.1" r="1.2" fill="#e6057f"/>
<circle cx="155.1" cy="59.0" r="1.2" fill="#e6057f"/>
<circle cx="156.5" cy="56.5" r="1.2" fill="#e6057f"/>
<circle cx="161" cy="53.5" r="1.1" fill="#c9c7cc"/>
<circle cx="163" cy="51" r="1.1" fill="#c9c7cc"/>
<circle cx="156" cy="57" r="1.1" fill="#c9c7cc"/>
<circle cx="111.7" cy="78.8" r="1.3" fill="#d8006f"/>
<circle cx="116.8" cy="79.4" r="1.3" fill="#d8006f"/>
<circle cx="100.6" cy="87" r="1.3" fill="#d8006f"/>
<circle cx="93" cy="87.9" r="1.3" fill="#d8006f"/>
<circle cx="88.7" cy="89.6" r="1.3" fill="#d8006f"/>
<circle cx="111.7" cy="85.6" r="1.3" fill="#d8006f"/>
<circle cx="79.4" cy="87.9" r="1.3" fill="#d8006f"/>
<circle cx="76.8" cy="94.7" r="1.3" fill="#d8006f"/>
<circle cx="94.7" cy="94.7" r="1.3" fill="#d8006f"/>
<circle cx="101.5" cy="97.2" r="1.3" fill="#d8006f"/>
<circle cx="104" cy="99" r="1.3" fill="#d8006f"/>
<circle cx="99.8" cy="101.5" r="1.3" fill="#d8006f"/>
<circle cx="75.1" cy="102.3" r="1.3" fill="#d8006f"/>
<circle cx="93.8" cy="103.2" r="1.3" fill="#d8006f"/>
<circle cx="95.5" cy="106.6" r="1.3" fill="#d8006f"/>
<circle cx="102.3" cy="104" r="1.3" fill="#d8006f"/>
<circle cx="73.4" cy="110.8" r="1.3" fill="#d8006f"/>
<circle cx="82.8" cy="111.7" r="1.3" fill="#d8006f"/>
<circle cx="85.3" cy="114.2" r="1.3" fill="#d8006f"/>
<circle cx="78.5" cy="117.6" r="1.3" fill="#d8006f"/>
<circle cx="70" cy="112.5" r="1.3" fill="#d8006f"/>
<circle cx="92" cy="109" r="1.3" fill="#d8006f"/>
<circle cx="105.7" cy="92.1" r="1.3" fill="#d8006f"/>
<circle cx="75.6" cy="111.9" r="1.3" fill="#d8006f"/>
<circle cx="62.3" cy="122.1" r="1.3" fill="#d8006f"/>
<circle cx="69.5" cy="122.1" r="1.3" fill="#d8006f"/>
<circle cx="107" cy="79.5" r="1.3" fill="#d8006f"/>
<circle cx="84" cy="101.5" r="1.3" fill="#d8006f"/>
<circle cx="66" cy="128" r="1.3" fill="#d8006f"/>
<circle cx="88" cy="118" r="1.3" fill="#d8006f"/>
<circle cx="76" cy="113" r="1.3" fill="#d8006f"/>
<circle cx="80" cy="115" r="1.3" fill="#d8006f"/>
<circle cx="86" cy="120" r="1.3" fill="#d8006f"/>
<circle cx="82" cy="108" r="1.3" fill="#d8006f"/>
<circle cx="89" cy="112" r="1.3" fill="#d8006f"/>
<path d="M45.05 49 V159.95 H175.4" fill="none" stroke="#2a2a2a" stroke-width="1.25"/>
<path d="M42.0 54.4 H45" stroke="#2a2a2a" stroke-width="1"/>
<text x="38.90" y="57.20" font-size="8" fill="#333" text-anchor="end" font-weight="normal" textLength="7.40" lengthAdjust="spacingAndGlyphs" stroke="#333" stroke-width="0.22">38</text>
<path d="M42.0 82.6 H45" stroke="#2a2a2a" stroke-width="1"/>
<text x="38.90" y="85.40" font-size="8" fill="#333" text-anchor="end" font-weight="normal" textLength="7.40" lengthAdjust="spacingAndGlyphs" stroke="#333" stroke-width="0.22">34</text>
<path d="M42.0 111.4 H45" stroke="#2a2a2a" stroke-width="1"/>
<text x="38.90" y="114.20" font-size="8" fill="#333" text-anchor="end" font-weight="normal" textLength="7.40" lengthAdjust="spacingAndGlyphs" stroke="#333" stroke-width="0.22">30</text>
<path d="M42.0 140 H45" stroke="#2a2a2a" stroke-width="1"/>
<text x="38.90" y="142.80" font-size="8" fill="#333" text-anchor="end" font-weight="normal" textLength="7.40" lengthAdjust="spacingAndGlyphs" stroke="#333" stroke-width="0.22">26</text>
<path d="M44.6 160 V162.8" stroke="#2a2a2a" stroke-width="1"/>
<text x="44.60" y="172.60" font-size="8" fill="#333" text-anchor="middle" font-weight="normal" textLength="7.40" lengthAdjust="spacingAndGlyphs" stroke="#333" stroke-width="0.22">22</text>
<path d="M75.8 160 V162.8" stroke="#2a2a2a" stroke-width="1"/>
<text x="75.80" y="172.60" font-size="8" fill="#333" text-anchor="middle" font-weight="normal" textLength="7.40" lengthAdjust="spacingAndGlyphs" stroke="#333" stroke-width="0.22">26</text>
<path d="M106.9 160 V162.8" stroke="#2a2a2a" stroke-width="1"/>
<text x="106.90" y="172.60" font-size="8" fill="#333" text-anchor="middle" font-weight="normal" textLength="7.40" lengthAdjust="spacingAndGlyphs" stroke="#333" stroke-width="0.22">30</text>
<path d="M137.8 160 V162.8" stroke="#2a2a2a" stroke-width="1"/>
<text x="137.80" y="172.60" font-size="8" fill="#333" text-anchor="middle" font-weight="normal" textLength="7.40" lengthAdjust="spacingAndGlyphs" stroke="#333" stroke-width="0.22">34</text>
<path d="M169.2 160 V162.8" stroke="#2a2a2a" stroke-width="1"/>
<text x="169.20" y="172.60" font-size="8" fill="#333" text-anchor="middle" font-weight="normal" textLength="7.40" lengthAdjust="spacingAndGlyphs" stroke="#333" stroke-width="0.22">38</text>
<text x="71.60" y="185.00" font-size="9" fill="#222" text-anchor="start" font-weight="normal" textLength="77.90" lengthAdjust="spacingAndGlyphs" stroke="#222" stroke-width="0.22">Log2 intensity, PHF8_AA</text>
<text x="0" y="0" font-size="9" fill="#222" stroke="#222" stroke-width="0.22" transform="translate(25.3 143.9) rotate(-90)" textLength="78.6" lengthAdjust="spacingAndGlyphs">Log2 intensity, PHF8_DD</text>
<text x="90.20" y="43.70" font-size="9.4" fill="#222" text-anchor="start" font-weight="normal" textLength="40.60" lengthAdjust="spacingAndGlyphs" stroke="#222" stroke-width="0.22">Apoptosis</text>
<text x="93.60" y="68.50" font-size="7.6" fill="#d0106f" text-anchor="start" font-weight="normal" textLength="21.40" lengthAdjust="spacingAndGlyphs" stroke="#d0106f" stroke-width="0.15">IFITM3</text>
<text x="92.60" y="75.90" font-size="7.6" fill="#d0106f" text-anchor="start" font-weight="normal" textLength="20.20" lengthAdjust="spacingAndGlyphs" stroke="#d0106f" stroke-width="0.15">ISG15</text>
<text x="116.90" y="75.20" font-size="7.6" fill="#d0106f" text-anchor="start" font-weight="normal" textLength="18.50" lengthAdjust="spacingAndGlyphs" stroke="#d0106f" stroke-width="0.15">STAT1</text>
<text x="70.60" y="79.20" font-size="7.6" fill="#d0106f" text-anchor="start" font-weight="normal" textLength="15.30" lengthAdjust="spacingAndGlyphs" stroke="#d0106f" stroke-width="0.15">IFIT3</text>
<text x="86.50" y="81.40" font-size="7.6" fill="#d0106f" text-anchor="start" font-weight="normal" textLength="16.20" lengthAdjust="spacingAndGlyphs" stroke="#d0106f" stroke-width="0.15">OAS2</text>
<text x="66.00" y="86.00" font-size="7.6" fill="#d0106f" text-anchor="start" font-weight="normal" textLength="13.80" lengthAdjust="spacingAndGlyphs" stroke="#d0106f" stroke-width="0.15">MX1</text>
<text x="62.00" y="90.60" font-size="7.6" fill="#d0106f" text-anchor="start" font-weight="normal" textLength="14.10" lengthAdjust="spacingAndGlyphs" stroke="#d0106f" stroke-width="0.15">IFIT1</text>
<text x="95.10" y="93.00" font-size="7.6" fill="#d0106f" text-anchor="start" font-weight="normal" textLength="18.40" lengthAdjust="spacingAndGlyphs" stroke="#d0106f" stroke-width="0.15">OAS3</text>
<text x="57.80" y="96.10" font-size="7.6" fill="#d0106f" text-anchor="start" font-weight="normal" textLength="14.30" lengthAdjust="spacingAndGlyphs" stroke="#d0106f" stroke-width="0.15">IFIT2</text>
<text x="79.80" y="99.70" font-size="7.6" fill="#d0106f" text-anchor="start" font-weight="normal" textLength="11.60" lengthAdjust="spacingAndGlyphs" stroke="#d0106f" stroke-width="0.15">MX2</text>
<text x="55.90" y="101.30" font-size="7.6" fill="#d0106f" text-anchor="start" font-weight="normal" textLength="14.70" lengthAdjust="spacingAndGlyphs" stroke="#d0106f" stroke-width="0.15">IFIH1</text>
<text x="53.50" y="105.90" font-size="7.6" fill="#d0106f" text-anchor="start" font-weight="normal" textLength="16.00" lengthAdjust="spacingAndGlyphs" stroke="#d0106f" stroke-width="0.15">OASL</text>
<text x="77.50" y="107.30" font-size="7.6" fill="#d0106f" text-anchor="start" font-weight="normal" textLength="12.90" lengthAdjust="spacingAndGlyphs" stroke="#d0106f" stroke-width="0.15">OAS1</text>
<text x="54.00" y="111.50" font-size="7.6" fill="#d0106f" text-anchor="start" font-weight="normal" textLength="14.30" lengthAdjust="spacingAndGlyphs" stroke="#d0106f" stroke-width="0.15">IFIT5</text>
<text x="50.40" y="117.50" font-size="7.6" fill="#d0106f" text-anchor="start" font-weight="normal" textLength="17.90" lengthAdjust="spacingAndGlyphs" stroke="#d0106f" stroke-width="0.15">ISG20</text>
<text x="38.50" y="123.90" font-size="7.6" fill="#d0106f" text-anchor="start" font-weight="normal" textLength="22.10" lengthAdjust="spacingAndGlyphs" stroke="#d0106f" stroke-width="0.15">DDX58</text>
<text x="42.80" y="129.90" font-size="7.6" fill="#d0106f" text-anchor="start" font-weight="normal" textLength="25.50" lengthAdjust="spacingAndGlyphs" stroke="#d0106f" stroke-width="0.15">S100A13</text>
<ellipse cx="88.0" cy="253" rx="20.3" ry="18.5" fill="#c8c4e7"/>
<ellipse cx="113.5" cy="252.9" rx="25.7" ry="22.7" fill="#f095c2"/>
<clipPath id="cg"><ellipse cx="88.0" cy="253" rx="20.3" ry="18.5"/></clipPath>
<ellipse cx="113.5" cy="252.9" rx="25.7" ry="22.7" fill="#c676b6" clip-path="url(#cg)"/>
<text x="77.70" y="256.20" font-size="7.6" fill="#222" text-anchor="middle" font-weight="normal" textLength="11.20" lengthAdjust="spacingAndGlyphs" stroke="#222" stroke-width="0.22">202</text>
<text x="97.60" y="256.20" font-size="7.6" fill="#222" text-anchor="middle" font-weight="normal" textLength="8.00" lengthAdjust="spacingAndGlyphs" stroke="#222" stroke-width="0.22">80</text>
<text x="119.00" y="256.20" font-size="7.6" fill="#222" text-anchor="middle" font-weight="normal" textLength="12.00" lengthAdjust="spacingAndGlyphs" stroke="#222" stroke-width="0.22">724</text>
<text x="61.30" y="279.20" font-size="8" fill="#333" text-anchor="start" font-weight="normal" textLength="39.00" lengthAdjust="spacingAndGlyphs" stroke="#333" stroke-width="0.1">IFN signaling</text>
<text x="100.40" y="285.80" font-size="8" fill="#333" text-anchor="start" font-weight="normal" textLength="30.60" lengthAdjust="spacingAndGlyphs" stroke="#333" stroke-width="0.1">Apoptosis</text>
<text x="249.20" y="31.70" font-size="8.8" fill="#222" text-anchor="middle" font-weight="normal" textLength="18.50" lengthAdjust="spacingAndGlyphs" stroke="#222" stroke-width="0.22">IFIT1</text>
<path d="M231.2 36.8 V101.4 H267.7" fill="none" stroke="#222" stroke-width="1"/>
<path d="M227.89999999999998 58.1 H231.2" stroke="#222" stroke-width="0.9"/>
<text x="224.40" y="60.70" font-size="6.4" fill="#444" text-anchor="end" font-weight="normal" stroke="#444" stroke-width="0.1">1</text>
<path d="M227.89999999999998 80.8 H231.2" stroke="#222" stroke-width="0.9"/>
<text x="224.40" y="83.40" font-size="6.4" fill="#444" text-anchor="end" font-weight="normal" stroke="#444" stroke-width="0.1">0</text>
<path d="M236.39999999999998 101.4 V104.4" stroke="#222" stroke-width="0.9"/>
<path d="M245.1 101.4 V104.4" stroke="#222" stroke-width="0.9"/>
<path d="M253.79999999999998 101.4 V104.4" stroke="#222" stroke-width="0.9"/>
<path d="M262.4 101.4 V104.4" stroke="#222" stroke-width="0.9"/>
<path d="M236.39999999999998 40.2 V43.6" stroke="#3a3040" stroke-width="0.8"/>
<path d="M236.39999999999998 45.4 V45.4" stroke="#3a3040" stroke-width="0.8"/>
<rect x="232.89999999999998" y="43.6" width="7.0" height="1.80" fill="#471658"/>
<path d="M232.89999999999998 44.5 H239.89999999999998" stroke="#111111" stroke-width="0.9"/>
<rect x="241.6" y="92.4" width="7.0" height="3.50" fill="#c7771f"/>
<path d="M241.6 94.0 H248.6" stroke="#2a1505" stroke-width="0.9"/>
<rect x="250.29999999999998" y="94.2" width="7.0" height="1.30" fill="#9d95cc"/>
<path d="M250.29999999999998 94.8 H257.29999999999995" stroke="#151515" stroke-width="1.2"/>
<circle cx="253.79999999999998" cy="98.2" r="1.15" fill="#111"/>
<path d="M262.4 76.6 V81.8" stroke="#4a4a3a" stroke-width="0.8"/>
<path d="M262.4 98.5 V99.3" stroke="#4a4a3a" stroke-width="0.8"/>
<rect x="258.9" y="81.8" width="7.0" height="16.70" fill="#f6be1c"/>
<path d="M258.9 90.4 H265.9" stroke="#2a2000" stroke-width="0.9"/>
<text x="309.20" y="31.70" font-size="8.8" fill="#222" text-anchor="middle" font-weight="normal" textLength="19.50" lengthAdjust="spacingAndGlyphs" stroke="#222" stroke-width="0.22">IFIT2</text>
<path d="M291.2 36.8 V101.4 H327.7" fill="none" stroke="#222" stroke-width="1"/>
<path d="M287.9 50.4 H291.2" stroke="#222" stroke-width="0.9"/>
<text x="284.40" y="53.00" font-size="6.4" fill="#444" text-anchor="end" font-weight="normal" stroke="#444" stroke-width="0.1">1</text>
<path d="M287.9 70.3 H291.2" stroke="#222" stroke-width="0.9"/>
<text x="284.40" y="72.90" font-size="6.4" fill="#444" text-anchor="end" font-weight="normal" stroke="#444" stroke-width="0.1">0</text>
<path d="M287.9 90.5 H291.2" stroke="#222" stroke-width="0.9"/>
<text x="284.40" y="93.10" font-size="6.4" fill="#444" text-anchor="end" font-weight="normal" stroke="#444" stroke-width="0.1">−1</text>
<path d="M296.4 101.4 V104.4" stroke="#222" stroke-width="0.9"/>
<path d="M305.09999999999997 101.4 V104.4" stroke="#222" stroke-width="0.9"/>
<path d="M313.8 101.4 V104.4" stroke="#222" stroke-width="0.9"/>
<path d="M322.4 101.4 V104.4" stroke="#222" stroke-width="0.9"/>
<rect x="292.9" y="40.2" width="7.0" height="1.00" fill="#471658"/>
<path d="M292.9 40.7 H299.9" stroke="#151515" stroke-width="1.2"/>
<circle cx="296.4" cy="44.0" r="1.15" fill="#111"/>
<path d="M305.09999999999997 60.6 V78.5" stroke="#5a5048" stroke-width="0.8"/>
<path d="M305.09999999999997 96.8 V97.5" stroke="#5a5048" stroke-width="0.8"/>
<rect x="301.59999999999997" y="78.5" width="7.0" height="18.30" fill="#c7771f"/>
<path d="M301.59999999999997 90.5 H308.59999999999997" stroke="#2a1505" stroke-width="0.9"/>
<path d="M313.8 72 V80.5" stroke="#4a4858" stroke-width="0.8"/>
<path d="M313.8 84.8 V86" stroke="#4a4858" stroke-width="0.8"/>
<rect x="310.3" y="80.5" width="7.0" height="4.30" fill="#9d95cc"/>
<path d="M310.3 83.6 H317.3" stroke="#1e1a50" stroke-width="0.9"/>
<rect x="318.9" y="73.4" width="7.0" height="1.00" fill="#f6be1c"/>
<path d="M318.9 73.9 H325.9" stroke="#151515" stroke-width="1.2"/>
<text x="369.20" y="31.70" font-size="8.8" fill="#222" text-anchor="middle" font-weight="normal" textLength="19.40" lengthAdjust="spacingAndGlyphs" stroke="#222" stroke-width="0.22">IFIT3</text>
<path d="M351.2 36.8 V101.4 H387.7" fill="none" stroke="#222" stroke-width="1"/>
<path d="M347.9 53.5 H351.2" stroke="#222" stroke-width="0.9"/>
<text x="344.40" y="56.10" font-size="6.4" fill="#444" text-anchor="end" font-weight="normal" stroke="#444" stroke-width="0.1">1</text>
<path d="M347.9 75.9 H351.2" stroke="#222" stroke-width="0.9"/>
<text x="344.40" y="78.50" font-size="6.4" fill="#444" text-anchor="end" font-weight="normal" stroke="#444" stroke-width="0.1">0</text>
<path d="M347.9 98.4 H351.2" stroke="#222" stroke-width="0.9"/>
<text x="344.40" y="101.00" font-size="6.4" fill="#444" text-anchor="end" font-weight="normal" stroke="#444" stroke-width="0.1">−1</text>
<path d="M356.4 101.4 V104.4" stroke="#222" stroke-width="0.9"/>
<path d="M365.09999999999997 101.4 V104.4" stroke="#222" stroke-width="0.9"/>
<path d="M373.8 101.4 V104.4" stroke="#222" stroke-width="0.9"/>
<path d="M382.4 101.4 V104.4" stroke="#222" stroke-width="0.9"/>
<rect x="352.9" y="39.7" width="7.0" height="1.00" fill="#471658"/>
<path d="M352.9 40.2 H359.9" stroke="#151515" stroke-width="1.2"/>
<rect x="361.59999999999997" y="93.5" width="7.0" height="4.40" fill="#c7771f"/>
<path d="M361.59999999999997 95.7 H368.59999999999997" stroke="#2a1505" stroke-width="0.9"/>
<circle cx="365.09999999999997" cy="82.5" r="1.15" fill="#111"/>
<path d="M373.8 92.5 V94.1" stroke="#4a4858" stroke-width="0.8"/>
<rect x="370.3" y="89.7" width="7.0" height="2.80" fill="#9d95cc"/>
<path d="M370.3 91.2 H377.3" stroke="#1e1a50" stroke-width="0.9"/>
<circle cx="373.8" cy="83.2" r="1.15" fill="#111"/>
<path d="M382.4 72.5 V74.0" stroke="#4a4a3a" stroke-width="0.8"/>
<path d="M382.4 82.7 V84.3" stroke="#4a4a3a" stroke-width="0.8"/>
<rect x="378.9" y="74.0" width="7.0" height="8.70" fill="#f6be1c"/>
<path d="M378.9 78.3 H385.9" stroke="#2a2000" stroke-width="0.9"/>
<text x="429.20" y="31.70" font-size="8.8" fill="#222" text-anchor="middle" font-weight="normal" textLength="19.50" lengthAdjust="spacingAndGlyphs" stroke="#222" stroke-width="0.22">IFIT5</text>
<path d="M411.2 36.8 V101.4 H447.7" fill="none" stroke="#222" stroke-width="1"/>
<path d="M407.9 54.7 H411.2" stroke="#222" stroke-width="0.9"/>
<text x="404.40" y="57.30" font-size="6.4" fill="#444" text-anchor="end" font-weight="normal" stroke="#444" stroke-width="0.1">1</text>
<path d="M407.9 76.7 H411.2" stroke="#222" stroke-width="0.9"/>
<text x="404.40" y="79.30" font-size="6.4" fill="#444" text-anchor="end" font-weight="normal" stroke="#444" stroke-width="0.1">0</text>
<path d="M407.9 98.4 H411.2" stroke="#222" stroke-width="0.9"/>
<text x="404.40" y="101.00" font-size="6.4" fill="#444" text-anchor="end" font-weight="normal" stroke="#444" stroke-width="0.1">−1</text>
<path d="M416.4 101.4 V104.4" stroke="#222" stroke-width="0.9"/>
<path d="M425.09999999999997 101.4 V104.4" stroke="#222" stroke-width="0.9"/>
<path d="M433.8 101.4 V104.4" stroke="#222" stroke-width="0.9"/>
<path d="M442.4 101.4 V104.4" stroke="#222" stroke-width="0.9"/>
<rect x="412.9" y="40.1" width="7.0" height="1.30" fill="#471658"/>
<path d="M412.9 40.7 H419.9" stroke="#151515" stroke-width="1.2"/>
<rect x="421.59999999999997" y="91.5" width="7.0" height="1.00" fill="#c7771f"/>
<path d="M421.59999999999997 92.0 H428.59999999999997" stroke="#151515" stroke-width="1.2"/>
<circle cx="425.09999999999997" cy="98.4" r="1.15" fill="#111"/>
<path d="M433.8 86.8 V89.4" stroke="#4a4858" stroke-width="0.8"/>
<path d="M433.8 91.9 V93.7" stroke="#4a4858" stroke-width="0.8"/>
<rect x="430.3" y="89.4" width="7.0" height="2.50" fill="#9d95cc"/>
<path d="M430.3 90.7 H437.3" stroke="#1e1a50" stroke-width="0.9"/>
<path d="M442.4 76.6 V79.7" stroke="#4a4a3a" stroke-width="0.8"/>
<path d="M442.4 84.3 V87.3" stroke="#4a4a3a" stroke-width="0.8"/>
<rect x="438.9" y="79.7" width="7.0" height="4.60" fill="#f6be1c"/>
<path d="M438.9 81.7 H445.9" stroke="#2a2000" stroke-width="0.9"/>
<text x="489.20" y="31.70" font-size="8.8" fill="#222" text-anchor="middle" font-weight="normal" textLength="19.60" lengthAdjust="spacingAndGlyphs" stroke="#222" stroke-width="0.22">IFI35</text>
<path d="M471.2 36.8 V101.4 H507.7" fill="none" stroke="#222" stroke-width="1"/>
<path d="M467.9 53.0 H471.2" stroke="#222" stroke-width="0.9"/>
<text x="464.40" y="55.60" font-size="6.4" fill="#444" text-anchor="end" font-weight="normal" stroke="#444" stroke-width="0.1">1</text>
<path d="M467.9 69.0 H471.2" stroke="#222" stroke-width="0.9"/>
<text x="464.40" y="71.60" font-size="6.4" fill="#444" text-anchor="end" font-weight="normal" stroke="#444" stroke-width="0.1">0</text>
<path d="M467.9 84.8 H471.2" stroke="#222" stroke-width="0.9"/>
<text x="464.40" y="87.40" font-size="6.4" fill="#444" text-anchor="end" font-weight="normal" stroke="#444" stroke-width="0.1">−1</text>
<path d="M476.4 101.4 V104.4" stroke="#222" stroke-width="0.9"/>
<path d="M485.09999999999997 101.4 V104.4" stroke="#222" stroke-width="0.9"/>
<path d="M493.8 101.4 V104.4" stroke="#222" stroke-width="0.9"/>
<path d="M502.4 101.4 V104.4" stroke="#222" stroke-width="0.9"/>
<path d="M476.4 38.9 V43.3" stroke="#3a3040" stroke-width="0.8"/>
<path d="M476.4 47.9 V53" stroke="#3a3040" stroke-width="0.8"/>
<rect x="472.9" y="43.3" width="7.0" height="4.60" fill="#471658"/>
<path d="M472.9 45.8 H479.9" stroke="#111111" stroke-width="0.9"/>
<rect x="481.59999999999997" y="67.1" width="7.0" height="18.50" fill="#c7771f"/>
<path d="M481.59999999999997 76.3 H488.59999999999997" stroke="#2a1505" stroke-width="0.9"/>
<path d="M493.8 64.9 V73.0" stroke="#4a4858" stroke-width="0.8"/>
<path d="M493.8 87.7 V98.9" stroke="#4a4858" stroke-width="0.8"/>
<rect x="490.3" y="73.0" width="7.0" height="14.70" fill="#9d95cc"/>
<path d="M490.3 80.1 H497.3" stroke="#1e1a50" stroke-width="0.9"/>
<path d="M502.4 66.5 V70.8" stroke="#4a4a3a" stroke-width="0.8"/>
<path d="M502.4 76.2 V79" stroke="#4a4a3a" stroke-width="0.8"/>
<rect x="498.9" y="70.8" width="7.0" height="5.40" fill="#f6be1c"/>
<path d="M498.9 73.5 H505.9" stroke="#2a2000" stroke-width="0.9"/>
<text x="249.20" y="122.50" font-size="8.8" fill="#222" text-anchor="middle" font-weight="normal" textLength="17.70" lengthAdjust="spacingAndGlyphs" stroke="#222" stroke-width="0.22">MX1</text>
<path d="M231.2 127.9 V192.3 H267.7" fill="none" stroke="#222" stroke-width="1"/>
<path d="M227.89999999999998 142.3 H231.2" stroke="#222" stroke-width="0.9"/>
<text x="224.40" y="144.90" font-size="6.4" fill="#444" text-anchor="end" font-weight="normal" stroke="#444" stroke-width="0.1">1</text>
<path d="M227.89999999999998 165.3 H231.2" stroke="#222" stroke-width="0.9"/>
<text x="224.40" y="167.90" font-size="6.4" fill="#444" text-anchor="end" font-weight="normal" stroke="#444" stroke-width="0.1">0</text>
<path d="M227.89999999999998 187.0 H231.2" stroke="#222" stroke-width="0.9"/>
<text x="224.40" y="189.60" font-size="6.4" fill="#444" text-anchor="end" font-weight="normal" stroke="#444" stroke-width="0.1">−1</text>
<path d="M236.39999999999998 192.3 V195.3" stroke="#222" stroke-width="0.9"/>
<path d="M245.1 192.3 V195.3" stroke="#222" stroke-width="0.9"/>
<path d="M253.79999999999998 192.3 V195.3" stroke="#222" stroke-width="0.9"/>
<path d="M262.4 192.3 V195.3" stroke="#222" stroke-width="0.9"/>
<rect x="232.89999999999998" y="130.5" width="7.0" height="1.00" fill="#471658"/>
<path d="M232.89999999999998 131 H239.89999999999998" stroke="#151515" stroke-width="1.2"/>
<rect x="241.6" y="186" width="7.0" height="2.30" fill="#c7771f"/>
<path d="M241.6 187 H248.6" stroke="#2a1505" stroke-width="0.9"/>
<path d="M253.79999999999998 165.1 V168.2" stroke="#4a4858" stroke-width="0.8"/>
<path d="M253.79999999999998 179.6 V188" stroke="#4a4858" stroke-width="0.8"/>
<rect x="250.29999999999998" y="168.2" width="7.0" height="11.40" fill="#9d95cc"/>
<path d="M250.29999999999998 172.2 H257.29999999999995" stroke="#1e1a50" stroke-width="0.9"/>
<path d="M262.4 160 V166.5" stroke="#4a4a3a" stroke-width="0.8"/>
<path d="M262.4 169.4 V173.9" stroke="#4a4a3a" stroke-width="0.8"/>
<rect x="258.9" y="166.5" width="7.0" height="2.90" fill="#f6be1c"/>
<path d="M258.9 168 H265.9" stroke="#2a2000" stroke-width="0.9"/>
<text x="309.20" y="122.50" font-size="8.8" fill="#222" text-anchor="middle" font-weight="normal" textLength="18.60" lengthAdjust="spacingAndGlyphs" stroke="#222" stroke-width="0.22">MX2</text>
<path d="M291.2 127.9 V192.3 H327.7" fill="none" stroke="#222" stroke-width="1"/>
<path d="M287.9 143.0 H291.2" stroke="#222" stroke-width="0.9"/>
<text x="284.40" y="145.60" font-size="6.4" fill="#444" text-anchor="end" font-weight="normal" stroke="#444" stroke-width="0.1">1</text>
<path d="M287.9 165.0 H291.2" stroke="#222" stroke-width="0.9"/>
<text x="284.40" y="167.60" font-size="6.4" fill="#444" text-anchor="end" font-weight="normal" stroke="#444" stroke-width="0.1">0</text>
<path d="M287.9 185.1 H291.2" stroke="#222" stroke-width="0.9"/>
<text x="284.40" y="187.70" font-size="6.4" fill="#444" text-anchor="end" font-weight="normal" stroke="#444" stroke-width="0.1">−1</text>
<path d="M296.4 192.3 V195.3" stroke="#222" stroke-width="0.9"/>
<path d="M305.09999999999997 192.3 V195.3" stroke="#222" stroke-width="0.9"/>
<path d="M313.8 192.3 V195.3" stroke="#222" stroke-width="0.9"/>
<path d="M322.4 192.3 V195.3" stroke="#222" stroke-width="0.9"/>
<rect x="292.9" y="130.9" width="7.0" height="1.00" fill="#471658"/>
<path d="M292.9 131.4 H299.9" stroke="#151515" stroke-width="1.2"/>
<rect x="301.59999999999997" y="167.7" width="7.0" height="1.80" fill="#c7771f"/>
<path d="M301.59999999999997 168.6 H308.59999999999997" stroke="#2a1505" stroke-width="0.9"/>
<rect x="310.3" y="181.2" width="7.0" height="4.60" fill="#9d95cc"/>
<path d="M310.3 185.0 H317.3" stroke="#1e1a50" stroke-width="0.9"/>
<circle cx="313.8" cy="171.9" r="1.15" fill="#111"/>
<path d="M322.4 169 V170.6" stroke="#4a4a3a" stroke-width="0.8"/>
<path d="M322.4 181.9 V189" stroke="#4a4a3a" stroke-width="0.8"/>
<rect x="318.9" y="170.6" width="7.0" height="11.30" fill="#f6be1c"/>
<path d="M318.9 174.9 H325.9" stroke="#2a2000" stroke-width="0.9"/>
<text x="369.20" y="122.50" font-size="8.8" fill="#222" text-anchor="middle" font-weight="normal" textLength="24.10" lengthAdjust="spacingAndGlyphs" stroke="#222" stroke-width="0.22">STAT1</text>
<path d="M351.2 127.9 V192.3 H387.7" fill="none" stroke="#222" stroke-width="1"/>
<path d="M347.9 148.3 H351.2" stroke="#222" stroke-width="0.9"/>
<text x="344.40" y="150.90" font-size="6.4" fill="#444" text-anchor="end" font-weight="normal" stroke="#444" stroke-width="0.1">1</text>
<path d="M347.9 173.4 H351.2" stroke="#222" stroke-width="0.9"/>
<text x="344.40" y="176.00" font-size="6.4" fill="#444" text-anchor="end" font-weight="normal" stroke="#444" stroke-width="0.1">0</text>
<path d="M356.4 192.3 V195.3" stroke="#222" stroke-width="0.9"/>
<path d="M365.09999999999997 192.3 V195.3" stroke="#222" stroke-width="0.9"/>
<path d="M373.8 192.3 V195.3" stroke="#222" stroke-width="0.9"/>
<path d="M382.4 192.3 V195.3" stroke="#222" stroke-width="0.9"/>
<rect x="352.9" y="130.8" width="7.0" height="1.20" fill="#471658"/>
<path d="M352.9 131.4 H359.9" stroke="#151515" stroke-width="1.2"/>
<rect x="361.59999999999997" y="184.4" width="7.0" height="2.70" fill="#c7771f"/>
<path d="M361.59999999999997 185.8 H368.59999999999997" stroke="#2a1505" stroke-width="0.9"/>
<rect x="370.3" y="188.5" width="7.0" height="1.00" fill="#9d95cc"/>
<path d="M370.3 189 H377.3" stroke="#151515" stroke-width="1.2"/>
<rect x="378.9" y="185" width="7.0" height="2.10" fill="#f6be1c"/>
<path d="M378.9 186 H385.9" stroke="#2a2000" stroke-width="0.9"/>
<text x="429.20" y="122.50" font-size="8.8" fill="#222" text-anchor="middle" font-weight="normal" textLength="23.90" lengthAdjust="spacingAndGlyphs" stroke="#222" stroke-width="0.22">OAS3</text>
<path d="M411.2 127.9 V192.3 H447.7" fill="none" stroke="#222" stroke-width="1"/>
<path d="M407.9 145.2 H411.2" stroke="#222" stroke-width="0.9"/>
<text x="404.40" y="147.80" font-size="6.4" fill="#444" text-anchor="end" font-weight="normal" stroke="#444" stroke-width="0.1">1</text>
<path d="M407.9 167.2 H411.2" stroke="#222" stroke-width="0.9"/>
<text x="404.40" y="169.80" font-size="6.4" fill="#444" text-anchor="end" font-weight="normal" stroke="#444" stroke-width="0.1">0</text>
<path d="M407.9 189.0 H411.2" stroke="#222" stroke-width="0.9"/>
<text x="404.40" y="191.60" font-size="6.4" fill="#444" text-anchor="end" font-weight="normal" stroke="#444" stroke-width="0.1">−1</text>
<path d="M416.4 192.3 V195.3" stroke="#222" stroke-width="0.9"/>
<path d="M425.09999999999997 192.3 V195.3" stroke="#222" stroke-width="0.9"/>
<path d="M433.8 192.3 V195.3" stroke="#222" stroke-width="0.9"/>
<path d="M442.4 192.3 V195.3" stroke="#222" stroke-width="0.9"/>
<path d="M416.4 133 V135.1" stroke="#3a3040" stroke-width="0.8"/>
<rect x="412.9" y="129.9" width="7.0" height="3.10" fill="#471658"/>
<path d="M412.9 131.5 H419.9" stroke="#111111" stroke-width="0.9"/>
<path d="M425.09999999999997 176 V178" stroke="#5a5048" stroke-width="0.8"/>
<path d="M425.09999999999997 181 V183" stroke="#5a5048" stroke-width="0.8"/>
<rect x="421.59999999999997" y="178" width="7.0" height="3.00" fill="#c7771f"/>
<path d="M421.59999999999997 179.5 H428.59999999999997" stroke="#2a1505" stroke-width="0.9"/>
<path d="M433.8 169.7 V174.9" stroke="#4a4858" stroke-width="0.8"/>
<path d="M433.8 184.1 V189" stroke="#4a4858" stroke-width="0.8"/>
<rect x="430.3" y="174.9" width="7.0" height="9.20" fill="#9d95cc"/>
<path d="M430.3 179.8 H437.3" stroke="#1e1a50" stroke-width="0.9"/>
<path d="M442.4 171.2 V176.7" stroke="#4a4a3a" stroke-width="0.8"/>
<path d="M442.4 181.9 V185" stroke="#4a4a3a" stroke-width="0.8"/>
<rect x="438.9" y="176.7" width="7.0" height="5.20" fill="#f6be1c"/>
<path d="M438.9 178.9 H445.9" stroke="#2a2000" stroke-width="0.9"/>
<text x="489.20" y="122.50" font-size="8.8" fill="#222" text-anchor="middle" font-weight="normal" textLength="23.10" lengthAdjust="spacingAndGlyphs" stroke="#222" stroke-width="0.22">OAS1</text>
<path d="M471.2 127.9 V192.3 H507.7" fill="none" stroke="#222" stroke-width="1"/>
<path d="M467.9 140.2 H471.2" stroke="#222" stroke-width="0.9"/>
<text x="464.40" y="142.80" font-size="6.4" fill="#444" text-anchor="end" font-weight="normal" stroke="#444" stroke-width="0.1">1</text>
<path d="M467.9 156.3 H471.2" stroke="#222" stroke-width="0.9"/>
<text x="464.40" y="158.90" font-size="6.4" fill="#444" text-anchor="end" font-weight="normal" stroke="#444" stroke-width="0.1">0</text>
<path d="M467.9 171.7 H471.2" stroke="#222" stroke-width="0.9"/>
<text x="464.40" y="174.30" font-size="6.4" fill="#444" text-anchor="end" font-weight="normal" stroke="#444" stroke-width="0.1">−1</text>
<path d="M467.9 187.4 H471.2" stroke="#222" stroke-width="0.9"/>
<text x="464.40" y="190.00" font-size="6.4" fill="#444" text-anchor="end" font-weight="normal" stroke="#444" stroke-width="0.1">−2</text>
<path d="M476.4 192.3 V195.3" stroke="#222" stroke-width="0.9"/>
<path d="M485.09999999999997 192.3 V195.3" stroke="#222" stroke-width="0.9"/>
<path d="M493.8 192.3 V195.3" stroke="#222" stroke-width="0.9"/>
<path d="M502.4 192.3 V195.3" stroke="#222" stroke-width="0.9"/>
<rect x="472.9" y="131.4" width="7.0" height="3.70" fill="#471658"/>
<path d="M472.9 133 H479.9" stroke="#111111" stroke-width="0.9"/>
<rect x="481.59999999999997" y="157.4" width="7.0" height="1.60" fill="#c7771f"/>
<path d="M481.59999999999997 158.2 H488.59999999999997" stroke="#151515" stroke-width="1.2"/>
<path d="M493.8 158.4 V159.6" stroke="#4a4858" stroke-width="0.8"/>
<path d="M493.8 173.7 V189" stroke="#4a4858" stroke-width="0.8"/>
<rect x="490.3" y="159.6" width="7.0" height="14.10" fill="#9d95cc"/>
<path d="M490.3 164.5 H497.3" stroke="#1e1a50" stroke-width="0.9"/>
<path d="M502.4 155.9 V160.5" stroke="#4a4a3a" stroke-width="0.8"/>
<path d="M502.4 166.6 V168.8" stroke="#4a4a3a" stroke-width="0.8"/>
<rect x="498.9" y="160.5" width="7.0" height="6.10" fill="#f6be1c"/>
<path d="M498.9 163.6 H505.9" stroke="#2a2000" stroke-width="0.9"/>
<text x="249.20" y="211.10" font-size="8.8" fill="#222" text-anchor="middle" font-weight="normal" textLength="28.60" lengthAdjust="spacingAndGlyphs" stroke="#222" stroke-width="0.22">DDX58</text>
<path d="M231.2 216.4 V283.3 H267.7" fill="none" stroke="#222" stroke-width="1"/>
<path d="M227.89999999999998 219.3 H231.2" stroke="#222" stroke-width="0.9"/>
<text x="224.40" y="221.90" font-size="6.4" fill="#444" text-anchor="end" font-weight="normal" stroke="#444" stroke-width="0.1">2</text>
<path d="M227.89999999999998 238.8 H231.2" stroke="#222" stroke-width="0.9"/>
<text x="224.40" y="241.40" font-size="6.4" fill="#444" text-anchor="end" font-weight="normal" stroke="#444" stroke-width="0.1">1</text>
<path d="M227.89999999999998 259.2 H231.2" stroke="#222" stroke-width="0.9"/>
<text x="224.40" y="261.80" font-size="6.4" fill="#444" text-anchor="end" font-weight="normal" stroke="#444" stroke-width="0.1">0</text>
<path d="M227.89999999999998 279.2 H231.2" stroke="#222" stroke-width="0.9"/>
<text x="224.40" y="281.80" font-size="6.4" fill="#444" text-anchor="end" font-weight="normal" stroke="#444" stroke-width="0.1">−1</text>
<path d="M236.39999999999998 283.3 V286.3" stroke="#222" stroke-width="0.9"/>
<path d="M245.1 283.3 V286.3" stroke="#222" stroke-width="0.9"/>
<path d="M253.79999999999998 283.3 V286.3" stroke="#222" stroke-width="0.9"/>
<path d="M262.4 283.3 V286.3" stroke="#222" stroke-width="0.9"/>
<path d="M236.39999999999998 220.3 V226.3" stroke="#3a3040" stroke-width="0.8"/>
<path d="M236.39999999999998 231.4 V237.1" stroke="#3a3040" stroke-width="0.8"/>
<rect x="232.89999999999998" y="226.3" width="7.0" height="5.10" fill="#471658"/>
<path d="M232.89999999999998 228.7 H239.89999999999998" stroke="#111111" stroke-width="0.9"/>
<path d="M245.1 273 V277.4" stroke="#5a5048" stroke-width="0.8"/>
<rect x="241.6" y="277.4" width="7.0" height="2.40" fill="#c7771f"/>
<path d="M241.6 278.9 H248.6" stroke="#2a1505" stroke-width="0.9"/>
<path d="M253.79999999999998 257.4 V262.8" stroke="#4a4858" stroke-width="0.8"/>
<path d="M253.79999999999998 267.0 V269.6" stroke="#4a4858" stroke-width="0.8"/>
<rect x="250.29999999999998" y="262.8" width="7.0" height="4.20" fill="#9d95cc"/>
<path d="M250.29999999999998 264.9 H257.29999999999995" stroke="#1e1a50" stroke-width="0.9"/>
<path d="M262.4 223.6 V250" stroke="#4a4a3a" stroke-width="0.8"/>
<rect x="258.9" y="250" width="7.0" height="25.20" fill="#f6be1c"/>
<path d="M258.9 266 H265.9" stroke="#2a2000" stroke-width="0.9"/>
<text x="309.20" y="211.10" font-size="8.8" fill="#222" text-anchor="middle" font-weight="normal" textLength="34.00" lengthAdjust="spacingAndGlyphs" stroke="#222" stroke-width="0.22">EIF2AK2</text>
<path d="M291.2 216.4 V283.3 H327.7" fill="none" stroke="#222" stroke-width="1"/>
<path d="M287.9 219.3 H291.2" stroke="#222" stroke-width="0.9"/>
<text x="284.40" y="221.90" font-size="6.4" fill="#444" text-anchor="end" font-weight="normal" stroke="#444" stroke-width="0.1">2</text>
<path d="M287.9 242.2 H291.2" stroke="#222" stroke-width="0.9"/>
<text x="284.40" y="244.80" font-size="6.4" fill="#444" text-anchor="end" font-weight="normal" stroke="#444" stroke-width="0.1">1</text>
<path d="M287.9 264.1 H291.2" stroke="#222" stroke-width="0.9"/>
<text x="284.40" y="266.70" font-size="6.4" fill="#444" text-anchor="end" font-weight="normal" stroke="#444" stroke-width="0.1">0</text>
<path d="M296.4 283.3 V286.3" stroke="#222" stroke-width="0.9"/>
<path d="M305.09999999999997 283.3 V286.3" stroke="#222" stroke-width="0.9"/>
<path d="M313.8 283.3 V286.3" stroke="#222" stroke-width="0.9"/>
<path d="M322.4 283.3 V286.3" stroke="#222" stroke-width="0.9"/>
<path d="M296.4 223.6 V225" stroke="#3a3040" stroke-width="0.8"/>
<rect x="292.9" y="222" width="7.0" height="1.60" fill="#471658"/>
<path d="M292.9 222.8 H299.9" stroke="#151515" stroke-width="1.2"/>
<rect x="301.59999999999997" y="269.8" width="7.0" height="1.70" fill="#c7771f"/>
<path d="M301.59999999999997 270.6 H308.59999999999997" stroke="#2a1505" stroke-width="0.9"/>
<path d="M313.8 270 V272.1" stroke="#4a4858" stroke-width="0.8"/>
<path d="M313.8 276 V279.5" stroke="#4a4858" stroke-width="0.8"/>
<rect x="310.3" y="272.1" width="7.0" height="3.90" fill="#9d95cc"/>
<path d="M310.3 274.2 H317.3" stroke="#1e1a50" stroke-width="0.9"/>
<path d="M322.4 264.6 V266" stroke="#4a4a3a" stroke-width="0.8"/>
<rect x="318.9" y="263.6" width="7.0" height="1.00" fill="#f6be1c"/>
<path d="M318.9 264.1 H325.9" stroke="#151515" stroke-width="1.2"/>
<text x="369.20" y="211.10" font-size="8.8" fill="#222" text-anchor="middle" font-weight="normal" textLength="20.40" lengthAdjust="spacingAndGlyphs" stroke="#222" stroke-width="0.22">IFIH1</text>
<path d="M351.2 216.4 V283.3 H387.7" fill="none" stroke="#222" stroke-width="1"/>
<path d="M347.9 228.0 H351.2" stroke="#222" stroke-width="0.9"/>
<text x="344.40" y="230.60" font-size="6.4" fill="#444" text-anchor="end" font-weight="normal" stroke="#444" stroke-width="0.1">1</text>
<path d="M347.9 247.9 H351.2" stroke="#222" stroke-width="0.9"/>
<text x="344.40" y="250.50" font-size="6.4" fill="#444" text-anchor="end" font-weight="normal" stroke="#444" stroke-width="0.1">0</text>
<path d="M347.9 267.5 H351.2" stroke="#222" stroke-width="0.9"/>
<text x="344.40" y="270.10" font-size="6.4" fill="#444" text-anchor="end" font-weight="normal" stroke="#444" stroke-width="0.1">−1</text>
<path d="M356.4 283.3 V286.3" stroke="#222" stroke-width="0.9"/>
<path d="M365.09999999999997 283.3 V286.3" stroke="#222" stroke-width="0.9"/>
<path d="M373.8 283.3 V286.3" stroke="#222" stroke-width="0.9"/>
<path d="M382.4 283.3 V286.3" stroke="#222" stroke-width="0.9"/>
<path d="M356.4 220 V221.5" stroke="#3a3040" stroke-width="0.8"/>
<rect x="352.9" y="221.5" width="7.0" height="1.00" fill="#471658"/>
<path d="M352.9 222 H359.9" stroke="#151515" stroke-width="1.2"/>
<path d="M365.09999999999997 256.3 V259" stroke="#5a5048" stroke-width="0.8"/>
<path d="M365.09999999999997 265.8 V268.5" stroke="#5a5048" stroke-width="0.8"/>
<rect x="361.59999999999997" y="259" width="7.0" height="6.80" fill="#c7771f"/>
<path d="M361.59999999999997 263 H368.59999999999997" stroke="#2a1505" stroke-width="0.9"/>
<path d="M373.8 265.8 V268.5" stroke="#4a4858" stroke-width="0.8"/>
<path d="M373.8 274.8 V279.5" stroke="#4a4858" stroke-width="0.8"/>
<rect x="370.3" y="268.5" width="7.0" height="6.30" fill="#9d95cc"/>
<path d="M370.3 272 H377.3" stroke="#1e1a50" stroke-width="0.9"/>
<path d="M382.4 228.2 V233.5" stroke="#4a4a3a" stroke-width="0.8"/>
<rect x="378.9" y="233.5" width="7.0" height="25.50" fill="#f6be1c"/>
<path d="M378.9 247.6 H385.9" stroke="#2a2000" stroke-width="0.9"/>
<text x="429.20" y="211.10" font-size="8.8" fill="#222" text-anchor="middle" font-weight="normal" textLength="28.80" lengthAdjust="spacingAndGlyphs" stroke="#222" stroke-width="0.22">DDX60</text>
<path d="M411.2 216.4 V283.3 H447.7" fill="none" stroke="#222" stroke-width="1"/>
<path d="M407.9 238.1 H411.2" stroke="#222" stroke-width="0.9"/>
<text x="404.40" y="240.70" font-size="6.4" fill="#444" text-anchor="end" font-weight="normal" stroke="#444" stroke-width="0.1">1</text>
<path d="M407.9 259.0 H411.2" stroke="#222" stroke-width="0.9"/>
<text x="404.40" y="261.60" font-size="6.4" fill="#444" text-anchor="end" font-weight="normal" stroke="#444" stroke-width="0.1">0</text>
<path d="M407.9 279.3 H411.2" stroke="#222" stroke-width="0.9"/>
<text x="404.40" y="281.90" font-size="6.4" fill="#444" text-anchor="end" font-weight="normal" stroke="#444" stroke-width="0.1">−1</text>
<path d="M416.4 283.3 V286.3" stroke="#222" stroke-width="0.9"/>
<path d="M425.09999999999997 283.3 V286.3" stroke="#222" stroke-width="0.9"/>
<path d="M433.8 283.3 V286.3" stroke="#222" stroke-width="0.9"/>
<path d="M442.4 283.3 V286.3" stroke="#222" stroke-width="0.9"/>
<path d="M416.4 221.3 V223.6" stroke="#3a3040" stroke-width="0.8"/>
<rect x="412.9" y="223.6" width="7.0" height="5.10" fill="#471658"/>
<path d="M412.9 226 H419.9" stroke="#111111" stroke-width="0.9"/>
<path d="M425.09999999999997 257.7 V260.4" stroke="#5a5048" stroke-width="0.8"/>
<path d="M425.09999999999997 264.5 V267.2" stroke="#5a5048" stroke-width="0.8"/>
<rect x="421.59999999999997" y="260.4" width="7.0" height="4.10" fill="#c7771f"/>
<path d="M421.59999999999997 263.1 H428.59999999999997" stroke="#2a1505" stroke-width="0.9"/>
<path d="M433.8 252.2 V254.1" stroke="#4a4858" stroke-width="0.8"/>
<path d="M433.8 275.4 V280.3" stroke="#4a4858" stroke-width="0.8"/>
<rect x="430.3" y="254.1" width="7.0" height="21.30" fill="#9d95cc"/>
<path d="M430.3 264.5 H437.3" stroke="#1e1a50" stroke-width="0.9"/>
<path d="M442.4 250.9 V253.6" stroke="#4a4a3a" stroke-width="0.8"/>
<path d="M442.4 263 V270" stroke="#4a4a3a" stroke-width="0.8"/>
<rect x="438.9" y="253.6" width="7.0" height="9.40" fill="#f6be1c"/>
<path d="M438.9 258.3 H445.9" stroke="#2a2000" stroke-width="0.9"/>
<path d="M473 227.7 V235.7" stroke="#3a3040" stroke-width="0.8"/>
<rect x="470.25" y="229.0" width="5.5" height="5.4" fill="#471658"/>
<path d="M470.25 231.7 H475.75" stroke="#111111" stroke-width="0.8"/>
<text x="480.20" y="234.45" font-size="7.6" fill="#3a3a3a" text-anchor="start" font-weight="normal" textLength="30.00" lengthAdjust="spacingAndGlyphs" stroke="#3a3a3a" stroke-width="0.12">PHF8_DD</text>
<path d="M473 239.2 V247.2" stroke="#5a5048" stroke-width="0.8"/>
<rect x="470.25" y="240.5" width="5.5" height="5.4" fill="#c7771f"/>
<path d="M470.25 243.2 H475.75" stroke="#2a1505" stroke-width="0.8"/>
<text x="480.20" y="245.95" font-size="7.6" fill="#3a3a3a" text-anchor="start" font-weight="normal" textLength="30.00" lengthAdjust="spacingAndGlyphs" stroke="#3a3a3a" stroke-width="0.12">PHF8_AA</text>
<path d="M473 252.89999999999998 V260.9" stroke="#4a4858" stroke-width="0.8"/>
<rect x="470.25" y="254.2" width="5.5" height="5.4" fill="#9d95cc"/>
<path d="M470.25 256.9 H475.75" stroke="#1e1a50" stroke-width="0.8"/>
<text x="480.20" y="259.65" font-size="7.6" fill="#3a3a3a" text-anchor="start" font-weight="normal" textLength="31.80" lengthAdjust="spacingAndGlyphs" stroke="#3a3a3a" stroke-width="0.12">F279S_DD</text>
<path d="M473 264.9 V272.9" stroke="#4a4a3a" stroke-width="0.8"/>
<rect x="470.25" y="266.2" width="5.5" height="5.4" fill="#f6be1c"/>
<path d="M470.25 268.9 H475.75" stroke="#2a2000" stroke-width="0.8"/>
<text x="480.20" y="271.65" font-size="7.6" fill="#3a3a3a" text-anchor="start" font-weight="normal" textLength="31.80" lengthAdjust="spacingAndGlyphs" stroke="#3a3a3a" stroke-width="0.12">F279S_AA</text>
<text x="7.20" y="16.90" font-size="11.6" fill="#111" text-anchor="start" font-weight="bold" stroke="#111" stroke-width="0.3">F</text>
<text x="7.20" y="223.10" font-size="11.6" fill="#111" text-anchor="start" font-weight="bold" stroke="#111" stroke-width="0.3">G</text>
<text x="191.90" y="17.10" font-size="11.6" fill="#111" text-anchor="start" font-weight="bold" stroke="#111" stroke-width="0.3">H</text></svg>
<svg width="520" height="294" viewBox="0 0 520 294" style="pointer-events:none"><rect x="0.5" y="0.5" width="519" height="293" fill="none" stroke="#565656" stroke-width="1"/></svg>
</body></html>
